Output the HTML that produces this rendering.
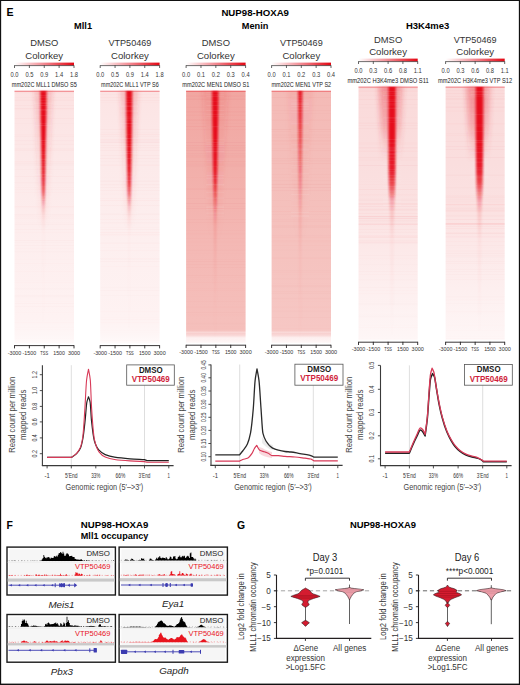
<!DOCTYPE html>
<html><head><meta charset="utf-8"><title>NUP98-HOXA9 figure</title>
<style>html,body{margin:0;padding:0;background:#fff;}body{width:520px;height:685px;overflow:hidden;font-family:"Liberation Sans",sans-serif;}svg{display:block;}</style>
</head><body>
<svg width="520" height="685" viewBox="0 0 520 685" font-family='"Liberation Sans", sans-serif'><defs><linearGradient id="cb0"><stop offset="0" stop-color="#fff"/><stop offset="0.5" stop-color="#f28890"/><stop offset="1" stop-color="#e30613"/></linearGradient><linearGradient id="hb0" x1="0" y1="0" x2="0" y2="1"><stop offset="0" stop-color="#fce2e2"/><stop offset="0.3" stop-color="#fce9e9"/><stop offset="0.6" stop-color="#fdeeee"/><stop offset="0.9" stop-color="#fef2f2"/><stop offset="0.97" stop-color="#fef6f6"/><stop offset="1" stop-color="#fffafa"/></linearGradient><linearGradient id="hh0" x1="0" y1="0" x2="0" y2="1"><stop offset="0" stop-color="#e8303a" stop-opacity="0.22"/><stop offset="0.4" stop-color="#e8303a" stop-opacity="0.12"/><stop offset="1" stop-color="#e8303a" stop-opacity="0"/></linearGradient><linearGradient id="st0" x1="0" y1="0" x2="0" y2="1"><stop offset="0" stop-color="#e6101c" stop-opacity="1"/><stop offset="0.1" stop-color="#e6101c" stop-opacity="1"/><stop offset="0.23" stop-color="#e6101c" stop-opacity="1"/><stop offset="0.3" stop-color="#e6101c" stop-opacity="0.95"/><stop offset="0.36" stop-color="#e6101c" stop-opacity="0.85"/><stop offset="0.4" stop-color="#e6101c" stop-opacity="0.7"/><stop offset="0.43" stop-color="#e6101c" stop-opacity="0.45"/><stop offset="0.46" stop-color="#e6101c" stop-opacity="0.22"/><stop offset="0.5" stop-color="#e6101c" stop-opacity="0.08"/><stop offset="0.56" stop-color="#e6101c" stop-opacity="0.02"/><stop offset="1" stop-color="#e6101c" stop-opacity="0"/></linearGradient><linearGradient id="cb1"><stop offset="0" stop-color="#fff"/><stop offset="0.5" stop-color="#f28890"/><stop offset="1" stop-color="#e30613"/></linearGradient><linearGradient id="hb1" x1="0" y1="0" x2="0" y2="1"><stop offset="0" stop-color="#fce4e4"/><stop offset="0.3" stop-color="#fceaea"/><stop offset="0.6" stop-color="#fdefef"/><stop offset="0.9" stop-color="#fef2f2"/><stop offset="0.97" stop-color="#fef6f6"/><stop offset="1" stop-color="#fffafa"/></linearGradient><linearGradient id="hh1" x1="0" y1="0" x2="0" y2="1"><stop offset="0" stop-color="#e8303a" stop-opacity="0.22"/><stop offset="0.4" stop-color="#e8303a" stop-opacity="0.12"/><stop offset="1" stop-color="#e8303a" stop-opacity="0"/></linearGradient><linearGradient id="st1" x1="0" y1="0" x2="0" y2="1"><stop offset="0" stop-color="#e6101c" stop-opacity="1"/><stop offset="0.1" stop-color="#e6101c" stop-opacity="1"/><stop offset="0.23" stop-color="#e6101c" stop-opacity="1"/><stop offset="0.3" stop-color="#e6101c" stop-opacity="0.95"/><stop offset="0.36" stop-color="#e6101c" stop-opacity="0.85"/><stop offset="0.4" stop-color="#e6101c" stop-opacity="0.7"/><stop offset="0.43" stop-color="#e6101c" stop-opacity="0.45"/><stop offset="0.46" stop-color="#e6101c" stop-opacity="0.22"/><stop offset="0.5" stop-color="#e6101c" stop-opacity="0.08"/><stop offset="0.56" stop-color="#e6101c" stop-opacity="0.02"/><stop offset="1" stop-color="#e6101c" stop-opacity="0"/></linearGradient><linearGradient id="cb2"><stop offset="0" stop-color="#fff"/><stop offset="0.5" stop-color="#f28890"/><stop offset="1" stop-color="#e30613"/></linearGradient><linearGradient id="hb2" x1="0" y1="0" x2="0" y2="1"><stop offset="0" stop-color="#f1a6a1"/><stop offset="0.3" stop-color="#f2afaa"/><stop offset="0.6" stop-color="#f4b8b4"/><stop offset="0.95" stop-color="#f5c0bc"/><stop offset="0.96" stop-color="#fad8d7"/><stop offset="0.96" stop-color="#f7cccb"/><stop offset="0.97" stop-color="#f9d6d5"/><stop offset="0.98" stop-color="#fdf0f0"/><stop offset="1" stop-color="#fef7f7"/></linearGradient><linearGradient id="hh2" x1="0" y1="0" x2="0" y2="1"><stop offset="0" stop-color="#e8303a" stop-opacity="0.13"/><stop offset="0.35" stop-color="#e8303a" stop-opacity="0.08"/><stop offset="1" stop-color="#e8303a" stop-opacity="0"/></linearGradient><linearGradient id="st2" x1="0" y1="0" x2="0" y2="1"><stop offset="0" stop-color="#e6101c" stop-opacity="1"/><stop offset="0.1" stop-color="#e6101c" stop-opacity="1"/><stop offset="0.23" stop-color="#e6101c" stop-opacity="1"/><stop offset="0.3" stop-color="#e6101c" stop-opacity="0.95"/><stop offset="0.36" stop-color="#e6101c" stop-opacity="0.85"/><stop offset="0.4" stop-color="#e6101c" stop-opacity="0.7"/><stop offset="0.45" stop-color="#e6101c" stop-opacity="0.45"/><stop offset="0.48" stop-color="#e6101c" stop-opacity="0.3"/><stop offset="0.53" stop-color="#e6101c" stop-opacity="0.15"/><stop offset="0.65" stop-color="#e6101c" stop-opacity="0.08"/><stop offset="0.8" stop-color="#e6101c" stop-opacity="0.03"/><stop offset="1" stop-color="#e6101c" stop-opacity="0"/></linearGradient><linearGradient id="cb3"><stop offset="0" stop-color="#fff"/><stop offset="0.5" stop-color="#f28890"/><stop offset="1" stop-color="#e30613"/></linearGradient><linearGradient id="hb3" x1="0" y1="0" x2="0" y2="1"><stop offset="0" stop-color="#f4bab6"/><stop offset="0.3" stop-color="#f4beba"/><stop offset="0.6" stop-color="#f5c2be"/><stop offset="0.95" stop-color="#f6c7c4"/><stop offset="0.96" stop-color="#fadad9"/><stop offset="0.96" stop-color="#f7cecd"/><stop offset="0.97" stop-color="#f9d8d7"/><stop offset="0.98" stop-color="#fdf0f0"/><stop offset="1" stop-color="#fef7f7"/></linearGradient><linearGradient id="hh3" x1="0" y1="0" x2="0" y2="1"><stop offset="0" stop-color="#e8303a" stop-opacity="0.06"/><stop offset="0.35" stop-color="#e8303a" stop-opacity="0.04"/><stop offset="1" stop-color="#e8303a" stop-opacity="0"/></linearGradient><linearGradient id="st3" x1="0" y1="0" x2="0" y2="1"><stop offset="0" stop-color="#e6101c" stop-opacity="0.92"/><stop offset="0.15" stop-color="#e6101c" stop-opacity="0.68"/><stop offset="0.3" stop-color="#e6101c" stop-opacity="0.42"/><stop offset="0.4" stop-color="#e6101c" stop-opacity="0.24"/><stop offset="0.5" stop-color="#e6101c" stop-opacity="0.12"/><stop offset="0.65" stop-color="#e6101c" stop-opacity="0.05"/><stop offset="1" stop-color="#e6101c" stop-opacity="0"/></linearGradient><linearGradient id="cb4"><stop offset="0" stop-color="#fff"/><stop offset="0.5" stop-color="#f28890"/><stop offset="1" stop-color="#e30613"/></linearGradient><linearGradient id="hb4" x1="0" y1="0" x2="0" y2="1"><stop offset="0" stop-color="#fadada"/><stop offset="0.3" stop-color="#fadede"/><stop offset="0.5" stop-color="#fbe2e2"/><stop offset="0.62" stop-color="#fce8e8"/><stop offset="0.8" stop-color="#fdefef"/><stop offset="1" stop-color="#fef6f6"/></linearGradient><linearGradient id="hh4" x1="0" y1="0" x2="0" y2="1"><stop offset="0" stop-color="#e8303a" stop-opacity="0.35"/><stop offset="0.3" stop-color="#e8303a" stop-opacity="0.25"/><stop offset="0.45" stop-color="#e8303a" stop-opacity="0.1"/><stop offset="0.6" stop-color="#e8303a" stop-opacity="0"/></linearGradient><linearGradient id="st4" x1="0" y1="0" x2="0" y2="1"><stop offset="0" stop-color="#e6101c" stop-opacity="1"/><stop offset="0.2" stop-color="#e6101c" stop-opacity="1"/><stop offset="0.33" stop-color="#e6101c" stop-opacity="0.92"/><stop offset="0.38" stop-color="#e6101c" stop-opacity="0.75"/><stop offset="0.42" stop-color="#e6101c" stop-opacity="0.5"/><stop offset="0.45" stop-color="#e6101c" stop-opacity="0.28"/><stop offset="0.5" stop-color="#e6101c" stop-opacity="0.12"/><stop offset="0.6" stop-color="#e6101c" stop-opacity="0.04"/><stop offset="1" stop-color="#e6101c" stop-opacity="0"/></linearGradient><linearGradient id="cb5"><stop offset="0" stop-color="#fff"/><stop offset="0.5" stop-color="#f28890"/><stop offset="1" stop-color="#e30613"/></linearGradient><linearGradient id="hb5" x1="0" y1="0" x2="0" y2="1"><stop offset="0" stop-color="#fadada"/><stop offset="0.3" stop-color="#fadede"/><stop offset="0.5" stop-color="#fbe2e2"/><stop offset="0.62" stop-color="#fce8e8"/><stop offset="0.8" stop-color="#fdefef"/><stop offset="1" stop-color="#fef6f6"/></linearGradient><linearGradient id="hh5" x1="0" y1="0" x2="0" y2="1"><stop offset="0" stop-color="#e8303a" stop-opacity="0.35"/><stop offset="0.3" stop-color="#e8303a" stop-opacity="0.25"/><stop offset="0.45" stop-color="#e8303a" stop-opacity="0.1"/><stop offset="0.6" stop-color="#e8303a" stop-opacity="0"/></linearGradient><linearGradient id="st5" x1="0" y1="0" x2="0" y2="1"><stop offset="0" stop-color="#e6101c" stop-opacity="1"/><stop offset="0.2" stop-color="#e6101c" stop-opacity="1"/><stop offset="0.33" stop-color="#e6101c" stop-opacity="0.92"/><stop offset="0.38" stop-color="#e6101c" stop-opacity="0.75"/><stop offset="0.42" stop-color="#e6101c" stop-opacity="0.5"/><stop offset="0.45" stop-color="#e6101c" stop-opacity="0.28"/><stop offset="0.5" stop-color="#e6101c" stop-opacity="0.12"/><stop offset="0.6" stop-color="#e6101c" stop-opacity="0.04"/><stop offset="1" stop-color="#e6101c" stop-opacity="0"/></linearGradient><filter id="bl1" x="-50%" y="-5%" width="200%" height="110%"><feGaussianBlur stdDeviation="0.9 0.2"/></filter><filter id="bl2" x="-50%" y="-5%" width="200%" height="110%"><feGaussianBlur stdDeviation="2 1"/></filter></defs><rect x="0" y="0" width="520" height="685" fill="#fff"/>
<rect x="0" y="0" width="1.15" height="685" fill="#111"/>
<rect x="518.85" y="0" width="1.15" height="685" fill="#111"/>
<rect x="0" y="0" width="520" height="1" fill="#111"/>
<rect x="0" y="683.6" width="520" height="1.4" fill="#111"/>
<text x="6.6" y="15.9" font-size="10.6" font-weight="bold" fill="#000">E</text>
<text x="255.2" y="15.9" font-size="9.1" text-anchor="middle" font-weight="bold" textLength="67.6" lengthAdjust="spacingAndGlyphs">NUP98-HOXA9</text>
<text x="83.1" y="29" font-size="9.3" text-anchor="middle" font-weight="bold" textLength="18" lengthAdjust="spacingAndGlyphs">Mll1</text>
<text x="255.1" y="29" font-size="9.3" text-anchor="middle" font-weight="bold" textLength="26.5" lengthAdjust="spacingAndGlyphs">Menin</text>
<text x="427.6" y="28.8" font-size="9.1" text-anchor="middle" font-weight="bold" textLength="43.2" lengthAdjust="spacingAndGlyphs">H3K4me3</text>
<text x="44.25" y="45.9" font-size="9.6" text-anchor="middle" fill="#333" textLength="28.2" lengthAdjust="spacingAndGlyphs">DMSO</text>
<text x="44.25" y="58.7" font-size="9.6" text-anchor="middle" fill="#333" textLength="37.8" lengthAdjust="spacingAndGlyphs">Colorkey</text>
<rect x="14.5" y="62.6" width="59.5" height="2.9" fill="url(#cb0)"/>
<line x1="14.5" y1="65.6" x2="74" y2="65.6" stroke="#333" stroke-width="0.7"/>
<line x1="14.5" y1="65.3" x2="14.5" y2="68" stroke="#333" stroke-width="0.75"/>
<text x="14.5" y="76.9" font-size="7.2" text-anchor="middle" fill="#333" textLength="8" lengthAdjust="spacingAndGlyphs">0.0</text>
<line x1="29.38" y1="65.3" x2="29.38" y2="68" stroke="#333" stroke-width="0.75"/>
<text x="29.38" y="76.9" font-size="7.2" text-anchor="middle" fill="#333" textLength="8" lengthAdjust="spacingAndGlyphs">0.5</text>
<line x1="44.25" y1="65.3" x2="44.25" y2="68" stroke="#333" stroke-width="0.75"/>
<text x="44.25" y="76.9" font-size="7.2" text-anchor="middle" fill="#333" textLength="8" lengthAdjust="spacingAndGlyphs">0.9</text>
<line x1="59.12" y1="65.3" x2="59.12" y2="68" stroke="#333" stroke-width="0.75"/>
<text x="59.12" y="76.9" font-size="7.2" text-anchor="middle" fill="#333" textLength="8" lengthAdjust="spacingAndGlyphs">1.4</text>
<line x1="74" y1="65.3" x2="74" y2="68" stroke="#333" stroke-width="0.75"/>
<text x="74" y="76.9" font-size="7.2" text-anchor="middle" fill="#333" textLength="8" lengthAdjust="spacingAndGlyphs">1.8</text>
<text x="44.25" y="87" font-size="6.8" text-anchor="middle" fill="#222" textLength="65" lengthAdjust="spacingAndGlyphs">mm202C MLL1 DMSO S5</text>
<rect x="14.5" y="90.8" width="59.5" height="252.4" fill="url(#hb0)"/>
<rect x="14.5" y="90.8" width="59.5" height="0.5" fill="#e0303a" opacity="0.03"/>
<rect x="14.5" y="92.41" width="59.5" height="0.7" fill="#e0303a" opacity="0.04"/>
<rect x="14.5" y="97.23" width="59.5" height="0.7" fill="#e0303a" opacity="0.02"/>
<rect x="14.5" y="98.84" width="59.5" height="0.7" fill="#e0303a" opacity="0.02"/>
<rect x="14.5" y="100.45" width="59.5" height="0.5" fill="#e0303a" opacity="0.04"/>
<rect x="14.5" y="105.27" width="59.5" height="0.5" fill="#e0303a" opacity="0.04"/>
<rect x="14.5" y="108.48" width="59.5" height="0.7" fill="#e0303a" opacity="0.06"/>
<rect x="14.5" y="118.13" width="59.5" height="0.5" fill="#e0303a" opacity="0.04"/>
<rect x="14.5" y="122.95" width="59.5" height="0.5" fill="#e0303a" opacity="0.02"/>
<rect x="14.5" y="134.21" width="59.5" height="0.5" fill="#e0303a" opacity="0.02"/>
<rect x="14.5" y="135.81" width="59.5" height="0.7" fill="#e0303a" opacity="0.03"/>
<rect x="14.5" y="140.64" width="59.5" height="0.5" fill="#e0303a" opacity="0.05"/>
<rect x="14.5" y="143.85" width="59.5" height="0.7" fill="#e0303a" opacity="0.03"/>
<rect x="14.5" y="148.68" width="59.5" height="0.7" fill="#e0303a" opacity="0.04"/>
<rect x="14.5" y="150.28" width="59.5" height="0.7" fill="#e0303a" opacity="0.03"/>
<rect x="14.5" y="161.54" width="59.5" height="0.7" fill="#e0303a" opacity="0.04"/>
<rect x="14.5" y="163.14" width="59.5" height="0.7" fill="#e0303a" opacity="0.03"/>
<rect x="14.5" y="164.75" width="59.5" height="0.5" fill="#e0303a" opacity="0.03"/>
<rect x="14.5" y="169.57" width="59.5" height="0.5" fill="#e0303a" opacity="0.02"/>
<rect x="14.5" y="176.01" width="59.5" height="0.7" fill="#e0303a" opacity="0.03"/>
<rect x="14.5" y="182.44" width="59.5" height="0.7" fill="#e0303a" opacity="0.03"/>
<rect x="14.5" y="187.26" width="59.5" height="0.5" fill="#e0303a" opacity="0.02"/>
<rect x="14.5" y="188.87" width="59.5" height="0.7" fill="#e0303a" opacity="0.02"/>
<rect x="14.5" y="192.08" width="59.5" height="0.5" fill="#e0303a" opacity="0.02"/>
<rect x="14.5" y="206.55" width="59.5" height="0.7" fill="#e0303a" opacity="0.04"/>
<rect x="14.5" y="214.59" width="59.5" height="0.7" fill="#e0303a" opacity="0.04"/>
<rect x="14.5" y="216.2" width="59.5" height="0.5" fill="#e0303a" opacity="0.02"/>
<rect x="14.5" y="217.8" width="59.5" height="0.5" fill="#e0303a" opacity="0.03"/>
<rect x="14.5" y="222.63" width="59.5" height="0.7" fill="#e0303a" opacity="0.02"/>
<rect x="14.5" y="224.23" width="59.5" height="0.7" fill="#e0303a" opacity="0.02"/>
<rect x="14.5" y="229.06" width="59.5" height="0.7" fill="#e0303a" opacity="0.02"/>
<rect x="14.5" y="232.27" width="59.5" height="0.7" fill="#e0303a" opacity="0.01"/>
<rect x="14.5" y="240.31" width="59.5" height="0.7" fill="#e0303a" opacity="0.03"/>
<rect x="14.5" y="241.92" width="59.5" height="0.5" fill="#e0303a" opacity="0.02"/>
<rect x="14.5" y="245.13" width="59.5" height="0.5" fill="#e0303a" opacity="0.03"/>
<rect x="14.5" y="248.35" width="59.5" height="0.5" fill="#e0303a" opacity="0.02"/>
<rect x="14.5" y="251.56" width="59.5" height="0.7" fill="#e0303a" opacity="0.02"/>
<rect x="14.5" y="259.6" width="59.5" height="0.7" fill="#e0303a" opacity="0.01"/>
<rect x="14.5" y="262.82" width="59.5" height="0.7" fill="#e0303a" opacity="0.02"/>
<rect x="14.5" y="270.86" width="59.5" height="0.7" fill="#e0303a" opacity="0.02"/>
<rect x="14.5" y="280.5" width="59.5" height="0.5" fill="#e0303a" opacity="0.01"/>
<rect x="14.5" y="282.11" width="59.5" height="0.5" fill="#e0303a" opacity="0.02"/>
<rect x="14.5" y="288.54" width="59.5" height="0.7" fill="#e0303a" opacity="0.02"/>
<rect x="14.5" y="294.97" width="59.5" height="0.7" fill="#e0303a" opacity="0.02"/>
<rect x="14.5" y="296.58" width="59.5" height="0.7" fill="#e0303a" opacity="0.02"/>
<rect x="14.5" y="301.4" width="59.5" height="0.5" fill="#e0303a" opacity="0.01"/>
<rect x="14.5" y="303.01" width="59.5" height="0.7" fill="#e0303a" opacity="0.02"/>
<rect x="14.5" y="306.22" width="59.5" height="0.7" fill="#e0303a" opacity="0.02"/>
<rect x="14.5" y="312.65" width="59.5" height="0.5" fill="#e0303a" opacity="0.01"/>
<rect x="14.5" y="322.3" width="59.5" height="0.7" fill="#e0303a" opacity="0.01"/>
<rect x="14.5" y="327.12" width="59.5" height="0.5" fill="#e0303a" opacity="0.01"/>
<rect x="14.5" y="328.73" width="59.5" height="0.7" fill="#e0303a" opacity="0.01"/>
<rect x="14.5" y="338.38" width="59.5" height="0.5" fill="#e0303a" opacity="0.01"/>
<path d="M34.4 90.8 L52.4 90.8 L47.4 229.62 L39.4 229.62 Z" fill="url(#hh0)" filter="url(#bl2)"/>
<path d="M40.2 90.8 L40.25 95.01 L40.3 99.21 L40.35 103.42 L40.4 107.63 L40.45 111.83 L40.5 116.04 L40.59 120.25 L40.68 124.45 L40.77 128.66 L40.86 132.87 L40.95 137.07 L41.04 141.28 L41.13 145.49 L41.21 149.69 L41.27 153.9 L41.33 158.11 L41.39 162.31 L41.45 166.52 L41.52 170.73 L41.59 174.93 L41.66 179.14 L41.73 183.35 L41.82 187.55 L41.9 191.76 L41.98 195.97 L42.07 200.17 L42.15 204.38 L42.23 208.59 L42.32 212.79 L42.4 217 L42.43 221.21 L42.46 225.41 L42.48 229.62 L42.5 233.83 L42.5 238.03 L42.5 242.24 L42.5 246.45 L42.5 250.65 L42.5 254.86 L42.5 259.07 L42.5 263.27 L42.5 267.48 L42.5 271.69 L42.5 275.89 L42.5 280.1 L42.5 284.31 L42.5 288.51 L42.5 292.72 L42.5 296.93 L42.5 301.13 L42.5 305.34 L42.5 309.55 L42.5 313.75 L42.5 317.96 L42.5 322.17 L42.5 326.37 L42.5 330.58 L42.5 334.79 L42.5 338.99 L42.5 343.2 L44.3 343.2 L44.3 338.99 L44.3 334.79 L44.3 330.58 L44.3 326.37 L44.3 322.17 L44.3 317.96 L44.3 313.75 L44.3 309.55 L44.3 305.34 L44.3 301.13 L44.3 296.93 L44.3 292.72 L44.3 288.51 L44.3 284.31 L44.3 280.1 L44.3 275.89 L44.3 271.69 L44.3 267.48 L44.3 263.27 L44.3 259.07 L44.3 254.86 L44.3 250.65 L44.3 246.45 L44.3 242.24 L44.3 238.03 L44.3 233.83 L44.32 229.62 L44.34 225.41 L44.37 221.21 L44.4 217 L44.48 212.79 L44.57 208.59 L44.65 204.38 L44.73 200.17 L44.82 195.97 L44.9 191.76 L44.98 187.55 L45.07 183.35 L45.14 179.14 L45.21 174.93 L45.28 170.73 L45.35 166.52 L45.41 162.31 L45.47 158.11 L45.53 153.9 L45.59 149.69 L45.67 145.49 L45.76 141.28 L45.85 137.07 L45.94 132.87 L46.03 128.66 L46.12 124.45 L46.21 120.25 L46.3 116.04 L46.35 111.83 L46.4 107.63 L46.45 103.42 L46.5 99.21 L46.55 95.01 L46.6 90.8Z" fill="url(#st0)" filter="url(#bl1)"/>
<g><rect x="34.4" y="91.8" width="18" height="0.6" fill="#fff" opacity="0.11"/><rect x="34.4" y="95.55" width="18" height="0.6" fill="#fff" opacity="0.16"/><rect x="34.4" y="97.15" width="18" height="0.6" fill="#fff" opacity="0.11"/><rect x="34.4" y="100.24" width="18" height="0.6" fill="#fff" opacity="0.1"/><rect x="34.4" y="102.14" width="18" height="0.6" fill="#fff" opacity="0.08"/><rect x="34.4" y="103.28" width="18" height="0.6" fill="#fff" opacity="0.14"/><rect x="34.4" y="105.44" width="18" height="0.6" fill="#fff" opacity="0.17"/><rect x="34.4" y="109.02" width="18" height="0.6" fill="#fff" opacity="0.14"/><rect x="34.4" y="110.08" width="18" height="0.6" fill="#fff" opacity="0.11"/><rect x="34.4" y="115.23" width="18" height="0.6" fill="#fff" opacity="0.11"/><rect x="34.4" y="123.57" width="18" height="0.6" fill="#fff" opacity="0.13"/><rect x="34.4" y="125.16" width="18" height="0.6" fill="#fff" opacity="0.16"/><rect x="34.4" y="140.34" width="18" height="0.6" fill="#fff" opacity="0.15"/><rect x="34.4" y="142.16" width="18" height="0.6" fill="#fff" opacity="0.07"/><rect x="34.4" y="143.83" width="18" height="0.6" fill="#fff" opacity="0.1"/><rect x="34.4" y="148.74" width="18" height="0.6" fill="#fff" opacity="0.07"/><rect x="34.4" y="151.73" width="18" height="0.6" fill="#fff" opacity="0.11"/><rect x="34.4" y="153.85" width="18" height="0.6" fill="#fff" opacity="0.15"/><rect x="34.4" y="158.88" width="18" height="0.6" fill="#fff" opacity="0.16"/><rect x="34.4" y="160.92" width="18" height="0.6" fill="#fff" opacity="0.08"/><rect x="34.4" y="162.14" width="18" height="0.6" fill="#fff" opacity="0.08"/><rect x="34.4" y="163.87" width="18" height="0.6" fill="#fff" opacity="0.07"/><rect x="34.4" y="166" width="18" height="0.6" fill="#fff" opacity="0.12"/><rect x="34.4" y="167.52" width="18" height="0.6" fill="#fff" opacity="0.11"/><rect x="34.4" y="169.9" width="18" height="0.6" fill="#fff" opacity="0.09"/><rect x="34.4" y="174.43" width="18" height="0.6" fill="#fff" opacity="0.15"/><rect x="34.4" y="176.99" width="18" height="0.6" fill="#fff" opacity="0.09"/><rect x="34.4" y="181.68" width="18" height="0.6" fill="#fff" opacity="0.07"/><rect x="34.4" y="186.65" width="18" height="0.6" fill="#fff" opacity="0.14"/><rect x="34.4" y="196.48" width="18" height="0.6" fill="#fff" opacity="0.11"/><rect x="34.4" y="197.66" width="18" height="0.6" fill="#fff" opacity="0.16"/><rect x="34.4" y="199.27" width="18" height="0.6" fill="#fff" opacity="0.14"/><rect x="34.4" y="201" width="18" height="0.6" fill="#fff" opacity="0.13"/><rect x="34.4" y="202.66" width="18" height="0.6" fill="#fff" opacity="0.1"/><rect x="34.4" y="205.87" width="18" height="0.6" fill="#fff" opacity="0.12"/><rect x="34.4" y="208.7" width="18" height="0.6" fill="#fff" opacity="0.11"/><rect x="34.4" y="209.63" width="18" height="0.6" fill="#fff" opacity="0.07"/><rect x="34.4" y="213.82" width="18" height="0.6" fill="#fff" opacity="0.15"/><rect x="34.4" y="215.48" width="18" height="0.6" fill="#fff" opacity="0.17"/></g>
<rect x="14.5" y="90.8" width="59.5" height="0.8" fill="#e8303a" opacity="0.7"/>
<line x1="14.5" y1="345.6" x2="74" y2="345.6" stroke="#231f20" stroke-width="0.9"/>
<line x1="14.5" y1="345.2" x2="14.5" y2="348.4" stroke="#231f20" stroke-width="0.9"/>
<text x="14.5" y="354.5" font-size="6.2" text-anchor="middle" fill="#333" textLength="13.6" lengthAdjust="spacingAndGlyphs">-3000</text>
<line x1="29.38" y1="345.2" x2="29.38" y2="348.4" stroke="#231f20" stroke-width="0.9"/>
<text x="29.38" y="354.5" font-size="6.2" text-anchor="middle" fill="#333" textLength="13.6" lengthAdjust="spacingAndGlyphs">-1500</text>
<line x1="44.25" y1="345.2" x2="44.25" y2="348.4" stroke="#231f20" stroke-width="0.9"/>
<text x="44.25" y="354.5" font-size="6.2" text-anchor="middle" fill="#333" textLength="7.8" lengthAdjust="spacingAndGlyphs">TSS</text>
<line x1="59.12" y1="345.2" x2="59.12" y2="348.4" stroke="#231f20" stroke-width="0.9"/>
<text x="59.12" y="354.5" font-size="6.2" text-anchor="middle" fill="#333" textLength="11.6" lengthAdjust="spacingAndGlyphs">1500</text>
<line x1="74" y1="345.2" x2="74" y2="348.4" stroke="#231f20" stroke-width="0.9"/>
<text x="74" y="354.5" font-size="6.2" text-anchor="middle" fill="#333" textLength="12.2" lengthAdjust="spacingAndGlyphs">3000</text>
<text x="129.9" y="45.9" font-size="9.6" text-anchor="middle" fill="#333" textLength="42.8" lengthAdjust="spacingAndGlyphs">VTP50469</text>
<text x="129.9" y="58.7" font-size="9.6" text-anchor="middle" fill="#333" textLength="37.8" lengthAdjust="spacingAndGlyphs">Colorkey</text>
<rect x="100.2" y="62.6" width="59.4" height="2.9" fill="url(#cb1)"/>
<line x1="100.2" y1="65.6" x2="159.6" y2="65.6" stroke="#333" stroke-width="0.7"/>
<line x1="100.2" y1="65.3" x2="100.2" y2="68" stroke="#333" stroke-width="0.75"/>
<text x="100.2" y="76.9" font-size="7.2" text-anchor="middle" fill="#333" textLength="8" lengthAdjust="spacingAndGlyphs">0.0</text>
<line x1="115.05" y1="65.3" x2="115.05" y2="68" stroke="#333" stroke-width="0.75"/>
<text x="115.05" y="76.9" font-size="7.2" text-anchor="middle" fill="#333" textLength="8" lengthAdjust="spacingAndGlyphs">0.5</text>
<line x1="129.9" y1="65.3" x2="129.9" y2="68" stroke="#333" stroke-width="0.75"/>
<text x="129.9" y="76.9" font-size="7.2" text-anchor="middle" fill="#333" textLength="8" lengthAdjust="spacingAndGlyphs">0.9</text>
<line x1="144.75" y1="65.3" x2="144.75" y2="68" stroke="#333" stroke-width="0.75"/>
<text x="144.75" y="76.9" font-size="7.2" text-anchor="middle" fill="#333" textLength="8" lengthAdjust="spacingAndGlyphs">1.4</text>
<line x1="159.6" y1="65.3" x2="159.6" y2="68" stroke="#333" stroke-width="0.75"/>
<text x="159.6" y="76.9" font-size="7.2" text-anchor="middle" fill="#333" textLength="8" lengthAdjust="spacingAndGlyphs">1.8</text>
<text x="129.9" y="87" font-size="6.8" text-anchor="middle" fill="#222" textLength="57.6" lengthAdjust="spacingAndGlyphs">mm202C MLL1 VTP S6</text>
<rect x="100.2" y="90.8" width="59.4" height="252.4" fill="url(#hb1)"/>
<rect x="100.2" y="94.02" width="59.4" height="0.5" fill="#e0303a" opacity="0.03"/>
<rect x="100.2" y="97.23" width="59.4" height="0.7" fill="#e0303a" opacity="0.04"/>
<rect x="100.2" y="100.45" width="59.4" height="0.5" fill="#e0303a" opacity="0.04"/>
<rect x="100.2" y="102.05" width="59.4" height="0.5" fill="#e0303a" opacity="0.02"/>
<rect x="100.2" y="129.38" width="59.4" height="0.5" fill="#e0303a" opacity="0.04"/>
<rect x="100.2" y="132.6" width="59.4" height="0.7" fill="#e0303a" opacity="0.02"/>
<rect x="100.2" y="134.21" width="59.4" height="0.7" fill="#e0303a" opacity="0.04"/>
<rect x="100.2" y="135.81" width="59.4" height="0.5" fill="#e0303a" opacity="0.04"/>
<rect x="100.2" y="139.03" width="59.4" height="0.7" fill="#e0303a" opacity="0.04"/>
<rect x="100.2" y="140.64" width="59.4" height="0.7" fill="#e0303a" opacity="0.05"/>
<rect x="100.2" y="142.24" width="59.4" height="0.7" fill="#e0303a" opacity="0.05"/>
<rect x="100.2" y="145.46" width="59.4" height="0.5" fill="#e0303a" opacity="0.04"/>
<rect x="100.2" y="147.07" width="59.4" height="0.7" fill="#e0303a" opacity="0.03"/>
<rect x="100.2" y="148.68" width="59.4" height="0.7" fill="#e0303a" opacity="0.02"/>
<rect x="100.2" y="150.28" width="59.4" height="0.7" fill="#e0303a" opacity="0.03"/>
<rect x="100.2" y="155.11" width="59.4" height="0.7" fill="#e0303a" opacity="0.03"/>
<rect x="100.2" y="158.32" width="59.4" height="0.5" fill="#e0303a" opacity="0.05"/>
<rect x="100.2" y="161.54" width="59.4" height="0.5" fill="#e0303a" opacity="0.02"/>
<rect x="100.2" y="164.75" width="59.4" height="0.7" fill="#e0303a" opacity="0.04"/>
<rect x="100.2" y="177.61" width="59.4" height="0.5" fill="#e0303a" opacity="0.02"/>
<rect x="100.2" y="180.83" width="59.4" height="0.5" fill="#e0303a" opacity="0.05"/>
<rect x="100.2" y="184.04" width="59.4" height="0.5" fill="#e0303a" opacity="0.04"/>
<rect x="100.2" y="185.65" width="59.4" height="0.5" fill="#e0303a" opacity="0.02"/>
<rect x="100.2" y="187.26" width="59.4" height="0.7" fill="#e0303a" opacity="0.03"/>
<rect x="100.2" y="190.47" width="59.4" height="0.5" fill="#e0303a" opacity="0.04"/>
<rect x="100.2" y="193.69" width="59.4" height="0.7" fill="#e0303a" opacity="0.02"/>
<rect x="100.2" y="198.51" width="59.4" height="0.5" fill="#e0303a" opacity="0.03"/>
<rect x="100.2" y="200.12" width="59.4" height="0.7" fill="#e0303a" opacity="0.04"/>
<rect x="100.2" y="201.73" width="59.4" height="0.5" fill="#e0303a" opacity="0.01"/>
<rect x="100.2" y="204.94" width="59.4" height="0.7" fill="#e0303a" opacity="0.03"/>
<rect x="100.2" y="212.98" width="59.4" height="0.5" fill="#e0303a" opacity="0.02"/>
<rect x="100.2" y="214.59" width="59.4" height="0.5" fill="#e0303a" opacity="0.04"/>
<rect x="100.2" y="217.8" width="59.4" height="0.5" fill="#e0303a" opacity="0.01"/>
<rect x="100.2" y="219.41" width="59.4" height="0.7" fill="#e0303a" opacity="0.03"/>
<rect x="100.2" y="222.63" width="59.4" height="0.7" fill="#e0303a" opacity="0.03"/>
<rect x="100.2" y="227.45" width="59.4" height="0.7" fill="#e0303a" opacity="0.02"/>
<rect x="100.2" y="229.06" width="59.4" height="0.7" fill="#e0303a" opacity="0.02"/>
<rect x="100.2" y="232.27" width="59.4" height="0.7" fill="#e0303a" opacity="0.04"/>
<rect x="100.2" y="233.88" width="59.4" height="0.7" fill="#e0303a" opacity="0.04"/>
<rect x="100.2" y="235.49" width="59.4" height="0.7" fill="#e0303a" opacity="0.02"/>
<rect x="100.2" y="241.92" width="59.4" height="0.5" fill="#e0303a" opacity="0.02"/>
<rect x="100.2" y="243.53" width="59.4" height="0.5" fill="#e0303a" opacity="0.03"/>
<rect x="100.2" y="246.74" width="59.4" height="0.7" fill="#e0303a" opacity="0.01"/>
<rect x="100.2" y="249.96" width="59.4" height="0.5" fill="#e0303a" opacity="0.03"/>
<rect x="100.2" y="257.99" width="59.4" height="0.5" fill="#e0303a" opacity="0.03"/>
<rect x="100.2" y="259.6" width="59.4" height="0.5" fill="#e0303a" opacity="0.02"/>
<rect x="100.2" y="261.21" width="59.4" height="0.7" fill="#e0303a" opacity="0.03"/>
<rect x="100.2" y="266.03" width="59.4" height="0.5" fill="#e0303a" opacity="0.02"/>
<rect x="100.2" y="275.68" width="59.4" height="0.5" fill="#e0303a" opacity="0.01"/>
<rect x="100.2" y="283.72" width="59.4" height="0.5" fill="#e0303a" opacity="0.01"/>
<rect x="100.2" y="286.93" width="59.4" height="0.5" fill="#e0303a" opacity="0.02"/>
<rect x="100.2" y="290.15" width="59.4" height="0.7" fill="#e0303a" opacity="0.02"/>
<rect x="100.2" y="294.97" width="59.4" height="0.5" fill="#e0303a" opacity="0.02"/>
<rect x="100.2" y="311.05" width="59.4" height="0.7" fill="#e0303a" opacity="0.01"/>
<rect x="100.2" y="317.48" width="59.4" height="0.7" fill="#e0303a" opacity="0.01"/>
<rect x="100.2" y="319.09" width="59.4" height="0.5" fill="#e0303a" opacity="0.02"/>
<rect x="100.2" y="322.3" width="59.4" height="0.7" fill="#e0303a" opacity="0.01"/>
<rect x="100.2" y="330.34" width="59.4" height="0.7" fill="#e0303a" opacity="0.01"/>
<rect x="100.2" y="331.95" width="59.4" height="0.7" fill="#e0303a" opacity="0.01"/>
<rect x="100.2" y="339.98" width="59.4" height="0.7" fill="#e0303a" opacity="0.01"/>
<path d="M120.2 90.8 L138.2 90.8 L133.2 229.62 L125.2 229.62 Z" fill="url(#hh1)" filter="url(#bl2)"/>
<path d="M126.1 90.8 L126.13 95.01 L126.17 99.21 L126.2 103.42 L126.23 107.63 L126.27 111.83 L126.3 116.04 L126.36 120.25 L126.43 124.45 L126.49 128.66 L126.56 132.87 L126.62 137.07 L126.68 141.28 L126.75 145.49 L126.81 149.69 L126.89 153.9 L126.96 158.11 L127.03 162.31 L127.1 166.52 L127.18 170.73 L127.27 174.93 L127.35 179.14 L127.44 183.35 L127.55 187.55 L127.65 191.76 L127.76 195.97 L127.87 200.17 L127.95 204.38 L128.03 208.59 L128.12 212.79 L128.2 217 L128.23 221.21 L128.26 225.41 L128.28 229.62 L128.3 233.83 L128.3 238.03 L128.3 242.24 L128.3 246.45 L128.3 250.65 L128.3 254.86 L128.3 259.07 L128.3 263.27 L128.3 267.48 L128.3 271.69 L128.3 275.89 L128.3 280.1 L128.3 284.31 L128.3 288.51 L128.3 292.72 L128.3 296.93 L128.3 301.13 L128.3 305.34 L128.3 309.55 L128.3 313.75 L128.3 317.96 L128.3 322.17 L128.3 326.37 L128.3 330.58 L128.3 334.79 L128.3 338.99 L128.3 343.2 L130.1 343.2 L130.1 338.99 L130.1 334.79 L130.1 330.58 L130.1 326.37 L130.1 322.17 L130.1 317.96 L130.1 313.75 L130.1 309.55 L130.1 305.34 L130.1 301.13 L130.1 296.93 L130.1 292.72 L130.1 288.51 L130.1 284.31 L130.1 280.1 L130.1 275.89 L130.1 271.69 L130.1 267.48 L130.1 263.27 L130.1 259.07 L130.1 254.86 L130.1 250.65 L130.1 246.45 L130.1 242.24 L130.1 238.03 L130.1 233.83 L130.12 229.62 L130.14 225.41 L130.17 221.21 L130.2 217 L130.28 212.79 L130.37 208.59 L130.45 204.38 L130.53 200.17 L130.64 195.97 L130.75 191.76 L130.85 187.55 L130.96 183.35 L131.05 179.14 L131.13 174.93 L131.22 170.73 L131.3 166.52 L131.37 162.31 L131.44 158.11 L131.51 153.9 L131.59 149.69 L131.65 145.49 L131.72 141.28 L131.78 137.07 L131.84 132.87 L131.91 128.66 L131.97 124.45 L132.04 120.25 L132.1 116.04 L132.13 111.83 L132.17 107.63 L132.2 103.42 L132.23 99.21 L132.27 95.01 L132.3 90.8Z" fill="url(#st1)" filter="url(#bl1)"/>
<g><rect x="120.2" y="96.82" width="18" height="0.6" fill="#fff" opacity="0.09"/><rect x="120.2" y="100.26" width="18" height="0.6" fill="#fff" opacity="0.07"/><rect x="120.2" y="102.16" width="18" height="0.6" fill="#fff" opacity="0.12"/><rect x="120.2" y="104.91" width="18" height="0.6" fill="#fff" opacity="0.11"/><rect x="120.2" y="106.2" width="18" height="0.6" fill="#fff" opacity="0.16"/><rect x="120.2" y="110.04" width="18" height="0.6" fill="#fff" opacity="0.11"/><rect x="120.2" y="111.49" width="18" height="0.6" fill="#fff" opacity="0.14"/><rect x="120.2" y="113.99" width="18" height="0.6" fill="#fff" opacity="0.06"/><rect x="120.2" y="115.81" width="18" height="0.6" fill="#fff" opacity="0.13"/><rect x="120.2" y="116.91" width="18" height="0.6" fill="#fff" opacity="0.08"/><rect x="120.2" y="117.89" width="18" height="0.6" fill="#fff" opacity="0.14"/><rect x="120.2" y="119.74" width="18" height="0.6" fill="#fff" opacity="0.14"/><rect x="120.2" y="123.29" width="18" height="0.6" fill="#fff" opacity="0.16"/><rect x="120.2" y="126" width="18" height="0.6" fill="#fff" opacity="0.06"/><rect x="120.2" y="134.28" width="18" height="0.6" fill="#fff" opacity="0.08"/><rect x="120.2" y="138.27" width="18" height="0.6" fill="#fff" opacity="0.17"/><rect x="120.2" y="141.4" width="18" height="0.6" fill="#fff" opacity="0.07"/><rect x="120.2" y="144.37" width="18" height="0.6" fill="#fff" opacity="0.09"/><rect x="120.2" y="146.34" width="18" height="0.6" fill="#fff" opacity="0.17"/><rect x="120.2" y="147.57" width="18" height="0.6" fill="#fff" opacity="0.07"/><rect x="120.2" y="151.06" width="18" height="0.6" fill="#fff" opacity="0.14"/><rect x="120.2" y="153.11" width="18" height="0.6" fill="#fff" opacity="0.14"/><rect x="120.2" y="157.97" width="18" height="0.6" fill="#fff" opacity="0.14"/><rect x="120.2" y="164.26" width="18" height="0.6" fill="#fff" opacity="0.07"/><rect x="120.2" y="165.45" width="18" height="0.6" fill="#fff" opacity="0.08"/><rect x="120.2" y="166.51" width="18" height="0.6" fill="#fff" opacity="0.1"/><rect x="120.2" y="172.76" width="18" height="0.6" fill="#fff" opacity="0.13"/><rect x="120.2" y="175.93" width="18" height="0.6" fill="#fff" opacity="0.11"/><rect x="120.2" y="177.42" width="18" height="0.6" fill="#fff" opacity="0.06"/><rect x="120.2" y="180.24" width="18" height="0.6" fill="#fff" opacity="0.14"/><rect x="120.2" y="187.23" width="18" height="0.6" fill="#fff" opacity="0.11"/><rect x="120.2" y="188.72" width="18" height="0.6" fill="#fff" opacity="0.13"/><rect x="120.2" y="191.82" width="18" height="0.6" fill="#fff" opacity="0.14"/><rect x="120.2" y="196.8" width="18" height="0.6" fill="#fff" opacity="0.15"/><rect x="120.2" y="199.34" width="18" height="0.6" fill="#fff" opacity="0.09"/><rect x="120.2" y="201.54" width="18" height="0.6" fill="#fff" opacity="0.08"/><rect x="120.2" y="206.38" width="18" height="0.6" fill="#fff" opacity="0.06"/><rect x="120.2" y="210.92" width="18" height="0.6" fill="#fff" opacity="0.13"/><rect x="120.2" y="213.04" width="18" height="0.6" fill="#fff" opacity="0.17"/><rect x="120.2" y="216.64" width="18" height="0.6" fill="#fff" opacity="0.07"/></g>
<rect x="100.2" y="90.8" width="59.4" height="0.8" fill="#e8303a" opacity="0.7"/>
<line x1="100.2" y1="345.6" x2="159.6" y2="345.6" stroke="#231f20" stroke-width="0.9"/>
<line x1="100.2" y1="345.2" x2="100.2" y2="348.4" stroke="#231f20" stroke-width="0.9"/>
<text x="100.2" y="354.5" font-size="6.2" text-anchor="middle" fill="#333" textLength="13.6" lengthAdjust="spacingAndGlyphs">-3000</text>
<line x1="115.05" y1="345.2" x2="115.05" y2="348.4" stroke="#231f20" stroke-width="0.9"/>
<text x="115.05" y="354.5" font-size="6.2" text-anchor="middle" fill="#333" textLength="13.6" lengthAdjust="spacingAndGlyphs">-1500</text>
<line x1="129.9" y1="345.2" x2="129.9" y2="348.4" stroke="#231f20" stroke-width="0.9"/>
<text x="129.9" y="354.5" font-size="6.2" text-anchor="middle" fill="#333" textLength="7.8" lengthAdjust="spacingAndGlyphs">TSS</text>
<line x1="144.75" y1="345.2" x2="144.75" y2="348.4" stroke="#231f20" stroke-width="0.9"/>
<text x="144.75" y="354.5" font-size="6.2" text-anchor="middle" fill="#333" textLength="11.6" lengthAdjust="spacingAndGlyphs">1500</text>
<line x1="159.6" y1="345.2" x2="159.6" y2="348.4" stroke="#231f20" stroke-width="0.9"/>
<text x="159.6" y="354.5" font-size="6.2" text-anchor="middle" fill="#333" textLength="12.2" lengthAdjust="spacingAndGlyphs">3000</text>
<text x="215.85" y="45.9" font-size="9.6" text-anchor="middle" fill="#333" textLength="28.2" lengthAdjust="spacingAndGlyphs">DMSO</text>
<text x="215.85" y="58.7" font-size="9.6" text-anchor="middle" fill="#333" textLength="37.8" lengthAdjust="spacingAndGlyphs">Colorkey</text>
<rect x="186.1" y="62.6" width="59.5" height="2.9" fill="url(#cb2)"/>
<line x1="186.1" y1="65.6" x2="245.6" y2="65.6" stroke="#333" stroke-width="0.7"/>
<line x1="186.1" y1="65.3" x2="186.1" y2="68" stroke="#333" stroke-width="0.75"/>
<text x="186.1" y="76.9" font-size="7.2" text-anchor="middle" fill="#333" textLength="8" lengthAdjust="spacingAndGlyphs">0.0</text>
<line x1="200.97" y1="65.3" x2="200.97" y2="68" stroke="#333" stroke-width="0.75"/>
<text x="200.97" y="76.9" font-size="7.2" text-anchor="middle" fill="#333" textLength="8" lengthAdjust="spacingAndGlyphs">0.1</text>
<line x1="215.85" y1="65.3" x2="215.85" y2="68" stroke="#333" stroke-width="0.75"/>
<text x="215.85" y="76.9" font-size="7.2" text-anchor="middle" fill="#333" textLength="8" lengthAdjust="spacingAndGlyphs">0.2</text>
<line x1="230.72" y1="65.3" x2="230.72" y2="68" stroke="#333" stroke-width="0.75"/>
<text x="230.72" y="76.9" font-size="7.2" text-anchor="middle" fill="#333" textLength="8" lengthAdjust="spacingAndGlyphs">0.3</text>
<line x1="245.6" y1="65.3" x2="245.6" y2="68" stroke="#333" stroke-width="0.75"/>
<text x="245.6" y="76.9" font-size="7.2" text-anchor="middle" fill="#333" textLength="8" lengthAdjust="spacingAndGlyphs">0.4</text>
<text x="215.85" y="87" font-size="6.8" text-anchor="middle" fill="#222" textLength="67.1" lengthAdjust="spacingAndGlyphs">mm202C MEN1 DMSO S1</text>
<rect x="186.1" y="90.8" width="59.5" height="252" fill="url(#hb2)"/>
<rect x="186.1" y="90.8" width="59.5" height="0.7" fill="#e0303a" opacity="0.07"/>
<rect x="186.1" y="95.62" width="59.5" height="0.7" fill="#e0303a" opacity="0.07"/>
<rect x="186.1" y="98.83" width="59.5" height="0.7" fill="#e0303a" opacity="0.07"/>
<rect x="186.1" y="106.85" width="59.5" height="0.7" fill="#e0303a" opacity="0.04"/>
<rect x="186.1" y="111.67" width="59.5" height="0.5" fill="#e0303a" opacity="0.07"/>
<rect x="186.1" y="114.88" width="59.5" height="0.7" fill="#e0303a" opacity="0.04"/>
<rect x="186.1" y="119.69" width="59.5" height="0.7" fill="#e0303a" opacity="0.07"/>
<rect x="186.1" y="122.9" width="59.5" height="0.7" fill="#e0303a" opacity="0.02"/>
<rect x="186.1" y="126.11" width="59.5" height="0.7" fill="#e0303a" opacity="0.07"/>
<rect x="186.1" y="129.32" width="59.5" height="0.7" fill="#e0303a" opacity="0.04"/>
<rect x="186.1" y="142.16" width="59.5" height="0.7" fill="#e0303a" opacity="0.05"/>
<rect x="186.1" y="145.37" width="59.5" height="0.7" fill="#e0303a" opacity="0.06"/>
<rect x="186.1" y="146.98" width="59.5" height="0.5" fill="#e0303a" opacity="0.06"/>
<rect x="186.1" y="148.58" width="59.5" height="0.7" fill="#e0303a" opacity="0.04"/>
<rect x="186.1" y="150.19" width="59.5" height="0.7" fill="#e0303a" opacity="0.05"/>
<rect x="186.1" y="153.4" width="59.5" height="0.7" fill="#e0303a" opacity="0.04"/>
<rect x="186.1" y="155" width="59.5" height="0.5" fill="#e0303a" opacity="0.05"/>
<rect x="186.1" y="156.61" width="59.5" height="0.7" fill="#e0303a" opacity="0.06"/>
<rect x="186.1" y="161.42" width="59.5" height="0.7" fill="#e0303a" opacity="0.05"/>
<rect x="186.1" y="163.03" width="59.5" height="0.5" fill="#e0303a" opacity="0.03"/>
<rect x="186.1" y="164.63" width="59.5" height="0.7" fill="#e0303a" opacity="0.04"/>
<rect x="186.1" y="166.24" width="59.5" height="0.5" fill="#e0303a" opacity="0.03"/>
<rect x="186.1" y="177.48" width="59.5" height="0.7" fill="#e0303a" opacity="0.02"/>
<rect x="186.1" y="188.71" width="59.5" height="0.7" fill="#e0303a" opacity="0.05"/>
<rect x="186.1" y="198.34" width="59.5" height="0.7" fill="#e0303a" opacity="0.02"/>
<rect x="186.1" y="203.16" width="59.5" height="0.7" fill="#e0303a" opacity="0.05"/>
<rect x="186.1" y="206.37" width="59.5" height="0.5" fill="#e0303a" opacity="0.02"/>
<rect x="186.1" y="207.97" width="59.5" height="0.5" fill="#e0303a" opacity="0.05"/>
<rect x="186.1" y="219.21" width="59.5" height="0.5" fill="#e0303a" opacity="0.04"/>
<rect x="186.1" y="222.42" width="59.5" height="0.5" fill="#e0303a" opacity="0.04"/>
<rect x="186.1" y="230.44" width="59.5" height="0.5" fill="#e0303a" opacity="0.02"/>
<rect x="186.1" y="233.65" width="59.5" height="0.5" fill="#e0303a" opacity="0.03"/>
<rect x="186.1" y="238.47" width="59.5" height="0.5" fill="#e0303a" opacity="0.02"/>
<rect x="186.1" y="241.68" width="59.5" height="0.7" fill="#e0303a" opacity="0.02"/>
<rect x="186.1" y="244.89" width="59.5" height="0.7" fill="#e0303a" opacity="0.01"/>
<rect x="186.1" y="249.7" width="59.5" height="0.7" fill="#e0303a" opacity="0.02"/>
<rect x="186.1" y="252.91" width="59.5" height="0.7" fill="#e0303a" opacity="0.01"/>
<rect x="186.1" y="259.34" width="59.5" height="0.5" fill="#e0303a" opacity="0.02"/>
<rect x="186.1" y="260.94" width="59.5" height="0.7" fill="#e0303a" opacity="0.04"/>
<rect x="186.1" y="264.15" width="59.5" height="0.7" fill="#e0303a" opacity="0.02"/>
<rect x="186.1" y="267.36" width="59.5" height="0.7" fill="#e0303a" opacity="0.03"/>
<rect x="186.1" y="275.39" width="59.5" height="0.7" fill="#e0303a" opacity="0.02"/>
<rect x="186.1" y="276.99" width="59.5" height="0.5" fill="#e0303a" opacity="0.01"/>
<rect x="186.1" y="281.81" width="59.5" height="0.7" fill="#e0303a" opacity="0.02"/>
<rect x="186.1" y="288.23" width="59.5" height="0.7" fill="#e0303a" opacity="0.01"/>
<rect x="186.1" y="289.83" width="59.5" height="0.7" fill="#e0303a" opacity="0.02"/>
<rect x="186.1" y="296.25" width="59.5" height="0.5" fill="#e0303a" opacity="0.01"/>
<rect x="186.1" y="301.07" width="59.5" height="0.5" fill="#e0303a" opacity="0.03"/>
<rect x="186.1" y="305.88" width="59.5" height="0.5" fill="#e0303a" opacity="0.02"/>
<rect x="186.1" y="307.49" width="59.5" height="0.7" fill="#e0303a" opacity="0.02"/>
<rect x="186.1" y="312.3" width="59.5" height="0.7" fill="#e0303a" opacity="0.02"/>
<rect x="186.1" y="313.91" width="59.5" height="0.7" fill="#e0303a" opacity="0.01"/>
<rect x="186.1" y="315.51" width="59.5" height="0.5" fill="#e0303a" opacity="0.01"/>
<rect x="186.1" y="318.72" width="59.5" height="0.5" fill="#e0303a" opacity="0.01"/>
<rect x="186.1" y="321.93" width="59.5" height="0.5" fill="#e0303a" opacity="0.01"/>
<rect x="186.1" y="323.54" width="59.5" height="0.7" fill="#e0303a" opacity="0.02"/>
<rect x="186.1" y="326.75" width="59.5" height="0.5" fill="#e0303a" opacity="0.02"/>
<rect x="186.1" y="328.35" width="59.5" height="0.7" fill="#e0303a" opacity="0.01"/>
<rect x="186.1" y="339.59" width="59.5" height="0.5" fill="#e0303a" opacity="0.01"/>
<path d="M202.2 90.8 L228.2 90.8 L220.2 242 L210.2 242 Z" fill="url(#hh2)" filter="url(#bl2)"/>
<path d="M212 90.8 L212.03 95 L212.07 99.2 L212.1 103.4 L212.13 107.6 L212.17 111.8 L212.2 116 L212.26 120.2 L212.33 124.4 L212.39 128.6 L212.46 132.8 L212.52 137 L212.58 141.2 L212.65 145.4 L212.71 149.6 L212.79 153.8 L212.86 158 L212.93 162.2 L213 166.4 L213.11 170.6 L213.22 174.8 L213.33 179 L213.45 183.2 L213.57 187.4 L213.7 191.6 L213.77 195.8 L213.83 200 L213.9 204.2 L214.01 208.4 L214.11 212.6 L214.14 216.8 L214.17 221 L214.2 225.2 L214.22 229.4 L214.23 233.6 L214.24 237.8 L214.26 242 L214.27 246.2 L214.29 250.4 L214.3 254.6 L214.31 258.8 L214.32 263 L214.33 267.2 L214.34 271.4 L214.36 275.6 L214.37 279.8 L214.38 284 L214.39 288.2 L214.4 292.4 L214.4 296.6 L214.4 300.8 L214.4 305 L214.4 309.2 L214.4 313.4 L214.4 317.6 L214.4 321.8 L214.4 326 L214.4 330.2 L214.4 334.4 L214.4 338.6 L214.4 342.8 L216 342.8 L216 338.6 L216 334.4 L216 330.2 L216 326 L216 321.8 L216 317.6 L216 313.4 L216 309.2 L216 305 L216 300.8 L216 296.6 L216 292.4 L216.01 288.2 L216.02 284 L216.03 279.8 L216.04 275.6 L216.06 271.4 L216.07 267.2 L216.08 263 L216.09 258.8 L216.1 254.6 L216.11 250.4 L216.13 246.2 L216.14 242 L216.16 237.8 L216.17 233.6 L216.18 229.4 L216.2 225.2 L216.23 221 L216.26 216.8 L216.29 212.6 L216.39 208.4 L216.5 204.2 L216.57 200 L216.63 195.8 L216.7 191.6 L216.82 187.4 L216.95 183.2 L217.07 179 L217.18 174.8 L217.29 170.6 L217.4 166.4 L217.47 162.2 L217.54 158 L217.61 153.8 L217.69 149.6 L217.75 145.4 L217.82 141.2 L217.88 137 L217.94 132.8 L218.01 128.6 L218.07 124.4 L218.14 120.2 L218.2 116 L218.23 111.8 L218.27 107.6 L218.3 103.4 L218.33 99.2 L218.37 95 L218.4 90.8Z" fill="url(#st2)" filter="url(#bl1)"/>
<g><rect x="206.2" y="91.8" width="18" height="0.6" fill="#fff" opacity="0.13"/><rect x="206.2" y="94.61" width="18" height="0.6" fill="#fff" opacity="0.13"/><rect x="206.2" y="96.25" width="18" height="0.6" fill="#fff" opacity="0.12"/><rect x="206.2" y="101.39" width="18" height="0.6" fill="#fff" opacity="0.08"/><rect x="206.2" y="105.03" width="18" height="0.6" fill="#fff" opacity="0.12"/><rect x="206.2" y="110.25" width="18" height="0.6" fill="#fff" opacity="0.1"/><rect x="206.2" y="113.91" width="18" height="0.6" fill="#fff" opacity="0.11"/><rect x="206.2" y="115.99" width="18" height="0.6" fill="#fff" opacity="0.08"/><rect x="206.2" y="126.51" width="18" height="0.6" fill="#fff" opacity="0.14"/><rect x="206.2" y="139.05" width="18" height="0.6" fill="#fff" opacity="0.07"/><rect x="206.2" y="142.47" width="18" height="0.6" fill="#fff" opacity="0.14"/><rect x="206.2" y="144.59" width="18" height="0.6" fill="#fff" opacity="0.11"/><rect x="206.2" y="146.35" width="18" height="0.6" fill="#fff" opacity="0.11"/><rect x="206.2" y="148.64" width="18" height="0.6" fill="#fff" opacity="0.11"/><rect x="206.2" y="149.73" width="18" height="0.6" fill="#fff" opacity="0.08"/><rect x="206.2" y="151.17" width="18" height="0.6" fill="#fff" opacity="0.15"/><rect x="206.2" y="152.61" width="18" height="0.6" fill="#fff" opacity="0.08"/><rect x="206.2" y="160.25" width="18" height="0.6" fill="#fff" opacity="0.07"/><rect x="206.2" y="166.44" width="18" height="0.6" fill="#fff" opacity="0.09"/><rect x="206.2" y="174.97" width="18" height="0.6" fill="#fff" opacity="0.15"/><rect x="206.2" y="177.8" width="18" height="0.6" fill="#fff" opacity="0.17"/><rect x="206.2" y="183.95" width="18" height="0.6" fill="#fff" opacity="0.17"/><rect x="206.2" y="185.44" width="18" height="0.6" fill="#fff" opacity="0.08"/><rect x="206.2" y="191.86" width="18" height="0.6" fill="#fff" opacity="0.15"/><rect x="206.2" y="197.82" width="18" height="0.6" fill="#fff" opacity="0.17"/><rect x="206.2" y="205.79" width="18" height="0.6" fill="#fff" opacity="0.08"/><rect x="206.2" y="206.77" width="18" height="0.6" fill="#fff" opacity="0.18"/><rect x="206.2" y="209.05" width="18" height="0.6" fill="#fff" opacity="0.12"/><rect x="206.2" y="212.79" width="18" height="0.6" fill="#fff" opacity="0.14"/><rect x="206.2" y="215.93" width="18" height="0.6" fill="#fff" opacity="0.07"/></g>
<rect x="186.1" y="90.8" width="59.5" height="0.8" fill="#e8303a" opacity="0.7"/>
<line x1="186.1" y1="345.2" x2="245.6" y2="345.2" stroke="#231f20" stroke-width="0.9"/>
<line x1="186.1" y1="344.8" x2="186.1" y2="348" stroke="#231f20" stroke-width="0.9"/>
<text x="186.1" y="354.1" font-size="6.2" text-anchor="middle" fill="#333" textLength="13.6" lengthAdjust="spacingAndGlyphs">-3000</text>
<line x1="200.97" y1="344.8" x2="200.97" y2="348" stroke="#231f20" stroke-width="0.9"/>
<text x="200.97" y="354.1" font-size="6.2" text-anchor="middle" fill="#333" textLength="13.6" lengthAdjust="spacingAndGlyphs">-1500</text>
<line x1="215.85" y1="344.8" x2="215.85" y2="348" stroke="#231f20" stroke-width="0.9"/>
<text x="215.85" y="354.1" font-size="6.2" text-anchor="middle" fill="#333" textLength="7.8" lengthAdjust="spacingAndGlyphs">TSS</text>
<line x1="230.72" y1="344.8" x2="230.72" y2="348" stroke="#231f20" stroke-width="0.9"/>
<text x="230.72" y="354.1" font-size="6.2" text-anchor="middle" fill="#333" textLength="11.6" lengthAdjust="spacingAndGlyphs">1500</text>
<line x1="245.6" y1="344.8" x2="245.6" y2="348" stroke="#231f20" stroke-width="0.9"/>
<text x="245.6" y="354.1" font-size="6.2" text-anchor="middle" fill="#333" textLength="12.2" lengthAdjust="spacingAndGlyphs">3000</text>
<text x="301.3" y="45.9" font-size="9.6" text-anchor="middle" fill="#333" textLength="42.8" lengthAdjust="spacingAndGlyphs">VTP50469</text>
<text x="301.3" y="58.7" font-size="9.6" text-anchor="middle" fill="#333" textLength="37.8" lengthAdjust="spacingAndGlyphs">Colorkey</text>
<rect x="271.6" y="62.6" width="59.4" height="2.9" fill="url(#cb3)"/>
<line x1="271.6" y1="65.6" x2="331" y2="65.6" stroke="#333" stroke-width="0.7"/>
<line x1="271.6" y1="65.3" x2="271.6" y2="68" stroke="#333" stroke-width="0.75"/>
<text x="271.6" y="76.9" font-size="7.2" text-anchor="middle" fill="#333" textLength="8" lengthAdjust="spacingAndGlyphs">0.0</text>
<line x1="286.45" y1="65.3" x2="286.45" y2="68" stroke="#333" stroke-width="0.75"/>
<text x="286.45" y="76.9" font-size="7.2" text-anchor="middle" fill="#333" textLength="8" lengthAdjust="spacingAndGlyphs">0.1</text>
<line x1="301.3" y1="65.3" x2="301.3" y2="68" stroke="#333" stroke-width="0.75"/>
<text x="301.3" y="76.9" font-size="7.2" text-anchor="middle" fill="#333" textLength="8" lengthAdjust="spacingAndGlyphs">0.2</text>
<line x1="316.15" y1="65.3" x2="316.15" y2="68" stroke="#333" stroke-width="0.75"/>
<text x="316.15" y="76.9" font-size="7.2" text-anchor="middle" fill="#333" textLength="8" lengthAdjust="spacingAndGlyphs">0.3</text>
<line x1="331" y1="65.3" x2="331" y2="68" stroke="#333" stroke-width="0.75"/>
<text x="331" y="76.9" font-size="7.2" text-anchor="middle" fill="#333" textLength="8" lengthAdjust="spacingAndGlyphs">0.4</text>
<text x="301.3" y="87" font-size="6.8" text-anchor="middle" fill="#222" textLength="59.7" lengthAdjust="spacingAndGlyphs">mm202C MEN1 VTP S2</text>
<rect x="271.6" y="90.8" width="59.4" height="252" fill="url(#hb3)"/>
<rect x="271.6" y="97.22" width="59.4" height="0.7" fill="#e0303a" opacity="0.04"/>
<rect x="271.6" y="105.25" width="59.4" height="0.5" fill="#e0303a" opacity="0.04"/>
<rect x="271.6" y="110.06" width="59.4" height="0.5" fill="#e0303a" opacity="0.04"/>
<rect x="271.6" y="113.27" width="59.4" height="0.5" fill="#e0303a" opacity="0.03"/>
<rect x="271.6" y="119.69" width="59.4" height="0.7" fill="#e0303a" opacity="0.03"/>
<rect x="271.6" y="129.32" width="59.4" height="0.7" fill="#e0303a" opacity="0.06"/>
<rect x="271.6" y="130.93" width="59.4" height="0.7" fill="#e0303a" opacity="0.03"/>
<rect x="271.6" y="134.14" width="59.4" height="0.5" fill="#e0303a" opacity="0.03"/>
<rect x="271.6" y="135.74" width="59.4" height="0.5" fill="#e0303a" opacity="0.03"/>
<rect x="271.6" y="137.35" width="59.4" height="0.5" fill="#e0303a" opacity="0.04"/>
<rect x="271.6" y="140.56" width="59.4" height="0.7" fill="#e0303a" opacity="0.06"/>
<rect x="271.6" y="143.77" width="59.4" height="0.5" fill="#e0303a" opacity="0.04"/>
<rect x="271.6" y="148.58" width="59.4" height="0.5" fill="#e0303a" opacity="0.03"/>
<rect x="271.6" y="150.19" width="59.4" height="0.5" fill="#e0303a" opacity="0.05"/>
<rect x="271.6" y="158.21" width="59.4" height="0.5" fill="#e0303a" opacity="0.05"/>
<rect x="271.6" y="159.82" width="59.4" height="0.7" fill="#e0303a" opacity="0.04"/>
<rect x="271.6" y="161.42" width="59.4" height="0.5" fill="#e0303a" opacity="0.03"/>
<rect x="271.6" y="163.03" width="59.4" height="0.5" fill="#e0303a" opacity="0.06"/>
<rect x="271.6" y="167.84" width="59.4" height="0.7" fill="#e0303a" opacity="0.02"/>
<rect x="271.6" y="174.26" width="59.4" height="0.7" fill="#e0303a" opacity="0.02"/>
<rect x="271.6" y="177.48" width="59.4" height="0.7" fill="#e0303a" opacity="0.02"/>
<rect x="271.6" y="180.69" width="59.4" height="0.5" fill="#e0303a" opacity="0.04"/>
<rect x="271.6" y="183.9" width="59.4" height="0.7" fill="#e0303a" opacity="0.06"/>
<rect x="271.6" y="187.11" width="59.4" height="0.7" fill="#e0303a" opacity="0.05"/>
<rect x="271.6" y="190.32" width="59.4" height="0.7" fill="#e0303a" opacity="0.05"/>
<rect x="271.6" y="199.95" width="59.4" height="0.5" fill="#e0303a" opacity="0.02"/>
<rect x="271.6" y="206.37" width="59.4" height="0.5" fill="#e0303a" opacity="0.02"/>
<rect x="271.6" y="211.18" width="59.4" height="0.7" fill="#e0303a" opacity="0.04"/>
<rect x="271.6" y="214.39" width="59.4" height="0.5" fill="#e0303a" opacity="0.03"/>
<rect x="271.6" y="219.21" width="59.4" height="0.5" fill="#e0303a" opacity="0.03"/>
<rect x="271.6" y="220.81" width="59.4" height="0.5" fill="#e0303a" opacity="0.04"/>
<rect x="271.6" y="225.63" width="59.4" height="0.7" fill="#e0303a" opacity="0.04"/>
<rect x="271.6" y="227.23" width="59.4" height="0.5" fill="#e0303a" opacity="0.04"/>
<rect x="271.6" y="235.26" width="59.4" height="0.5" fill="#e0303a" opacity="0.03"/>
<rect x="271.6" y="236.86" width="59.4" height="0.5" fill="#e0303a" opacity="0.04"/>
<rect x="271.6" y="240.07" width="59.4" height="0.5" fill="#e0303a" opacity="0.02"/>
<rect x="271.6" y="241.68" width="59.4" height="0.5" fill="#e0303a" opacity="0.03"/>
<rect x="271.6" y="244.89" width="59.4" height="0.7" fill="#e0303a" opacity="0.02"/>
<rect x="271.6" y="249.7" width="59.4" height="0.5" fill="#e0303a" opacity="0.02"/>
<rect x="271.6" y="257.73" width="59.4" height="0.7" fill="#e0303a" opacity="0.03"/>
<rect x="271.6" y="270.57" width="59.4" height="0.7" fill="#e0303a" opacity="0.02"/>
<rect x="271.6" y="272.18" width="59.4" height="0.5" fill="#e0303a" opacity="0.02"/>
<rect x="271.6" y="273.78" width="59.4" height="0.7" fill="#e0303a" opacity="0.01"/>
<rect x="271.6" y="278.6" width="59.4" height="0.7" fill="#e0303a" opacity="0.02"/>
<rect x="271.6" y="283.41" width="59.4" height="0.5" fill="#e0303a" opacity="0.01"/>
<rect x="271.6" y="285.02" width="59.4" height="0.7" fill="#e0303a" opacity="0.03"/>
<rect x="271.6" y="286.62" width="59.4" height="0.5" fill="#e0303a" opacity="0.03"/>
<rect x="271.6" y="291.44" width="59.4" height="0.7" fill="#e0303a" opacity="0.03"/>
<rect x="271.6" y="293.04" width="59.4" height="0.7" fill="#e0303a" opacity="0.03"/>
<rect x="271.6" y="297.86" width="59.4" height="0.7" fill="#e0303a" opacity="0.03"/>
<rect x="271.6" y="299.46" width="59.4" height="0.5" fill="#e0303a" opacity="0.01"/>
<rect x="271.6" y="301.07" width="59.4" height="0.5" fill="#e0303a" opacity="0.01"/>
<rect x="271.6" y="305.88" width="59.4" height="0.7" fill="#e0303a" opacity="0.01"/>
<rect x="271.6" y="307.49" width="59.4" height="0.5" fill="#e0303a" opacity="0.02"/>
<rect x="271.6" y="310.7" width="59.4" height="0.7" fill="#e0303a" opacity="0.02"/>
<rect x="271.6" y="317.12" width="59.4" height="0.7" fill="#e0303a" opacity="0.02"/>
<rect x="271.6" y="325.14" width="59.4" height="0.5" fill="#e0303a" opacity="0.01"/>
<rect x="271.6" y="328.35" width="59.4" height="0.5" fill="#e0303a" opacity="0.02"/>
<rect x="271.6" y="329.96" width="59.4" height="0.7" fill="#e0303a" opacity="0.01"/>
<rect x="271.6" y="337.98" width="59.4" height="0.5" fill="#e0303a" opacity="0.01"/>
<rect x="271.6" y="339.59" width="59.4" height="0.7" fill="#e0303a" opacity="0.01"/>
<path d="M287.2 90.8 L313.2 90.8 L305.2 242 L295.2 242 Z" fill="url(#hh3)" filter="url(#bl2)"/>
<path d="M298 90.8 L298.02 95 L298.04 99.2 L298.07 103.4 L298.09 107.6 L298.11 111.8 L298.13 116 L298.16 120.2 L298.18 124.4 L298.2 128.6 L298.23 132.8 L298.27 137 L298.3 141.2 L298.33 145.4 L298.37 149.6 L298.4 153.8 L298.43 158 L298.47 162.2 L298.5 166.4 L298.55 170.6 L298.6 174.8 L298.65 179 L298.7 183.2 L298.75 187.4 L298.8 191.6 L298.85 195.8 L298.9 200 L298.95 204.2 L299 208.4 L299.05 212.6 L299.1 216.8 L299.11 221 L299.12 225.2 L299.13 229.4 L299.14 233.6 L299.16 237.8 L299.17 242 L299.18 246.2 L299.19 250.4 L299.2 254.6 L299.2 258.8 L299.2 263 L299.2 267.2 L299.2 271.4 L299.2 275.6 L299.2 279.8 L299.2 284 L299.2 288.2 L299.2 292.4 L299.2 296.6 L299.2 300.8 L299.2 305 L299.2 309.2 L299.2 313.4 L299.2 317.6 L299.2 321.8 L299.2 326 L299.2 330.2 L299.2 334.4 L299.2 338.6 L299.2 342.8 L301.2 342.8 L301.2 338.6 L301.2 334.4 L301.2 330.2 L301.2 326 L301.2 321.8 L301.2 317.6 L301.2 313.4 L301.2 309.2 L301.2 305 L301.2 300.8 L301.2 296.6 L301.2 292.4 L301.2 288.2 L301.2 284 L301.2 279.8 L301.2 275.6 L301.2 271.4 L301.2 267.2 L301.2 263 L301.2 258.8 L301.2 254.6 L301.21 250.4 L301.22 246.2 L301.23 242 L301.24 237.8 L301.26 233.6 L301.27 229.4 L301.28 225.2 L301.29 221 L301.3 216.8 L301.35 212.6 L301.4 208.4 L301.45 204.2 L301.5 200 L301.55 195.8 L301.6 191.6 L301.65 187.4 L301.7 183.2 L301.75 179 L301.8 174.8 L301.85 170.6 L301.9 166.4 L301.93 162.2 L301.97 158 L302 153.8 L302.03 149.6 L302.07 145.4 L302.1 141.2 L302.13 137 L302.17 132.8 L302.2 128.6 L302.22 124.4 L302.24 120.2 L302.27 116 L302.29 111.8 L302.31 107.6 L302.33 103.4 L302.36 99.2 L302.38 95 L302.4 90.8Z" fill="url(#st3)" filter="url(#bl1)"/>
<g><rect x="291.2" y="95.15" width="18" height="0.6" fill="#fff" opacity="0.07"/><rect x="291.2" y="96.83" width="18" height="0.6" fill="#fff" opacity="0.11"/><rect x="291.2" y="99.94" width="18" height="0.6" fill="#fff" opacity="0.09"/><rect x="291.2" y="101.92" width="18" height="0.6" fill="#fff" opacity="0.09"/><rect x="291.2" y="102.96" width="18" height="0.6" fill="#fff" opacity="0.12"/><rect x="291.2" y="104.1" width="18" height="0.6" fill="#fff" opacity="0.15"/><rect x="291.2" y="105.94" width="18" height="0.6" fill="#fff" opacity="0.15"/><rect x="291.2" y="108.81" width="18" height="0.6" fill="#fff" opacity="0.13"/><rect x="291.2" y="112.45" width="18" height="0.6" fill="#fff" opacity="0.09"/><rect x="291.2" y="119.65" width="18" height="0.6" fill="#fff" opacity="0.09"/><rect x="291.2" y="123.51" width="18" height="0.6" fill="#fff" opacity="0.12"/><rect x="291.2" y="129.16" width="18" height="0.6" fill="#fff" opacity="0.13"/><rect x="291.2" y="130.84" width="18" height="0.6" fill="#fff" opacity="0.16"/><rect x="291.2" y="133.3" width="18" height="0.6" fill="#fff" opacity="0.07"/><rect x="291.2" y="138.35" width="18" height="0.6" fill="#fff" opacity="0.11"/><rect x="291.2" y="144.51" width="18" height="0.6" fill="#fff" opacity="0.14"/><rect x="291.2" y="148.69" width="18" height="0.6" fill="#fff" opacity="0.17"/><rect x="291.2" y="149.82" width="18" height="0.6" fill="#fff" opacity="0.16"/><rect x="291.2" y="154.59" width="18" height="0.6" fill="#fff" opacity="0.1"/><rect x="291.2" y="156.31" width="18" height="0.6" fill="#fff" opacity="0.06"/><rect x="291.2" y="159.46" width="18" height="0.6" fill="#fff" opacity="0.09"/><rect x="291.2" y="161.49" width="18" height="0.6" fill="#fff" opacity="0.15"/><rect x="291.2" y="163.36" width="18" height="0.6" fill="#fff" opacity="0.09"/><rect x="291.2" y="164.94" width="18" height="0.6" fill="#fff" opacity="0.13"/><rect x="291.2" y="167.71" width="18" height="0.6" fill="#fff" opacity="0.15"/><rect x="291.2" y="173.5" width="18" height="0.6" fill="#fff" opacity="0.12"/><rect x="291.2" y="174.42" width="18" height="0.6" fill="#fff" opacity="0.09"/><rect x="291.2" y="177.94" width="18" height="0.6" fill="#fff" opacity="0.06"/><rect x="291.2" y="181.76" width="18" height="0.6" fill="#fff" opacity="0.07"/><rect x="291.2" y="189" width="18" height="0.6" fill="#fff" opacity="0.11"/><rect x="291.2" y="194.3" width="18" height="0.6" fill="#fff" opacity="0.14"/><rect x="291.2" y="200.02" width="18" height="0.6" fill="#fff" opacity="0.09"/><rect x="291.2" y="205.45" width="18" height="0.6" fill="#fff" opacity="0.06"/><rect x="291.2" y="210.84" width="18" height="0.6" fill="#fff" opacity="0.11"/><rect x="291.2" y="212" width="18" height="0.6" fill="#fff" opacity="0.14"/><rect x="291.2" y="215.13" width="18" height="0.6" fill="#fff" opacity="0.11"/><rect x="291.2" y="216.45" width="18" height="0.6" fill="#fff" opacity="0.14"/></g>
<rect x="271.6" y="90.8" width="59.4" height="0.8" fill="#e8303a" opacity="0.7"/>
<line x1="271.6" y1="345.2" x2="331" y2="345.2" stroke="#231f20" stroke-width="0.9"/>
<line x1="271.6" y1="344.8" x2="271.6" y2="348" stroke="#231f20" stroke-width="0.9"/>
<text x="271.6" y="354.1" font-size="6.2" text-anchor="middle" fill="#333" textLength="13.6" lengthAdjust="spacingAndGlyphs">-3000</text>
<line x1="286.45" y1="344.8" x2="286.45" y2="348" stroke="#231f20" stroke-width="0.9"/>
<text x="286.45" y="354.1" font-size="6.2" text-anchor="middle" fill="#333" textLength="13.6" lengthAdjust="spacingAndGlyphs">-1500</text>
<line x1="301.3" y1="344.8" x2="301.3" y2="348" stroke="#231f20" stroke-width="0.9"/>
<text x="301.3" y="354.1" font-size="6.2" text-anchor="middle" fill="#333" textLength="7.8" lengthAdjust="spacingAndGlyphs">TSS</text>
<line x1="316.15" y1="344.8" x2="316.15" y2="348" stroke="#231f20" stroke-width="0.9"/>
<text x="316.15" y="354.1" font-size="6.2" text-anchor="middle" fill="#333" textLength="11.6" lengthAdjust="spacingAndGlyphs">1500</text>
<line x1="331" y1="344.8" x2="331" y2="348" stroke="#231f20" stroke-width="0.9"/>
<text x="331" y="354.1" font-size="6.2" text-anchor="middle" fill="#333" textLength="12.2" lengthAdjust="spacingAndGlyphs">3000</text>
<text x="388.1" y="43.38" font-size="9.6" text-anchor="middle" fill="#333" textLength="28.2" lengthAdjust="spacingAndGlyphs">DMSO</text>
<text x="388.1" y="54.7" font-size="9.6" text-anchor="middle" fill="#333" textLength="37.8" lengthAdjust="spacingAndGlyphs">Colorkey</text>
<rect x="358.5" y="58.6" width="59.2" height="2.9" fill="url(#cb4)"/>
<line x1="358.5" y1="61.6" x2="417.7" y2="61.6" stroke="#333" stroke-width="0.7"/>
<line x1="358.5" y1="61.3" x2="358.5" y2="64" stroke="#333" stroke-width="0.75"/>
<text x="358.5" y="72.5" font-size="7.2" text-anchor="middle" fill="#333" textLength="8" lengthAdjust="spacingAndGlyphs">0.0</text>
<line x1="373.3" y1="61.3" x2="373.3" y2="64" stroke="#333" stroke-width="0.75"/>
<text x="373.3" y="72.5" font-size="7.2" text-anchor="middle" fill="#333" textLength="8" lengthAdjust="spacingAndGlyphs">0.3</text>
<line x1="388.1" y1="61.3" x2="388.1" y2="64" stroke="#333" stroke-width="0.75"/>
<text x="388.1" y="72.5" font-size="7.2" text-anchor="middle" fill="#333" textLength="8" lengthAdjust="spacingAndGlyphs">0.6</text>
<line x1="402.9" y1="61.3" x2="402.9" y2="64" stroke="#333" stroke-width="0.75"/>
<text x="402.9" y="72.5" font-size="7.2" text-anchor="middle" fill="#333" textLength="8" lengthAdjust="spacingAndGlyphs">0.8</text>
<line x1="417.7" y1="61.3" x2="417.7" y2="64" stroke="#333" stroke-width="0.75"/>
<text x="417.7" y="72.5" font-size="7.2" text-anchor="middle" fill="#333" textLength="8" lengthAdjust="spacingAndGlyphs">1.1</text>
<text x="388.1" y="83.4" font-size="6.8" text-anchor="middle" fill="#222" textLength="81.3" lengthAdjust="spacingAndGlyphs">mm202C H3K4me3 DMSO S11</text>
<rect x="358.5" y="86.7" width="59.2" height="253.1" fill="url(#hb4)"/>
<rect x="358.5" y="88.3" width="59.2" height="0.5" fill="#e0303a" opacity="0.04"/>
<rect x="358.5" y="89.9" width="59.2" height="0.7" fill="#e0303a" opacity="0.02"/>
<rect x="358.5" y="91.51" width="59.2" height="0.5" fill="#e0303a" opacity="0.04"/>
<rect x="358.5" y="94.71" width="59.2" height="0.7" fill="#e0303a" opacity="0.02"/>
<rect x="358.5" y="99.52" width="59.2" height="0.5" fill="#e0303a" opacity="0.06"/>
<rect x="358.5" y="104.32" width="59.2" height="0.7" fill="#e0303a" opacity="0.02"/>
<rect x="358.5" y="107.52" width="59.2" height="0.7" fill="#e0303a" opacity="0.02"/>
<rect x="358.5" y="117.14" width="59.2" height="0.5" fill="#e0303a" opacity="0.02"/>
<rect x="358.5" y="121.94" width="59.2" height="0.5" fill="#e0303a" opacity="0.02"/>
<rect x="358.5" y="123.54" width="59.2" height="0.5" fill="#e0303a" opacity="0.04"/>
<rect x="358.5" y="125.15" width="59.2" height="0.7" fill="#e0303a" opacity="0.03"/>
<rect x="358.5" y="128.35" width="59.2" height="0.7" fill="#e0303a" opacity="0.03"/>
<rect x="358.5" y="142.77" width="59.2" height="0.5" fill="#e0303a" opacity="0.04"/>
<rect x="358.5" y="144.37" width="59.2" height="0.5" fill="#e0303a" opacity="0.02"/>
<rect x="358.5" y="147.57" width="59.2" height="0.7" fill="#e0303a" opacity="0.05"/>
<rect x="358.5" y="150.78" width="59.2" height="0.7" fill="#e0303a" opacity="0.04"/>
<rect x="358.5" y="157.18" width="59.2" height="0.5" fill="#e0303a" opacity="0.05"/>
<rect x="358.5" y="158.79" width="59.2" height="0.5" fill="#e0303a" opacity="0.03"/>
<rect x="358.5" y="160.39" width="59.2" height="0.5" fill="#e0303a" opacity="0.02"/>
<rect x="358.5" y="165.19" width="59.2" height="0.7" fill="#e0303a" opacity="0.05"/>
<rect x="358.5" y="181.21" width="59.2" height="0.5" fill="#e0303a" opacity="0.01"/>
<rect x="358.5" y="184.42" width="59.2" height="0.5" fill="#e0303a" opacity="0.02"/>
<rect x="358.5" y="187.62" width="59.2" height="0.5" fill="#e0303a" opacity="0.01"/>
<rect x="358.5" y="189.22" width="59.2" height="0.7" fill="#e0303a" opacity="0.04"/>
<rect x="358.5" y="194.03" width="59.2" height="0.5" fill="#e0303a" opacity="0.02"/>
<rect x="358.5" y="198.83" width="59.2" height="0.7" fill="#e0303a" opacity="0.03"/>
<rect x="358.5" y="200.43" width="59.2" height="0.5" fill="#e0303a" opacity="0.04"/>
<rect x="358.5" y="208.44" width="59.2" height="0.5" fill="#e0303a" opacity="0.02"/>
<rect x="358.5" y="210.05" width="59.2" height="0.5" fill="#e0303a" opacity="0.04"/>
<rect x="358.5" y="214.85" width="59.2" height="0.5" fill="#e0303a" opacity="0.01"/>
<rect x="358.5" y="219.66" width="59.2" height="0.7" fill="#e0303a" opacity="0.02"/>
<rect x="358.5" y="221.26" width="59.2" height="0.7" fill="#e0303a" opacity="0.02"/>
<rect x="358.5" y="222.86" width="59.2" height="0.7" fill="#e0303a" opacity="0.03"/>
<rect x="358.5" y="229.27" width="59.2" height="0.7" fill="#e0303a" opacity="0.03"/>
<rect x="358.5" y="230.87" width="59.2" height="0.5" fill="#e0303a" opacity="0.02"/>
<rect x="358.5" y="232.47" width="59.2" height="0.5" fill="#e0303a" opacity="0.03"/>
<rect x="358.5" y="238.88" width="59.2" height="0.5" fill="#e0303a" opacity="0.02"/>
<rect x="358.5" y="240.48" width="59.2" height="0.5" fill="#e0303a" opacity="0.03"/>
<rect x="358.5" y="242.08" width="59.2" height="0.7" fill="#e0303a" opacity="0.02"/>
<rect x="358.5" y="254.9" width="59.2" height="0.5" fill="#e0303a" opacity="0.03"/>
<rect x="358.5" y="258.1" width="59.2" height="0.5" fill="#e0303a" opacity="0.02"/>
<rect x="358.5" y="264.51" width="59.2" height="0.5" fill="#e0303a" opacity="0.02"/>
<rect x="358.5" y="270.92" width="59.2" height="0.5" fill="#e0303a" opacity="0.03"/>
<rect x="358.5" y="274.12" width="59.2" height="0.5" fill="#e0303a" opacity="0.02"/>
<rect x="358.5" y="278.93" width="59.2" height="0.5" fill="#e0303a" opacity="0.02"/>
<rect x="358.5" y="280.53" width="59.2" height="0.5" fill="#e0303a" opacity="0.01"/>
<rect x="358.5" y="286.94" width="59.2" height="0.7" fill="#e0303a" opacity="0.02"/>
<rect x="358.5" y="290.14" width="59.2" height="0.5" fill="#e0303a" opacity="0.02"/>
<rect x="358.5" y="293.34" width="59.2" height="0.5" fill="#e0303a" opacity="0.02"/>
<rect x="358.5" y="301.35" width="59.2" height="0.5" fill="#e0303a" opacity="0.01"/>
<rect x="358.5" y="302.96" width="59.2" height="0.5" fill="#e0303a" opacity="0.02"/>
<rect x="358.5" y="304.56" width="59.2" height="0.5" fill="#e0303a" opacity="0.02"/>
<rect x="358.5" y="314.17" width="59.2" height="0.5" fill="#e0303a" opacity="0.01"/>
<rect x="358.5" y="315.77" width="59.2" height="0.7" fill="#e0303a" opacity="0.02"/>
<rect x="358.5" y="317.37" width="59.2" height="0.7" fill="#e0303a" opacity="0.01"/>
<rect x="358.5" y="325.38" width="59.2" height="0.7" fill="#e0303a" opacity="0.01"/>
<rect x="358.5" y="326.98" width="59.2" height="0.7" fill="#e0303a" opacity="0.01"/>
<path d="M378 86.7 L388 86.7 L389 213.25 L384 213.25 Z" fill="url(#hh4)" filter="url(#bl2)"/>
<path d="M396 86.7 L404 86.7 L400 213.25 L395 213.25 Z" fill="url(#hh4)" filter="url(#bl2)" opacity="0.6"/>
<path d="M385 86.7 L399 86.7 L396 213.25 L388 213.25 Z" fill="url(#hh4)" filter="url(#bl2)" opacity="0.9"/>
<rect x="358.5" y="241.86" width="59.2" height="0.5" fill="#e8303a" opacity="0.05"/>
<rect x="358.5" y="194.83" width="59.2" height="0.5" fill="#e8303a" opacity="0.03"/>
<rect x="358.5" y="237.52" width="59.2" height="0.5" fill="#e8303a" opacity="0.06"/>
<rect x="358.5" y="243.61" width="59.2" height="0.5" fill="#e8303a" opacity="0.03"/>
<rect x="358.5" y="216.61" width="59.2" height="0.7" fill="#e8303a" opacity="0.04"/>
<rect x="358.5" y="206.33" width="59.2" height="0.5" fill="#e8303a" opacity="0.07"/>
<rect x="358.5" y="203.45" width="59.2" height="0.7" fill="#e8303a" opacity="0.06"/>
<rect x="358.5" y="204.31" width="59.2" height="0.7" fill="#e8303a" opacity="0.04"/>
<rect x="358.5" y="216.06" width="59.2" height="0.7" fill="#e8303a" opacity="0.05"/>
<rect x="358.5" y="216.34" width="59.2" height="0.7" fill="#e8303a" opacity="0.05"/>
<rect x="358.5" y="208.96" width="59.2" height="0.7" fill="#e8303a" opacity="0.05"/>
<rect x="358.5" y="236.72" width="59.2" height="0.5" fill="#e8303a" opacity="0.05"/>
<rect x="358.5" y="240.84" width="59.2" height="0.5" fill="#e8303a" opacity="0.04"/>
<rect x="358.5" y="220.03" width="59.2" height="0.5" fill="#e8303a" opacity="0.04"/>
<rect x="358.5" y="218.06" width="59.2" height="0.5" fill="#e8303a" opacity="0.07"/>
<rect x="358.5" y="213.02" width="59.2" height="0.5" fill="#e8303a" opacity="0.05"/>
<rect x="358.5" y="235.55" width="59.2" height="0.7" fill="#e8303a" opacity="0.05"/>
<rect x="358.5" y="218.42" width="59.2" height="0.5" fill="#e8303a" opacity="0.05"/>
<rect x="358.5" y="223.88" width="59.2" height="0.8" fill="#e8303a" opacity="0.1"/>
<path d="M388.3 86.7 L388.31 90.92 L388.32 95.14 L388.32 99.36 L388.33 103.57 L388.34 107.79 L388.35 112.01 L388.36 116.23 L388.37 120.45 L388.38 124.67 L388.38 128.88 L388.39 133.1 L388.4 137.32 L388.43 141.54 L388.45 145.76 L388.48 149.98 L388.5 154.19 L388.53 158.41 L388.55 162.63 L388.58 166.85 L388.61 171.07 L388.68 175.29 L388.75 179.5 L388.82 183.72 L388.95 187.94 L389.07 192.16 L389.23 196.38 L389.4 200.6 L389.57 204.81 L389.73 209.03 L389.9 213.25 L390 217.47 L390.1 221.69 L390.2 225.91 L390.3 230.12 L390.4 234.34 L390.5 238.56 L390.52 242.78 L390.54 247 L390.56 251.22 L390.58 255.43 L390.6 259.65 L390.62 263.87 L390.65 268.09 L390.67 272.31 L390.69 276.53 L390.71 280.74 L390.73 284.96 L390.75 289.18 L390.77 293.4 L390.79 297.62 L390.81 301.84 L390.83 306.05 L390.85 310.27 L390.88 314.49 L390.9 318.71 L390.92 322.93 L390.94 327.15 L390.96 331.36 L390.98 335.58 L391 339.8 L393 339.8 L393.02 335.58 L393.04 331.36 L393.06 327.15 L393.08 322.93 L393.1 318.71 L393.12 314.49 L393.15 310.27 L393.17 306.05 L393.19 301.84 L393.21 297.62 L393.23 293.4 L393.25 289.18 L393.27 284.96 L393.29 280.74 L393.31 276.53 L393.33 272.31 L393.35 268.09 L393.38 263.87 L393.4 259.65 L393.42 255.43 L393.44 251.22 L393.46 247 L393.48 242.78 L393.5 238.56 L393.6 234.34 L393.7 230.12 L393.8 225.91 L393.9 221.69 L394 217.47 L394.1 213.25 L394.27 209.03 L394.43 204.81 L394.6 200.6 L394.77 196.38 L394.93 192.16 L395.05 187.94 L395.18 183.72 L395.25 179.5 L395.32 175.29 L395.39 171.07 L395.42 166.85 L395.45 162.63 L395.47 158.41 L395.5 154.19 L395.52 149.98 L395.55 145.76 L395.57 141.54 L395.6 137.32 L395.61 133.1 L395.62 128.88 L395.62 124.67 L395.63 120.45 L395.64 116.23 L395.65 112.01 L395.66 107.79 L395.67 103.57 L395.68 99.36 L395.68 95.14 L395.69 90.92 L395.7 86.7Z" fill="url(#st4)" filter="url(#bl1)"/>
<g><rect x="383" y="90.93" width="18" height="0.6" fill="#fff" opacity="0.15"/><rect x="383" y="92.88" width="18" height="0.6" fill="#fff" opacity="0.08"/><rect x="383" y="94.94" width="18" height="0.6" fill="#fff" opacity="0.14"/><rect x="383" y="99.7" width="18" height="0.6" fill="#fff" opacity="0.13"/><rect x="383" y="101.42" width="18" height="0.6" fill="#fff" opacity="0.12"/><rect x="383" y="103.01" width="18" height="0.6" fill="#fff" opacity="0.08"/><rect x="383" y="104.65" width="18" height="0.6" fill="#fff" opacity="0.13"/><rect x="383" y="107.82" width="18" height="0.6" fill="#fff" opacity="0.17"/><rect x="383" y="117.16" width="18" height="0.6" fill="#fff" opacity="0.12"/><rect x="383" y="118.11" width="18" height="0.6" fill="#fff" opacity="0.08"/><rect x="383" y="120.23" width="18" height="0.6" fill="#fff" opacity="0.06"/><rect x="383" y="122.18" width="18" height="0.6" fill="#fff" opacity="0.07"/><rect x="383" y="139.38" width="18" height="0.6" fill="#fff" opacity="0.13"/><rect x="383" y="142.74" width="18" height="0.6" fill="#fff" opacity="0.13"/><rect x="383" y="146.89" width="18" height="0.6" fill="#fff" opacity="0.14"/><rect x="383" y="148.06" width="18" height="0.6" fill="#fff" opacity="0.1"/><rect x="383" y="149.19" width="18" height="0.6" fill="#fff" opacity="0.09"/><rect x="383" y="150.39" width="18" height="0.6" fill="#fff" opacity="0.16"/><rect x="383" y="151.4" width="18" height="0.6" fill="#fff" opacity="0.07"/><rect x="383" y="152.96" width="18" height="0.6" fill="#fff" opacity="0.12"/><rect x="383" y="154.17" width="18" height="0.6" fill="#fff" opacity="0.12"/><rect x="383" y="156.79" width="18" height="0.6" fill="#fff" opacity="0.13"/><rect x="383" y="160.34" width="18" height="0.6" fill="#fff" opacity="0.11"/><rect x="383" y="164.58" width="18" height="0.6" fill="#fff" opacity="0.15"/><rect x="383" y="169.03" width="18" height="0.6" fill="#fff" opacity="0.1"/><rect x="383" y="171.08" width="18" height="0.6" fill="#fff" opacity="0.08"/><rect x="383" y="175.28" width="18" height="0.6" fill="#fff" opacity="0.11"/><rect x="383" y="177.87" width="18" height="0.6" fill="#fff" opacity="0.16"/><rect x="383" y="179.84" width="18" height="0.6" fill="#fff" opacity="0.07"/><rect x="383" y="181.16" width="18" height="0.6" fill="#fff" opacity="0.11"/><rect x="383" y="186.09" width="18" height="0.6" fill="#fff" opacity="0.13"/><rect x="383" y="190.76" width="18" height="0.6" fill="#fff" opacity="0.09"/><rect x="383" y="195.69" width="18" height="0.6" fill="#fff" opacity="0.06"/><rect x="383" y="197.8" width="18" height="0.6" fill="#fff" opacity="0.15"/><rect x="383" y="198.7" width="18" height="0.6" fill="#fff" opacity="0.13"/><rect x="383" y="199.84" width="18" height="0.6" fill="#fff" opacity="0.17"/><rect x="383" y="201.11" width="18" height="0.6" fill="#fff" opacity="0.14"/><rect x="383" y="204.24" width="18" height="0.6" fill="#fff" opacity="0.13"/><rect x="383" y="205.46" width="18" height="0.6" fill="#fff" opacity="0.15"/><rect x="383" y="211.53" width="18" height="0.6" fill="#fff" opacity="0.12"/></g>
<rect x="358.5" y="86.7" width="59.2" height="0.8" fill="#e8303a" opacity="0.7"/>
<line x1="358.5" y1="342.2" x2="417.7" y2="342.2" stroke="#231f20" stroke-width="0.9"/>
<line x1="358.5" y1="341.8" x2="358.5" y2="345" stroke="#231f20" stroke-width="0.9"/>
<text x="358.5" y="351.1" font-size="6.2" text-anchor="middle" fill="#333" textLength="13.6" lengthAdjust="spacingAndGlyphs">-3000</text>
<line x1="373.3" y1="341.8" x2="373.3" y2="345" stroke="#231f20" stroke-width="0.9"/>
<text x="373.3" y="351.1" font-size="6.2" text-anchor="middle" fill="#333" textLength="13.6" lengthAdjust="spacingAndGlyphs">-1500</text>
<line x1="388.1" y1="341.8" x2="388.1" y2="345" stroke="#231f20" stroke-width="0.9"/>
<text x="388.1" y="351.1" font-size="6.2" text-anchor="middle" fill="#333" textLength="7.8" lengthAdjust="spacingAndGlyphs">TSS</text>
<line x1="402.9" y1="341.8" x2="402.9" y2="345" stroke="#231f20" stroke-width="0.9"/>
<text x="402.9" y="351.1" font-size="6.2" text-anchor="middle" fill="#333" textLength="11.6" lengthAdjust="spacingAndGlyphs">1500</text>
<line x1="417.7" y1="341.8" x2="417.7" y2="345" stroke="#231f20" stroke-width="0.9"/>
<text x="417.7" y="351.1" font-size="6.2" text-anchor="middle" fill="#333" textLength="12.2" lengthAdjust="spacingAndGlyphs">3000</text>
<text x="475.15" y="43.38" font-size="9.6" text-anchor="middle" fill="#333" textLength="42.8" lengthAdjust="spacingAndGlyphs">VTP50469</text>
<text x="475.15" y="54.7" font-size="9.6" text-anchor="middle" fill="#333" textLength="37.8" lengthAdjust="spacingAndGlyphs">Colorkey</text>
<rect x="445.6" y="58.6" width="59.1" height="2.9" fill="url(#cb5)"/>
<line x1="445.6" y1="61.6" x2="504.7" y2="61.6" stroke="#333" stroke-width="0.7"/>
<line x1="445.6" y1="61.3" x2="445.6" y2="64" stroke="#333" stroke-width="0.75"/>
<text x="445.6" y="72.5" font-size="7.2" text-anchor="middle" fill="#333" textLength="8" lengthAdjust="spacingAndGlyphs">0.0</text>
<line x1="460.38" y1="61.3" x2="460.38" y2="64" stroke="#333" stroke-width="0.75"/>
<text x="460.38" y="72.5" font-size="7.2" text-anchor="middle" fill="#333" textLength="8" lengthAdjust="spacingAndGlyphs">0.3</text>
<line x1="475.15" y1="61.3" x2="475.15" y2="64" stroke="#333" stroke-width="0.75"/>
<text x="475.15" y="72.5" font-size="7.2" text-anchor="middle" fill="#333" textLength="8" lengthAdjust="spacingAndGlyphs">0.6</text>
<line x1="489.93" y1="61.3" x2="489.93" y2="64" stroke="#333" stroke-width="0.75"/>
<text x="489.93" y="72.5" font-size="7.2" text-anchor="middle" fill="#333" textLength="8" lengthAdjust="spacingAndGlyphs">0.8</text>
<line x1="504.7" y1="61.3" x2="504.7" y2="64" stroke="#333" stroke-width="0.75"/>
<text x="504.7" y="72.5" font-size="7.2" text-anchor="middle" fill="#333" textLength="8" lengthAdjust="spacingAndGlyphs">1.1</text>
<text x="475.15" y="83.4" font-size="6.8" text-anchor="middle" fill="#222" textLength="74.1" lengthAdjust="spacingAndGlyphs">mm202C H3K4me3 VTP S12</text>
<rect x="445.6" y="86.7" width="59.1" height="253.1" fill="url(#hb5)"/>
<rect x="445.6" y="89.9" width="59.1" height="0.5" fill="#e0303a" opacity="0.03"/>
<rect x="445.6" y="93.11" width="59.1" height="0.5" fill="#e0303a" opacity="0.05"/>
<rect x="445.6" y="96.31" width="59.1" height="0.5" fill="#e0303a" opacity="0.04"/>
<rect x="445.6" y="97.91" width="59.1" height="0.7" fill="#e0303a" opacity="0.04"/>
<rect x="445.6" y="99.52" width="59.1" height="0.5" fill="#e0303a" opacity="0.06"/>
<rect x="445.6" y="102.72" width="59.1" height="0.7" fill="#e0303a" opacity="0.02"/>
<rect x="445.6" y="105.92" width="59.1" height="0.5" fill="#e0303a" opacity="0.03"/>
<rect x="445.6" y="107.52" width="59.1" height="0.5" fill="#e0303a" opacity="0.05"/>
<rect x="445.6" y="110.73" width="59.1" height="0.5" fill="#e0303a" opacity="0.04"/>
<rect x="445.6" y="123.54" width="59.1" height="0.7" fill="#e0303a" opacity="0.04"/>
<rect x="445.6" y="133.16" width="59.1" height="0.5" fill="#e0303a" opacity="0.03"/>
<rect x="445.6" y="134.76" width="59.1" height="0.7" fill="#e0303a" opacity="0.03"/>
<rect x="445.6" y="141.16" width="59.1" height="0.7" fill="#e0303a" opacity="0.03"/>
<rect x="445.6" y="145.97" width="59.1" height="0.7" fill="#e0303a" opacity="0.05"/>
<rect x="445.6" y="149.17" width="59.1" height="0.5" fill="#e0303a" opacity="0.05"/>
<rect x="445.6" y="157.18" width="59.1" height="0.7" fill="#e0303a" opacity="0.05"/>
<rect x="445.6" y="174.8" width="59.1" height="0.7" fill="#e0303a" opacity="0.04"/>
<rect x="445.6" y="187.62" width="59.1" height="0.5" fill="#e0303a" opacity="0.03"/>
<rect x="445.6" y="195.63" width="59.1" height="0.7" fill="#e0303a" opacity="0.04"/>
<rect x="445.6" y="198.83" width="59.1" height="0.5" fill="#e0303a" opacity="0.04"/>
<rect x="445.6" y="202.04" width="59.1" height="0.7" fill="#e0303a" opacity="0.01"/>
<rect x="445.6" y="203.64" width="59.1" height="0.5" fill="#e0303a" opacity="0.02"/>
<rect x="445.6" y="206.84" width="59.1" height="0.5" fill="#e0303a" opacity="0.03"/>
<rect x="445.6" y="208.44" width="59.1" height="0.5" fill="#e0303a" opacity="0.02"/>
<rect x="445.6" y="214.85" width="59.1" height="0.7" fill="#e0303a" opacity="0.04"/>
<rect x="445.6" y="216.45" width="59.1" height="0.5" fill="#e0303a" opacity="0.03"/>
<rect x="445.6" y="224.46" width="59.1" height="0.5" fill="#e0303a" opacity="0.02"/>
<rect x="445.6" y="234.07" width="59.1" height="0.5" fill="#e0303a" opacity="0.01"/>
<rect x="445.6" y="235.68" width="59.1" height="0.7" fill="#e0303a" opacity="0.02"/>
<rect x="445.6" y="245.29" width="59.1" height="0.5" fill="#e0303a" opacity="0.03"/>
<rect x="445.6" y="246.89" width="59.1" height="0.7" fill="#e0303a" opacity="0.01"/>
<rect x="445.6" y="250.09" width="59.1" height="0.5" fill="#e0303a" opacity="0.02"/>
<rect x="445.6" y="251.7" width="59.1" height="0.5" fill="#e0303a" opacity="0.03"/>
<rect x="445.6" y="253.3" width="59.1" height="0.7" fill="#e0303a" opacity="0.03"/>
<rect x="445.6" y="254.9" width="59.1" height="0.5" fill="#e0303a" opacity="0.03"/>
<rect x="445.6" y="256.5" width="59.1" height="0.7" fill="#e0303a" opacity="0.02"/>
<rect x="445.6" y="261.31" width="59.1" height="0.7" fill="#e0303a" opacity="0.03"/>
<rect x="445.6" y="262.91" width="59.1" height="0.7" fill="#e0303a" opacity="0.03"/>
<rect x="445.6" y="269.32" width="59.1" height="0.7" fill="#e0303a" opacity="0.02"/>
<rect x="445.6" y="270.92" width="59.1" height="0.5" fill="#e0303a" opacity="0.03"/>
<rect x="445.6" y="274.12" width="59.1" height="0.7" fill="#e0303a" opacity="0.02"/>
<rect x="445.6" y="277.33" width="59.1" height="0.5" fill="#e0303a" opacity="0.01"/>
<rect x="445.6" y="278.93" width="59.1" height="0.7" fill="#e0303a" opacity="0.02"/>
<rect x="445.6" y="296.55" width="59.1" height="0.7" fill="#e0303a" opacity="0.02"/>
<rect x="445.6" y="299.75" width="59.1" height="0.5" fill="#e0303a" opacity="0.02"/>
<rect x="445.6" y="302.96" width="59.1" height="0.5" fill="#e0303a" opacity="0.02"/>
<rect x="445.6" y="310.97" width="59.1" height="0.7" fill="#e0303a" opacity="0.01"/>
<rect x="445.6" y="312.57" width="59.1" height="0.5" fill="#e0303a" opacity="0.01"/>
<rect x="445.6" y="325.38" width="59.1" height="0.5" fill="#e0303a" opacity="0.01"/>
<rect x="445.6" y="330.19" width="59.1" height="0.5" fill="#e0303a" opacity="0.01"/>
<rect x="445.6" y="336.6" width="59.1" height="0.5" fill="#e0303a" opacity="0.01"/>
<rect x="445.6" y="338.2" width="59.1" height="0.7" fill="#e0303a" opacity="0.01"/>
<path d="M465.5 86.7 L475.5 86.7 L476.5 213.25 L471.5 213.25 Z" fill="url(#hh5)" filter="url(#bl2)"/>
<path d="M483.5 86.7 L491.5 86.7 L487.5 213.25 L482.5 213.25 Z" fill="url(#hh5)" filter="url(#bl2)" opacity="0.6"/>
<path d="M472.5 86.7 L486.5 86.7 L483.5 213.25 L475.5 213.25 Z" fill="url(#hh5)" filter="url(#bl2)" opacity="0.9"/>
<rect x="445.6" y="211.3" width="59.1" height="0.7" fill="#e8303a" opacity="0.04"/>
<rect x="445.6" y="204.47" width="59.1" height="0.5" fill="#e8303a" opacity="0.05"/>
<rect x="445.6" y="226.3" width="59.1" height="0.7" fill="#e8303a" opacity="0.04"/>
<rect x="445.6" y="204.26" width="59.1" height="0.7" fill="#e8303a" opacity="0.04"/>
<rect x="445.6" y="209.96" width="59.1" height="0.5" fill="#e8303a" opacity="0.07"/>
<rect x="445.6" y="223.48" width="59.1" height="0.5" fill="#e8303a" opacity="0.06"/>
<rect x="445.6" y="241.41" width="59.1" height="0.7" fill="#e8303a" opacity="0.03"/>
<rect x="445.6" y="200.8" width="59.1" height="0.5" fill="#e8303a" opacity="0.05"/>
<rect x="445.6" y="223.31" width="59.1" height="0.7" fill="#e8303a" opacity="0.07"/>
<rect x="445.6" y="232.62" width="59.1" height="0.7" fill="#e8303a" opacity="0.04"/>
<rect x="445.6" y="232.88" width="59.1" height="0.7" fill="#e8303a" opacity="0.05"/>
<rect x="445.6" y="219.16" width="59.1" height="0.5" fill="#e8303a" opacity="0.07"/>
<rect x="445.6" y="207.83" width="59.1" height="0.5" fill="#e8303a" opacity="0.04"/>
<rect x="445.6" y="197.23" width="59.1" height="0.5" fill="#e8303a" opacity="0.05"/>
<rect x="445.6" y="204.89" width="59.1" height="0.5" fill="#e8303a" opacity="0.04"/>
<rect x="445.6" y="209.02" width="59.1" height="0.7" fill="#e8303a" opacity="0.03"/>
<rect x="445.6" y="228.4" width="59.1" height="0.5" fill="#e8303a" opacity="0.05"/>
<rect x="445.6" y="236.75" width="59.1" height="0.5" fill="#e8303a" opacity="0.07"/>
<rect x="445.6" y="223.88" width="59.1" height="0.8" fill="#e8303a" opacity="0.1"/>
<path d="M475.7 86.7 L475.71 90.92 L475.72 95.14 L475.73 99.36 L475.73 103.57 L475.74 107.79 L475.75 112.01 L475.76 116.23 L475.77 120.45 L475.77 124.67 L475.78 128.88 L475.79 133.1 L475.8 137.32 L475.84 141.54 L475.88 145.76 L475.92 149.98 L475.95 154.19 L475.99 158.41 L476.03 162.63 L476.07 166.85 L476.12 171.07 L476.22 175.29 L476.32 179.5 L476.43 183.72 L476.55 187.94 L476.68 192.16 L476.83 196.38 L477 200.6 L477.17 204.81 L477.33 209.03 L477.5 213.25 L477.58 217.47 L477.67 221.69 L477.75 225.91 L477.83 230.12 L477.92 234.34 L478 238.56 L478.02 242.78 L478.04 247 L478.06 251.22 L478.08 255.43 L478.1 259.65 L478.12 263.87 L478.15 268.09 L478.17 272.31 L478.19 276.53 L478.21 280.74 L478.23 284.96 L478.25 289.18 L478.27 293.4 L478.29 297.62 L478.31 301.84 L478.33 306.05 L478.35 310.27 L478.38 314.49 L478.4 318.71 L478.42 322.93 L478.44 327.15 L478.46 331.36 L478.48 335.58 L478.5 339.8 L480.5 339.8 L480.52 335.58 L480.54 331.36 L480.56 327.15 L480.58 322.93 L480.6 318.71 L480.62 314.49 L480.65 310.27 L480.67 306.05 L480.69 301.84 L480.71 297.62 L480.73 293.4 L480.75 289.18 L480.77 284.96 L480.79 280.74 L480.81 276.53 L480.83 272.31 L480.85 268.09 L480.88 263.87 L480.9 259.65 L480.92 255.43 L480.94 251.22 L480.96 247 L480.98 242.78 L481 238.56 L481.08 234.34 L481.17 230.12 L481.25 225.91 L481.33 221.69 L481.42 217.47 L481.5 213.25 L481.67 209.03 L481.83 204.81 L482 200.6 L482.17 196.38 L482.32 192.16 L482.45 187.94 L482.57 183.72 L482.68 179.5 L482.78 175.29 L482.88 171.07 L482.93 166.85 L482.97 162.63 L483.01 158.41 L483.05 154.19 L483.08 149.98 L483.12 145.76 L483.16 141.54 L483.2 137.32 L483.21 133.1 L483.22 128.88 L483.23 124.67 L483.23 120.45 L483.24 116.23 L483.25 112.01 L483.26 107.79 L483.27 103.57 L483.27 99.36 L483.28 95.14 L483.29 90.92 L483.3 86.7Z" fill="url(#st5)" filter="url(#bl1)"/>
<g><rect x="470.5" y="91.19" width="18" height="0.6" fill="#fff" opacity="0.15"/><rect x="470.5" y="92.53" width="18" height="0.6" fill="#fff" opacity="0.1"/><rect x="470.5" y="94.4" width="18" height="0.6" fill="#fff" opacity="0.14"/><rect x="470.5" y="95.76" width="18" height="0.6" fill="#fff" opacity="0.11"/><rect x="470.5" y="114.46" width="18" height="0.6" fill="#fff" opacity="0.12"/><rect x="470.5" y="124.62" width="18" height="0.6" fill="#fff" opacity="0.09"/><rect x="470.5" y="125.86" width="18" height="0.6" fill="#fff" opacity="0.07"/><rect x="470.5" y="131.07" width="18" height="0.6" fill="#fff" opacity="0.08"/><rect x="470.5" y="140.46" width="18" height="0.6" fill="#fff" opacity="0.17"/><rect x="470.5" y="141.9" width="18" height="0.6" fill="#fff" opacity="0.16"/><rect x="470.5" y="146.46" width="18" height="0.6" fill="#fff" opacity="0.07"/><rect x="470.5" y="148.5" width="18" height="0.6" fill="#fff" opacity="0.07"/><rect x="470.5" y="152.07" width="18" height="0.6" fill="#fff" opacity="0.13"/><rect x="470.5" y="158.36" width="18" height="0.6" fill="#fff" opacity="0.08"/><rect x="470.5" y="161.81" width="18" height="0.6" fill="#fff" opacity="0.15"/><rect x="470.5" y="167.04" width="18" height="0.6" fill="#fff" opacity="0.08"/><rect x="470.5" y="168.78" width="18" height="0.6" fill="#fff" opacity="0.16"/><rect x="470.5" y="169.98" width="18" height="0.6" fill="#fff" opacity="0.07"/><rect x="470.5" y="175.79" width="18" height="0.6" fill="#fff" opacity="0.17"/><rect x="470.5" y="177.58" width="18" height="0.6" fill="#fff" opacity="0.16"/><rect x="470.5" y="184.92" width="18" height="0.6" fill="#fff" opacity="0.09"/><rect x="470.5" y="188.81" width="18" height="0.6" fill="#fff" opacity="0.11"/><rect x="470.5" y="192.15" width="18" height="0.6" fill="#fff" opacity="0.11"/><rect x="470.5" y="195.98" width="18" height="0.6" fill="#fff" opacity="0.13"/><rect x="470.5" y="202.47" width="18" height="0.6" fill="#fff" opacity="0.12"/></g>
<rect x="445.6" y="86.7" width="59.1" height="0.8" fill="#e8303a" opacity="0.7"/>
<line x1="445.6" y1="342.2" x2="504.7" y2="342.2" stroke="#231f20" stroke-width="0.9"/>
<line x1="445.6" y1="341.8" x2="445.6" y2="345" stroke="#231f20" stroke-width="0.9"/>
<text x="445.6" y="351.1" font-size="6.2" text-anchor="middle" fill="#333" textLength="13.6" lengthAdjust="spacingAndGlyphs">-3000</text>
<line x1="460.38" y1="341.8" x2="460.38" y2="345" stroke="#231f20" stroke-width="0.9"/>
<text x="460.38" y="351.1" font-size="6.2" text-anchor="middle" fill="#333" textLength="13.6" lengthAdjust="spacingAndGlyphs">-1500</text>
<line x1="475.15" y1="341.8" x2="475.15" y2="345" stroke="#231f20" stroke-width="0.9"/>
<text x="475.15" y="351.1" font-size="6.2" text-anchor="middle" fill="#333" textLength="7.8" lengthAdjust="spacingAndGlyphs">TSS</text>
<line x1="489.93" y1="341.8" x2="489.93" y2="345" stroke="#231f20" stroke-width="0.9"/>
<text x="489.93" y="351.1" font-size="6.2" text-anchor="middle" fill="#333" textLength="11.6" lengthAdjust="spacingAndGlyphs">1500</text>
<line x1="504.7" y1="341.8" x2="504.7" y2="345" stroke="#231f20" stroke-width="0.9"/>
<text x="504.7" y="351.1" font-size="6.2" text-anchor="middle" fill="#333" textLength="12.2" lengthAdjust="spacingAndGlyphs">3000</text>
<line x1="71.3" y1="365.2" x2="71.3" y2="465.6" stroke="#c8c8c8" stroke-width="0.6"/>
<line x1="144.5" y1="385.2" x2="144.5" y2="465.6" stroke="#c8c8c8" stroke-width="0.6"/>
<path d="M47.1 457.4L71.4 457.4C73.13 456.13 74.87 455.31 76.6 453.6C77.9 452.32 79.2 450.85 80.5 448C81.3 446.25 82.1 442.77 82.9 438.5C83.63 434.59 84.37 427.49 85.1 420.8C85.7 415.32 86.3 404.94 86.9 402C87.43 399.38 87.97 398.53 88.5 396.8C89.03 398.53 89.57 399.17 90.1 402C90.57 404.48 91.03 416.36 91.5 420.8C92.47 430.01 93.43 437.86 94.4 441C95.93 445.97 97.47 448.55 99 450.2C101.07 452.42 103.13 453.75 105.2 454.6C108.3 455.88 111.4 456.71 114.5 457.2C119.67 458.01 124.83 458.43 130 458.8C134.83 459.15 139.67 459.33 144.5 459.6L147 460.6L168.8 460.6" fill="none" stroke="#222" stroke-width="1.2" stroke-linejoin="round"/>
<path d="M47.1 457.4L71.4 457.4C73.13 456.03 74.87 455.16 76.6 453.3C77.9 451.91 79.2 450.3 80.5 447.1C81.3 445.13 82.1 441.64 82.9 436C83.53 431.54 84.17 419.53 84.8 410C85.4 400.97 86 385.11 86.6 380C87.23 374.61 87.87 372.8 88.5 369.2C89.1 372.8 89.7 374.17 90.3 380C90.73 384.21 91.17 401.77 91.6 408.4C92.53 422.69 93.47 435.14 94.4 439.4C95.93 446.39 97.47 449.79 99 451.8C101.07 454.51 103.13 456.13 105.2 457C108.3 458.31 111.4 459.06 114.5 459.5C119.67 460.23 124.83 460.58 130 460.9C134.83 461.2 139.67 461.37 144.5 461.6L147 462.2L168.8 462.2" fill="none" stroke="#d83a58" stroke-width="1.1" stroke-linejoin="round"/>
<line x1="42.4" y1="365.2" x2="42.4" y2="466.1" stroke="#3a3a3a" stroke-width="1.1"/>
<line x1="41.9" y1="465.6" x2="173.6" y2="465.6" stroke="#3a3a3a" stroke-width="1.2"/>
<line x1="39.8" y1="374.7" x2="42.4" y2="374.7" stroke="#3a3a3a" stroke-width="0.9"/>
<text x="36.8" y="374.7" font-size="7.4" text-anchor="middle" fill="#3a3a3a" textLength="7.4" lengthAdjust="spacingAndGlyphs" transform="rotate(-90 36.8 374.7)">1.2</text>
<line x1="39.8" y1="390.6" x2="42.4" y2="390.6" stroke="#3a3a3a" stroke-width="0.9"/>
<text x="36.8" y="390.6" font-size="7.4" text-anchor="middle" fill="#3a3a3a" textLength="7.4" lengthAdjust="spacingAndGlyphs" transform="rotate(-90 36.8 390.6)">1.0</text>
<line x1="39.8" y1="406.4" x2="42.4" y2="406.4" stroke="#3a3a3a" stroke-width="0.9"/>
<text x="36.8" y="406.4" font-size="7.4" text-anchor="middle" fill="#3a3a3a" textLength="7.4" lengthAdjust="spacingAndGlyphs" transform="rotate(-90 36.8 406.4)">0.8</text>
<line x1="39.8" y1="421.9" x2="42.4" y2="421.9" stroke="#3a3a3a" stroke-width="0.9"/>
<text x="36.8" y="421.9" font-size="7.4" text-anchor="middle" fill="#3a3a3a" textLength="7.4" lengthAdjust="spacingAndGlyphs" transform="rotate(-90 36.8 421.9)">0.6</text>
<line x1="39.8" y1="437.9" x2="42.4" y2="437.9" stroke="#3a3a3a" stroke-width="0.9"/>
<text x="36.8" y="437.9" font-size="7.4" text-anchor="middle" fill="#3a3a3a" textLength="7.4" lengthAdjust="spacingAndGlyphs" transform="rotate(-90 36.8 437.9)">0.4</text>
<line x1="39.8" y1="453.7" x2="42.4" y2="453.7" stroke="#3a3a3a" stroke-width="0.9"/>
<text x="36.8" y="453.7" font-size="7.4" text-anchor="middle" fill="#3a3a3a" textLength="7.4" lengthAdjust="spacingAndGlyphs" transform="rotate(-90 36.8 453.7)">0.2</text>
<line x1="47.1" y1="465.6" x2="47.1" y2="468.4" stroke="#3a3a3a" stroke-width="0.9"/>
<text x="47.1" y="477.7" font-size="7.1" text-anchor="middle" fill="#333" textLength="5.2" lengthAdjust="spacingAndGlyphs">-1</text>
<line x1="71.3" y1="465.6" x2="71.3" y2="468.4" stroke="#3a3a3a" stroke-width="0.9"/>
<text x="71.3" y="477.7" font-size="7.1" text-anchor="middle" fill="#333" textLength="12.6" lengthAdjust="spacingAndGlyphs">5'End</text>
<line x1="95.8" y1="465.6" x2="95.8" y2="468.4" stroke="#3a3a3a" stroke-width="0.9"/>
<text x="95.8" y="477.7" font-size="7.1" text-anchor="middle" fill="#333" textLength="9.2" lengthAdjust="spacingAndGlyphs">33%</text>
<line x1="120.4" y1="465.6" x2="120.4" y2="468.4" stroke="#3a3a3a" stroke-width="0.9"/>
<text x="120.4" y="477.7" font-size="7.1" text-anchor="middle" fill="#333" textLength="9.8" lengthAdjust="spacingAndGlyphs">66%</text>
<line x1="144.5" y1="465.6" x2="144.5" y2="468.4" stroke="#3a3a3a" stroke-width="0.9"/>
<text x="144.5" y="477.7" font-size="7.1" text-anchor="middle" fill="#333" textLength="11.8" lengthAdjust="spacingAndGlyphs">3'End</text>
<line x1="168.8" y1="465.6" x2="168.8" y2="468.4" stroke="#3a3a3a" stroke-width="0.9"/>
<text x="168.8" y="477.7" font-size="7.1" text-anchor="middle" fill="#333" textLength="2.4" lengthAdjust="spacingAndGlyphs">1</text>
<text x="104.35" y="489.8" font-size="8.8" text-anchor="middle" fill="#444" textLength="77.5" lengthAdjust="spacingAndGlyphs">Genomic region (5′–&gt;3′)</text>
<text x="15.1" y="414.8" font-size="8.8" text-anchor="middle" fill="#444" textLength="76" lengthAdjust="spacingAndGlyphs" transform="rotate(-90 15.1 414.8)">Read count per million</text>
<text x="26.4" y="414.8" font-size="8.8" text-anchor="middle" fill="#444" textLength="50.5" lengthAdjust="spacingAndGlyphs" transform="rotate(-90 26.4 414.8)">mapped reads</text>
<rect x="126.7" y="364.9" width="47.6" height="20.3" fill="#fff" stroke="#555" stroke-width="0.8"/>
<text x="150.8" y="372.7" font-size="8.4" text-anchor="middle" font-weight="bold" fill="#1a1a1a" textLength="23.8" lengthAdjust="spacingAndGlyphs">DMSO</text>
<text x="150.8" y="381.9" font-size="8.4" text-anchor="middle" font-weight="bold" fill="#d01f3c" textLength="38" lengthAdjust="spacingAndGlyphs">VTP50469</text>
<line x1="239.7" y1="364.5" x2="239.7" y2="465.4" stroke="#c8c8c8" stroke-width="0.6"/>
<line x1="313.3" y1="385.2" x2="313.3" y2="465.4" stroke="#c8c8c8" stroke-width="0.6"/>
<path d="M259 447 C262 447 266 451 272 452 L272 458 C266 457 262 456 259 453 Z" fill="#f0a8b4" opacity="0.45"/>
<path d="M262 437 C265 440 268 444 273 445 L273 450 C268 449 265 446 262 443 Z" fill="#c8c8c8" opacity="0.35"/>
<path d="M215.3 454.8L239.6 454.8C240.63 453.53 241.67 452.38 242.7 451C244.27 448.91 245.83 447.36 247.4 444C248.43 441.78 249.47 438.41 250.5 433.2C251.43 428.5 252.37 419.12 253.3 408.4C253.9 401.51 254.5 385.94 255.1 380.6C255.73 374.97 256.37 372.73 257 368.8C257.67 372.73 258.33 375.08 259 380.6C259.67 386.12 260.33 399.43 261 408.4C261.63 416.92 262.27 430.38 262.9 433.2C263.93 437.81 264.97 439.33 266 441C268.07 444.33 270.13 446.74 272.2 447.9C274.23 449.04 276.27 449.68 278.3 450.2C280.53 450.78 282.77 451.24 285 451.5C287 451.73 289 451.78 291 452C294 452.33 297 453.09 300 453.6C303.07 454.12 306.13 454.37 309.2 455.1C310.3 455.36 311.4 455.9 312.5 456.3L314 457.2L337.8 457.2" fill="none" stroke="#2a2a2a" stroke-width="1.3" stroke-linejoin="round"/>
<path d="M215.3 461.2L239.6 461.2C240.63 460.63 241.67 459.87 242.7 459.5C244.27 458.94 245.83 458.95 247.4 458.3C248.93 457.66 250.47 455.53 252 453.3C252.77 452.18 253.53 449.95 254.3 448.7C255.1 447.39 255.9 446.5 256.7 445.4C257.73 447 258.77 449.59 259.8 450.2C261.33 451.11 262.87 451.24 264.4 451.8C265.7 452.28 267 452.68 268.3 453.3C269.6 453.92 270.9 455.7 272.2 455.7C274.23 455.7 276.27 455.7 278.3 455.7C280.53 455.7 282.77 456.23 285 456.4C288.33 456.66 291.67 456.73 295 457C298.33 457.27 301.67 457.78 305 458.2C307 458.45 309 458.73 311 459L313.8 460.8L337.8 460.8" fill="none" stroke="#d83a58" stroke-width="1.2" stroke-linejoin="round"/>
<line x1="211" y1="364.5" x2="211" y2="465.9" stroke="#3a3a3a" stroke-width="1.1"/>
<line x1="210.5" y1="465.4" x2="342.6" y2="465.4" stroke="#3a3a3a" stroke-width="1.2"/>
<line x1="208.4" y1="364.9" x2="211" y2="364.9" stroke="#3a3a3a" stroke-width="0.9"/>
<text x="205.9" y="364.9" font-size="7.4" text-anchor="middle" fill="#3a3a3a" textLength="9.4" lengthAdjust="spacingAndGlyphs" transform="rotate(-90 205.9 364.9)">0.45</text>
<line x1="208.4" y1="377.8" x2="211" y2="377.8" stroke="#3a3a3a" stroke-width="0.9"/>
<text x="205.9" y="377.8" font-size="7.4" text-anchor="middle" fill="#3a3a3a" textLength="9.4" lengthAdjust="spacingAndGlyphs" transform="rotate(-90 205.9 377.8)">0.40</text>
<line x1="208.4" y1="391" x2="211" y2="391" stroke="#3a3a3a" stroke-width="0.9"/>
<text x="205.9" y="391" font-size="7.4" text-anchor="middle" fill="#3a3a3a" textLength="9.4" lengthAdjust="spacingAndGlyphs" transform="rotate(-90 205.9 391)">0.35</text>
<line x1="208.4" y1="404.3" x2="211" y2="404.3" stroke="#3a3a3a" stroke-width="0.9"/>
<text x="205.9" y="404.3" font-size="7.4" text-anchor="middle" fill="#3a3a3a" textLength="9.4" lengthAdjust="spacingAndGlyphs" transform="rotate(-90 205.9 404.3)">0.30</text>
<line x1="208.4" y1="417.3" x2="211" y2="417.3" stroke="#3a3a3a" stroke-width="0.9"/>
<text x="205.9" y="417.3" font-size="7.4" text-anchor="middle" fill="#3a3a3a" textLength="9.4" lengthAdjust="spacingAndGlyphs" transform="rotate(-90 205.9 417.3)">0.25</text>
<line x1="208.4" y1="430.4" x2="211" y2="430.4" stroke="#3a3a3a" stroke-width="0.9"/>
<text x="205.9" y="430.4" font-size="7.4" text-anchor="middle" fill="#3a3a3a" textLength="9.4" lengthAdjust="spacingAndGlyphs" transform="rotate(-90 205.9 430.4)">0.20</text>
<line x1="208.4" y1="443.5" x2="211" y2="443.5" stroke="#3a3a3a" stroke-width="0.9"/>
<text x="205.9" y="443.5" font-size="7.4" text-anchor="middle" fill="#3a3a3a" textLength="9.4" lengthAdjust="spacingAndGlyphs" transform="rotate(-90 205.9 443.5)">0.15</text>
<line x1="208.4" y1="456.7" x2="211" y2="456.7" stroke="#3a3a3a" stroke-width="0.9"/>
<text x="205.9" y="456.7" font-size="7.4" text-anchor="middle" fill="#3a3a3a" textLength="9.4" lengthAdjust="spacingAndGlyphs" transform="rotate(-90 205.9 456.7)">0.10</text>
<line x1="215.3" y1="465.4" x2="215.3" y2="468.2" stroke="#3a3a3a" stroke-width="0.9"/>
<text x="215.3" y="477.5" font-size="7.1" text-anchor="middle" fill="#333" textLength="5.2" lengthAdjust="spacingAndGlyphs">-1</text>
<line x1="239.7" y1="465.4" x2="239.7" y2="468.2" stroke="#3a3a3a" stroke-width="0.9"/>
<text x="239.7" y="477.5" font-size="7.1" text-anchor="middle" fill="#333" textLength="12.6" lengthAdjust="spacingAndGlyphs">5'End</text>
<line x1="264.3" y1="465.4" x2="264.3" y2="468.2" stroke="#3a3a3a" stroke-width="0.9"/>
<text x="264.3" y="477.5" font-size="7.1" text-anchor="middle" fill="#333" textLength="9.2" lengthAdjust="spacingAndGlyphs">33%</text>
<line x1="288.8" y1="465.4" x2="288.8" y2="468.2" stroke="#3a3a3a" stroke-width="0.9"/>
<text x="288.8" y="477.5" font-size="7.1" text-anchor="middle" fill="#333" textLength="9.8" lengthAdjust="spacingAndGlyphs">66%</text>
<line x1="313.3" y1="465.4" x2="313.3" y2="468.2" stroke="#3a3a3a" stroke-width="0.9"/>
<text x="313.3" y="477.5" font-size="7.1" text-anchor="middle" fill="#333" textLength="11.8" lengthAdjust="spacingAndGlyphs">3'End</text>
<line x1="337.8" y1="465.4" x2="337.8" y2="468.2" stroke="#3a3a3a" stroke-width="0.9"/>
<text x="337.8" y="477.5" font-size="7.1" text-anchor="middle" fill="#333" textLength="2.4" lengthAdjust="spacingAndGlyphs">1</text>
<text x="272.95" y="489.6" font-size="8.8" text-anchor="middle" fill="#444" textLength="77.5" lengthAdjust="spacingAndGlyphs">Genomic region (5′–&gt;3′)</text>
<text x="184.2" y="414.8" font-size="8.8" text-anchor="middle" fill="#444" textLength="76" lengthAdjust="spacingAndGlyphs" transform="rotate(-90 184.2 414.8)">Read count per million</text>
<text x="195.5" y="414.8" font-size="8.8" text-anchor="middle" fill="#444" textLength="50.5" lengthAdjust="spacingAndGlyphs" transform="rotate(-90 195.5 414.8)">mapped reads</text>
<rect x="294.9" y="364.2" width="48.1" height="21" fill="#fff" stroke="#555" stroke-width="0.8"/>
<text x="319.25" y="372" font-size="8.4" text-anchor="middle" font-weight="bold" fill="#1a1a1a" textLength="23.8" lengthAdjust="spacingAndGlyphs">DMSO</text>
<text x="319.25" y="381.2" font-size="8.4" text-anchor="middle" font-weight="bold" fill="#d01f3c" textLength="38" lengthAdjust="spacingAndGlyphs">VTP50469</text>
<line x1="409.4" y1="365.4" x2="409.4" y2="465.6" stroke="#c8c8c8" stroke-width="0.6"/>
<line x1="482.7" y1="385.2" x2="482.7" y2="465.6" stroke="#c8c8c8" stroke-width="0.6"/>
<path d="M385.1 453.3L409.3 453.3C410.43 450.6 411.57 447.74 412.7 445.2C414 442.29 415.3 439.5 416.6 437C417.9 434.5 419.2 430.1 420.5 430.1C421.33 430.1 422.17 431.23 423 432.2C423.7 433.01 424.4 434.73 425.1 436C425.87 430 426.63 425.78 427.4 418C427.93 412.59 428.47 402.62 429 396C429.5 389.79 430 381.17 430.5 379C431.2 375.96 431.9 375.4 432.6 373.6C433.23 374.73 433.87 375.26 434.5 377C435.17 378.83 435.83 385.04 436.5 389C437.37 394.15 438.23 399.96 439.1 404.3C440.13 409.47 441.17 413.97 442.2 417.7C443.73 423.24 445.27 427.97 446.8 431.7C448.33 435.43 449.87 438.38 451.4 441C452.6 443.05 453.8 444.96 455 446.4C456.67 448.4 458.33 450.03 460 451.3C462 452.82 464 454.13 466 455C468 455.87 470 456.45 472 457C474 457.55 476 457.76 478 458.4C479.17 458.77 480.33 459.47 481.5 460L483.5 461.8L506.8 461.8" fill="none" stroke="#222" stroke-width="1.5" stroke-linejoin="round"/>
<path d="M385.1 452L409.3 452C410.43 449.33 411.57 446.6 412.7 444C414 441.02 415.3 437.99 416.6 435.3C417.9 432.61 419.2 427.8 420.5 427.8C421.33 427.8 422.17 428.95 423 430C423.7 430.88 424.4 433 425.1 434.5C425.87 428.4 426.63 424.22 427.4 416.2C427.93 410.62 428.47 400.12 429 393C429.5 386.32 430 377.37 430.5 374.4C431.03 371.23 431.57 370.27 432.1 368.2C432.67 369.47 433.23 370.18 433.8 372C434.53 374.36 435.27 381.3 436 385.6C437.03 391.66 438.07 397.68 439.1 402.8C440.13 407.92 441.17 412.91 442.2 416.7C443.73 422.33 445.27 426.97 446.8 430.7C448.33 434.43 449.87 437.38 451.4 440C452.6 442.05 453.8 443.93 455 445.4C456.67 447.44 458.33 449.21 460 450.5C462 452.05 464 453.36 466 454.2C468 455.04 470 455.5 472 456.1C474 456.7 476 457.05 478 457.8C479.17 458.24 480.33 459 481.5 459.6L483.5 461.2L506.8 461.2" fill="none" stroke="#d83a58" stroke-width="1.3" stroke-linejoin="round"/>
<line x1="380.5" y1="365.4" x2="380.5" y2="466.1" stroke="#3a3a3a" stroke-width="1.1"/>
<line x1="380" y1="465.6" x2="511.6" y2="465.6" stroke="#3a3a3a" stroke-width="1.2"/>
<line x1="377.9" y1="365.4" x2="380.5" y2="365.4" stroke="#3a3a3a" stroke-width="0.9"/>
<text x="374" y="365.4" font-size="7.4" text-anchor="middle" fill="#3a3a3a" textLength="7.4" lengthAdjust="spacingAndGlyphs" transform="rotate(-90 374 365.4)">0.5</text>
<line x1="377.9" y1="389.3" x2="380.5" y2="389.3" stroke="#3a3a3a" stroke-width="0.9"/>
<text x="374" y="389.3" font-size="7.4" text-anchor="middle" fill="#3a3a3a" textLength="7.4" lengthAdjust="spacingAndGlyphs" transform="rotate(-90 374 389.3)">0.4</text>
<line x1="377.9" y1="412.5" x2="380.5" y2="412.5" stroke="#3a3a3a" stroke-width="0.9"/>
<text x="374" y="412.5" font-size="7.4" text-anchor="middle" fill="#3a3a3a" textLength="7.4" lengthAdjust="spacingAndGlyphs" transform="rotate(-90 374 412.5)">0.3</text>
<line x1="377.9" y1="435.8" x2="380.5" y2="435.8" stroke="#3a3a3a" stroke-width="0.9"/>
<text x="374" y="435.8" font-size="7.4" text-anchor="middle" fill="#3a3a3a" textLength="7.4" lengthAdjust="spacingAndGlyphs" transform="rotate(-90 374 435.8)">0.2</text>
<line x1="377.9" y1="458.8" x2="380.5" y2="458.8" stroke="#3a3a3a" stroke-width="0.9"/>
<text x="374" y="458.8" font-size="7.4" text-anchor="middle" fill="#3a3a3a" textLength="7.4" lengthAdjust="spacingAndGlyphs" transform="rotate(-90 374 458.8)">0.1</text>
<line x1="385.1" y1="465.6" x2="385.1" y2="468.4" stroke="#3a3a3a" stroke-width="0.9"/>
<text x="385.1" y="477.7" font-size="7.1" text-anchor="middle" fill="#333" textLength="5.2" lengthAdjust="spacingAndGlyphs">-1</text>
<line x1="409.4" y1="465.6" x2="409.4" y2="468.4" stroke="#3a3a3a" stroke-width="0.9"/>
<text x="409.4" y="477.7" font-size="7.1" text-anchor="middle" fill="#333" textLength="12.6" lengthAdjust="spacingAndGlyphs">5'End</text>
<line x1="433.4" y1="465.6" x2="433.4" y2="468.4" stroke="#3a3a3a" stroke-width="0.9"/>
<text x="433.4" y="477.7" font-size="7.1" text-anchor="middle" fill="#333" textLength="9.2" lengthAdjust="spacingAndGlyphs">33%</text>
<line x1="458.1" y1="465.6" x2="458.1" y2="468.4" stroke="#3a3a3a" stroke-width="0.9"/>
<text x="458.1" y="477.7" font-size="7.1" text-anchor="middle" fill="#333" textLength="9.8" lengthAdjust="spacingAndGlyphs">66%</text>
<line x1="482.7" y1="465.6" x2="482.7" y2="468.4" stroke="#3a3a3a" stroke-width="0.9"/>
<text x="482.7" y="477.7" font-size="7.1" text-anchor="middle" fill="#333" textLength="11.8" lengthAdjust="spacingAndGlyphs">3'End</text>
<line x1="506.8" y1="465.6" x2="506.8" y2="468.4" stroke="#3a3a3a" stroke-width="0.9"/>
<text x="506.8" y="477.7" font-size="7.1" text-anchor="middle" fill="#333" textLength="2.4" lengthAdjust="spacingAndGlyphs">1</text>
<text x="442.35" y="489.8" font-size="8.8" text-anchor="middle" fill="#444" textLength="77.5" lengthAdjust="spacingAndGlyphs">Genomic region (5′–&gt;3′)</text>
<text x="352.3" y="414.8" font-size="8.8" text-anchor="middle" fill="#444" textLength="76" lengthAdjust="spacingAndGlyphs" transform="rotate(-90 352.3 414.8)">Read count per million</text>
<text x="362.7" y="414.8" font-size="8.8" text-anchor="middle" fill="#444" textLength="50.5" lengthAdjust="spacingAndGlyphs" transform="rotate(-90 362.7 414.8)">mapped reads</text>
<rect x="464.4" y="364.5" width="47.9" height="20.7" fill="#fff" stroke="#555" stroke-width="0.8"/>
<text x="488.65" y="372.3" font-size="8.4" text-anchor="middle" font-weight="bold" fill="#1a1a1a" textLength="23.8" lengthAdjust="spacingAndGlyphs">DMSO</text>
<text x="488.65" y="381.5" font-size="8.4" text-anchor="middle" font-weight="bold" fill="#d01f3c" textLength="38" lengthAdjust="spacingAndGlyphs">VTP50469</text>
<text x="6.5" y="528.8" font-size="10.4" font-weight="bold" fill="#000">F</text>
<text x="80.8" y="528" font-size="9.4" font-weight="bold" textLength="67.6" lengthAdjust="spacingAndGlyphs">NUP98-HOXA9</text>
<text x="80.8" y="538.7" font-size="9.4" font-weight="bold" textLength="67.6" lengthAdjust="spacingAndGlyphs">Mll1 occupancy</text>
<rect x="7" y="547.1" width="108.4" height="47.9" fill="#fff" stroke="#1a1a1a" stroke-width="1.4"/>
<rect x="9.3" y="549.4" width="103.8" height="43.3" fill="#f6f6f6"/>
<line x1="7.7" y1="562.3" x2="114.7" y2="562.3" stroke="#ececec" stroke-width="0.8"/>
<rect x="7.7" y="578.5" width="107" height="3.1" fill="#c9c9c9"/>
<line x1="8.7" y1="560.6" x2="113.7" y2="560.6" stroke="#666" stroke-width="0.5" stroke-dasharray="0.9 2.2"/>
<path d="M8.7 560.9L9 560.9L9.8 560.9L9.8 560.9L10.6 560.9L10.6 560.89L11.4 560.89L11.4 560.74L12.2 560.74L12.2 560.9L13 560.9L13 560.9L13.8 560.9L13.8 560.46L14.6 560.46L14.6 560.9L15.4 560.9L15.4 560.9L16.2 560.9L16.2 560.9L17 560.9L17 560.88L17.8 560.88L17.8 560.9L18.6 560.9L18.6 560.9L19.4 560.9L19.4 560.9L20.2 560.9L20.2 560.9L21 560.9L21 560.9L21.8 560.9L21.8 560.8L22.6 560.8L22.6 560.9L23.4 560.9L23.4 560.9L24.2 560.9L24.2 560.9L25 560.9L25 560.9L25.8 560.9L25.8 560.9L26.6 560.9L26.6 560.9L27.4 560.9L27.4 560.9L28.2 560.9L28.2 560.9L29 560.9L29 560.9L29.8 560.9L29.8 560.9L30.6 560.9L30.6 560.9L31.4 560.9L31.4 560.9L32.2 560.9L32.2 560.86L33 560.86L33 560.9L33.8 560.9L33.8 560.9L34.6 560.9L34.6 560.69L35.4 560.69L35.4 560.9L36.2 560.9L36.2 560.9L37 560.9L37 560.9L37.8 560.9L37.8 560.9L38.6 560.9L38.6 560.9L39.4 560.9L39.4 560.84L40.2 560.84L40.2 560.72L41 560.72L41 560.62L41.8 560.62L41.8 559.24L42.6 559.24L42.6 557.95L43.4 557.95L43.4 555.01L44.2 555.01L44.2 556.63L45 556.63L45 557.66L45.8 557.66L45.8 558.25L46.6 558.25L46.6 557.17L47.4 557.17L47.4 557.5L48.2 557.5L48.2 557.06L49 557.06L49 557.45L49.8 557.45L49.8 558.77L50.6 558.77L50.6 557.86L51.4 557.86L51.4 557.83L52.2 557.83L52.2 558.11L53 558.11L53 557.68L53.8 557.68L53.8 556.2L54.6 556.2L54.6 556.02L55.4 556.02L55.4 557L56.2 557L56.2 555.84L57 555.84L57 556.47L57.8 556.47L57.8 554.74L58.6 554.74L58.6 553.29L59.4 553.29L59.4 553.03L60.2 553.03L60.2 551.97L61 551.97L61 552.76L61.8 552.76L61.8 553.83L62.6 553.83L62.6 551.79L63.4 551.79L63.4 553.59L64.2 553.59L64.2 555.64L65 555.64L65 555.83L65.8 555.83L65.8 554.24L66.6 554.24L66.6 553.05L67.4 553.05L67.4 553.76L68.2 553.76L68.2 554.42L69 554.42L69 556.3L69.8 556.3L69.8 556L70.6 556L70.6 556.06L71.4 556.06L71.4 555.69L72.2 555.69L72.2 556.76L73 556.76L73 556.98L73.8 556.98L73.8 556.97L74.6 556.97L74.6 558.73L75.4 558.73L75.4 559.05L76.2 559.05L76.2 559.57L77 559.57L77 559.42L77.8 559.42L77.8 559.58L78.6 559.58L78.6 559.85L79.4 559.85L79.4 559.7L80.2 559.7L80.2 559.6L81 559.6L81 559.21L81.8 559.21L81.8 559.89L82.6 559.89L82.6 560.73L83.4 560.73L83.4 560.88L84.2 560.88L84.2 560.3L85 560.3L85 560.9L85.8 560.9L85.8 560.53L86.6 560.53L86.6 560.35L87.4 560.35L87.4 560.9L88.2 560.9L88.2 560.46L89 560.46L89 560.71L89.8 560.71L89.8 560.9L90.6 560.9L90.6 560.9L91.4 560.9L91.4 560.86L92.2 560.86L92.2 560.85L93 560.85L93 560.9L93.8 560.9L93.8 560.9L94.6 560.9L94.6 560.65L95.4 560.65L95.4 560.9L96.2 560.9L96.2 560.67L97 560.67L97 560.9L97.8 560.9L97.8 560.9L98.6 560.9L98.6 560.64L99.4 560.64L99.4 560.9L100.2 560.9L100.2 560.9L101 560.9L101 560.9L101.8 560.9L101.8 560.9L102.6 560.9L102.6 560.9L103.4 560.9L103.4 560.9L104.2 560.9L104.2 560.9L105 560.9L105 560.6L105.8 560.6L105.8 560.9L106.6 560.9L106.6 560.9L107.4 560.9L107.4 560.9L108.2 560.9L108.2 560.9L109 560.9L109 560.9L109.8 560.9L109.8 560.9L110.6 560.9L110.6 560.9L111.4 560.9L111.4 560.9L112.2 560.9L112.2 560.9L113 560.9L113 560.36L113.8 560.36L113.7 560.9 Z" fill="#000"/>
<line x1="8.7" y1="575.4" x2="113.7" y2="575.4" stroke="#ec4048" stroke-width="0.5" stroke-dasharray="1.0 2.0"/>
<path d="M8.7 575.7L9 575.26L9.8 575.26L9.8 575.26L10.6 575.26L10.6 575.7L11.4 575.7L11.4 575.11L12.2 575.11L12.2 575.58L13 575.58L13 575.7L13.8 575.7L13.8 575.7L14.6 575.7L14.6 575.36L15.4 575.36L15.4 575.7L16.2 575.7L16.2 575.7L17 575.7L17 575.7L17.8 575.7L17.8 575.7L18.6 575.7L18.6 575.7L19.4 575.7L19.4 575.7L20.2 575.7L20.2 575.7L21 575.7L21 575.7L21.8 575.7L21.8 575.7L22.6 575.7L22.6 575.7L23.4 575.7L23.4 575.7L24.2 575.7L24.2 575.36L25 575.36L25 575.65L25.8 575.65L25.8 575.11L26.6 575.11L26.6 574.6L27.4 574.6L27.4 575.48L28.2 575.48L28.2 575.31L29 575.31L29 575.09L29.8 575.09L29.8 575.63L30.6 575.63L30.6 575.7L31.4 575.7L31.4 575.34L32.2 575.34L32.2 575.7L33 575.7L33 575.7L33.8 575.7L33.8 575.69L34.6 575.69L34.6 575.68L35.4 575.68L35.4 574.61L36.2 574.61L36.2 574.54L37 574.54L37 575.5L37.8 575.5L37.8 574.98L38.6 574.98L38.6 574.39L39.4 574.39L39.4 575.26L40.2 575.26L40.2 575.38L41 575.38L41 575.21L41.8 575.21L41.8 574.96L42.6 574.96L42.6 575.39L43.4 575.39L43.4 575.49L44.2 575.49L44.2 574.53L45 574.53L45 575.68L45.8 575.68L45.8 574.6L46.6 574.6L46.6 575.24L47.4 575.24L47.4 575.43L48.2 575.43L48.2 575.7L49 575.7L49 575.42L49.8 575.42L49.8 575.45L50.6 575.45L50.6 575.64L51.4 575.64L51.4 575.7L52.2 575.7L52.2 574.71L53 574.71L53 575.7L53.8 575.7L53.8 575.69L54.6 575.69L54.6 574.73L55.4 574.73L55.4 575.62L56.2 575.62L56.2 575.6L57 575.6L57 575.42L57.8 575.42L57.8 575.24L58.6 575.24L58.6 575.15L59.4 575.15L59.4 575.27L60.2 575.27L60.2 573.77L61 573.77L61 574.92L61.8 574.92L61.8 575.48L62.6 575.48L62.6 575.53L63.4 575.53L63.4 575.32L64.2 575.32L64.2 575.56L65 575.56L65 575.2L65.8 575.2L65.8 574L66.6 574L66.6 575.35L67.4 575.35L67.4 575.62L68.2 575.62L68.2 575.69L69 575.69L69 575.7L69.8 575.7L69.8 575.7L70.6 575.7L70.6 575.7L71.4 575.7L71.4 575.7L72.2 575.7L72.2 575.66L73 575.66L73 575.7L73.8 575.7L73.8 575.66L74.6 575.66L74.6 574.42L75.4 574.42L75.4 572.3L76.2 572.3L76.2 572.82L77 572.82L77 572.7L77.8 572.7L77.8 574.62L78.6 574.62L78.6 573.26L79.4 573.26L79.4 573.94L80.2 573.94L80.2 574.63L81 574.63L81 573.72L81.8 573.72L81.8 573.94L82.6 573.94L82.6 575.65L83.4 575.65L83.4 575.7L84.2 575.7L84.2 575.16L85 575.16L85 575.7L85.8 575.7L85.8 575.7L86.6 575.7L86.6 575.1L87.4 575.1L87.4 575.7L88.2 575.7L88.2 575.43L89 575.43L89 574.86L89.8 574.86L89.8 575.7L90.6 575.7L90.6 575.7L91.4 575.7L91.4 575.7L92.2 575.7L92.2 575.7L93 575.7L93 575.7L93.8 575.7L93.8 575.7L94.6 575.7L94.6 574.85L95.4 574.85L95.4 575.7L96.2 575.7L96.2 575.54L97 575.54L97 574.71L97.8 574.71L97.8 575.7L98.6 575.7L98.6 575.7L99.4 575.7L99.4 574.67L100.2 574.67L100.2 575.7L101 575.7L101 575.67L101.8 575.67L101.8 575.7L102.6 575.7L102.6 575.7L103.4 575.7L103.4 575.7L104.2 575.7L104.2 575.7L105 575.7L105 575.7L105.8 575.7L105.8 575.7L106.6 575.7L106.6 574.98L107.4 574.98L107.4 575.7L108.2 575.7L108.2 575.7L109 575.7L109 575.7L109.8 575.7L109.8 575.7L110.6 575.7L110.6 575.7L111.4 575.7L111.4 575.34L112.2 575.34L112.2 575.7L113 575.7L113 575.26L113.8 575.26L113.7 575.7 Z" fill="#e8141e"/>
<text x="110" y="556" font-size="8" text-anchor="end" fill="#222" textLength="23.6" lengthAdjust="spacingAndGlyphs">DMSO</text>
<text x="110.4" y="569.2" font-size="8" text-anchor="end" fill="#e8141e" textLength="35.4" lengthAdjust="spacingAndGlyphs">VTP50469</text>
<line x1="8.5" y1="585.2" x2="76" y2="585.2" stroke="#3b3bb0" stroke-width="0.9"/><path d="M9.7 585.2 L11.9 584 L11.9 586.4 Z" fill="#3b3bb0"/><path d="M18 585.2 L20.2 584 L20.2 586.4 Z" fill="#3b3bb0"/><path d="M26.1 585.2 L28.3 584 L28.3 586.4 Z" fill="#3b3bb0"/><path d="M34.3 585.2 L36.5 584 L36.5 586.4 Z" fill="#3b3bb0"/><path d="M42.5 585.2 L44.7 584 L44.7 586.4 Z" fill="#3b3bb0"/><path d="M51 585.2 L53.2 584 L53.2 586.4 Z" fill="#3b3bb0"/><rect x="54.7" y="583.2" width="1" height="4" fill="#3b3bb0"/><rect x="59.3" y="583.2" width="1" height="4" fill="#3b3bb0"/><rect x="61" y="583.2" width="1" height="4" fill="#3b3bb0"/><rect x="62.7" y="583.2" width="1" height="4" fill="#3b3bb0"/><rect x="64" y="583.2" width="1" height="4" fill="#3b3bb0"/><rect x="59.5" y="583.7" width="5.3" height="3" rx="0.6" fill="#3b3bb0"/><path d="M74.2 583 L77.2 585.2 L74.2 587.4 Z" fill="#3b3bb0"/><path d="M69.8 583.4 L67.8 585.2 L69.8 587 Z" fill="#3b3bb0"/>
<text x="61.5" y="607.5" font-size="9.8" text-anchor="middle" fill="#222" font-style="italic">Meis1</text>
<rect x="119.1" y="547.1" width="108.3" height="48" fill="#fff" stroke="#1a1a1a" stroke-width="1.4"/>
<rect x="121.4" y="549.4" width="103.7" height="43.4" fill="#f6f6f6"/>
<line x1="119.8" y1="562" x2="226.7" y2="562" stroke="#ececec" stroke-width="0.8"/>
<rect x="119.8" y="578.2" width="106.9" height="3.1" fill="#c9c9c9"/>
<line x1="120.8" y1="560.3" x2="225.7" y2="560.3" stroke="#666" stroke-width="0.5" stroke-dasharray="0.9 2.2"/>
<path d="M120.8 560.6L121 560.6L121.8 560.6L121.8 560.6L122.6 560.6L122.6 560.59L123.4 560.59L123.4 560.56L124.2 560.56L124.2 560.3L125 560.3L125 559.51L125.8 559.51L125.8 559.73L126.6 559.73L126.6 559.56L127.4 559.56L127.4 560.22L128.2 560.22L128.2 559.98L129 559.98L129 560.57L129.8 560.57L129.8 559.98L130.6 559.98L130.6 559.59L131.4 559.59L131.4 558.62L132.2 558.62L132.2 559.02L133 559.02L133 559.63L133.8 559.63L133.8 560.05L134.6 560.05L134.6 560.24L135.4 560.24L135.4 560.55L136.2 560.55L136.2 560.6L137 560.6L137 560.6L137.8 560.6L137.8 560.1L138.6 560.1L138.6 560.25L139.4 560.25L139.4 559.7L140.2 559.7L140.2 559.98L141 559.98L141 558.15L141.8 558.15L141.8 558.53L142.6 558.53L142.6 559.01L143.4 559.01L143.4 558.6L144.2 558.6L144.2 559.97L145 559.97L145 560.47L145.8 560.47L145.8 560.57L146.6 560.57L146.6 560.6L147.4 560.6L147.4 560.58L148.2 560.58L148.2 560.51L149 560.51L149 559.85L149.8 559.85L149.8 558.62L150.6 558.62L150.6 558.83L151.4 558.83L151.4 559.55L152.2 559.55L152.2 560.05L153 560.05L153 559.91L153.8 559.91L153.8 560.52L154.6 560.52L154.6 560.29L155.4 560.29L155.4 559.17L156.2 559.17L156.2 557.83L157 557.83L157 558.66L157.8 558.66L157.8 557.52L158.6 557.52L158.6 557.31L159.4 557.31L159.4 556.1L160.2 556.1L160.2 557.71L161 557.71L161 558.28L161.8 558.28L161.8 557.76L162.6 557.76L162.6 557.48L163.4 557.48L163.4 558.11L164.2 558.11L164.2 558.05L165 558.05L165 558.54L165.8 558.54L165.8 556.95L166.6 556.95L166.6 558.13L167.4 558.13L167.4 559.27L168.2 559.27L168.2 559.27L169 559.27L169 558.42L169.8 558.42L169.8 556.5L170.6 556.5L170.6 557.11L171.4 557.11L171.4 558.67L172.2 558.67L172.2 558.73L173 558.73L173 556.62L173.8 556.62L173.8 556.53L174.6 556.53L174.6 556.08L175.4 556.08L175.4 558.61L176.2 558.61L176.2 559.14L177 559.14L177 558.65L177.8 558.65L177.8 557.05L178.6 557.05L178.6 556.51L179.4 556.51L179.4 555.5L180.2 555.5L180.2 557.34L181 557.34L181 557.16L181.8 557.16L181.8 556.23L182.6 556.23L182.6 555.77L183.4 555.77L183.4 556.41L184.2 556.41L184.2 555.82L185 555.82L185 557.97L185.8 557.97L185.8 557.28L186.6 557.28L186.6 556.13L187.4 556.13L187.4 555.68L188.2 555.68L188.2 556.45L189 556.45L189 558.04L189.8 558.04L189.8 553.21L190.6 553.21L190.6 552.48L191.4 552.48L191.4 556.94L192.2 556.94L192.2 557.12L193 557.12L193 557.84L193.8 557.84L193.8 559.38L194.6 559.38L194.6 558.49L195.4 558.49L195.4 559.39L196.2 559.39L196.2 560.58L197 560.58L197 560.6L197.8 560.6L197.8 560.6L198.6 560.6L198.6 560.23L199.4 560.23L199.4 560.6L200.2 560.6L200.2 560.6L201 560.6L201 560.6L201.8 560.6L201.8 560.6L202.6 560.6L202.6 560.6L203.4 560.6L203.4 560.6L204.2 560.6L204.2 560.6L205 560.6L205 560.6L205.8 560.6L205.8 560.6L206.6 560.6L206.6 560.26L207.4 560.26L207.4 560.22L208.2 560.22L208.2 560.6L209 560.6L209 560.43L209.8 560.43L209.8 560.6L210.6 560.6L210.6 560.6L211.4 560.6L211.4 560.01L212.2 560.01L212.2 560.6L213 560.6L213 560.6L213.8 560.6L213.8 560.31L214.6 560.31L214.6 560.6L215.4 560.6L215.4 560.13L216.2 560.13L216.2 560.28L217 560.28L217 560.6L217.8 560.6L217.8 560.44L218.6 560.44L218.6 560.6L219.4 560.6L219.4 560.6L220.2 560.6L220.2 560.6L221 560.6L221 560.6L221.8 560.6L221.8 560.6L222.6 560.6L222.6 560.6L223.4 560.6L223.4 560.28L224.2 560.28L224.2 560.6L225 560.6L225 560.6L225.8 560.6L225.8 560.33L226.6 560.33L225.7 560.6 Z" fill="#000"/>
<line x1="120.8" y1="575.2" x2="225.7" y2="575.2" stroke="#ec4048" stroke-width="0.5" stroke-dasharray="1.0 2.0"/>
<path d="M120.8 575.5L121 575.5L121.8 575.5L121.8 575.5L122.6 575.5L122.6 575.5L123.4 575.5L123.4 574.81L124.2 574.81L124.2 575.5L125 575.5L125 575.02L125.8 575.02L125.8 575L126.6 575L126.6 574.78L127.4 574.78L127.4 575.5L128.2 575.5L128.2 574.78L129 574.78L129 575.42L129.8 575.42L129.8 575.5L130.6 575.5L130.6 575.5L131.4 575.5L131.4 574.91L132.2 574.91L132.2 575.5L133 575.5L133 575.49L133.8 575.49L133.8 575.37L134.6 575.37L134.6 574.66L135.4 574.66L135.4 574.17L136.2 574.17L136.2 575.05L137 575.05L137 575.45L137.8 575.45L137.8 574.9L138.6 574.9L138.6 575.06L139.4 575.06L139.4 574.72L140.2 574.72L140.2 574.8L141 574.8L141 574.69L141.8 574.69L141.8 575.16L142.6 575.16L142.6 574.6L143.4 574.6L143.4 574.83L144.2 574.83L144.2 575.5L145 575.5L145 575.5L145.8 575.5L145.8 575.5L146.6 575.5L146.6 574.75L147.4 574.75L147.4 575.5L148.2 575.5L148.2 575.5L149 575.5L149 574.83L149.8 574.83L149.8 575.5L150.6 575.5L150.6 575.48L151.4 575.48L151.4 575.5L152.2 575.5L152.2 575.09L153 575.09L153 575.13L153.8 575.13L153.8 575.5L154.6 575.5L154.6 575.5L155.4 575.5L155.4 575.16L156.2 575.16L156.2 575.5L157 575.5L157 575.43L157.8 575.43L157.8 574.71L158.6 574.71L158.6 574.25L159.4 574.25L159.4 574.32L160.2 574.32L160.2 575.33L161 575.33L161 575.09L161.8 575.09L161.8 574.79L162.6 574.79L162.6 575.3L163.4 575.3L163.4 574.61L164.2 574.61L164.2 574.13L165 574.13L165 575.15L165.8 575.15L165.8 575.48L166.6 575.48L166.6 575.5L167.4 575.5L167.4 575.17L168.2 575.17L168.2 575.5L169 575.5L169 574.9L169.8 574.9L169.8 574.34L170.6 574.34L170.6 571.8L171.4 571.8L171.4 571.1L172.2 571.1L172.2 574.02L173 574.02L173 574.13L173.8 574.13L173.8 574.02L174.6 574.02L174.6 575.11L175.4 575.11L175.4 575.46L176.2 575.46L176.2 575.49L177 575.49L177 574.63L177.8 574.63L177.8 574L178.6 574L178.6 573.76L179.4 573.76L179.4 571.13L180.2 571.13L180.2 574.46L181 574.46L181 574.39L181.8 574.39L181.8 573.04L182.6 573.04L182.6 572.97L183.4 572.97L183.4 574.34L184.2 574.34L184.2 574.91L185 574.91L185 574.88L185.8 574.88L185.8 573.55L186.6 573.55L186.6 573.92L187.4 573.92L187.4 574.5L188.2 574.5L188.2 575.41L189 575.41L189 574.69L189.8 574.69L189.8 574.13L190.6 574.13L190.6 573.58L191.4 573.58L191.4 574.52L192.2 574.52L192.2 575.44L193 575.44L193 575.35L193.8 575.35L193.8 574.98L194.6 574.98L194.6 575.5L195.4 575.5L195.4 575.16L196.2 575.16L196.2 574.6L197 574.6L197 575.5L197.8 575.5L197.8 575.5L198.6 575.5L198.6 574.9L199.4 574.9L199.4 574.94L200.2 574.94L200.2 575.46L201 575.46L201 574.86L201.8 574.86L201.8 575.47L202.6 575.47L202.6 575.5L203.4 575.5L203.4 575.5L204.2 575.5L204.2 575.08L205 575.08L205 575.5L205.8 575.5L205.8 575.5L206.6 575.5L206.6 574.62L207.4 574.62L207.4 575.5L208.2 575.5L208.2 575.5L209 575.5L209 575.5L209.8 575.5L209.8 575.32L210.6 575.32L210.6 575.5L211.4 575.5L211.4 574.97L212.2 574.97L212.2 575.5L213 575.5L213 575.5L213.8 575.5L213.8 575.5L214.6 575.5L214.6 574.96L215.4 574.96L215.4 575.39L216.2 575.39L216.2 574.67L217 574.67L217 574.75L217.8 574.75L217.8 575.49L218.6 575.49L218.6 574.75L219.4 574.75L219.4 575.5L220.2 575.5L220.2 575.12L221 575.12L221 575.5L221.8 575.5L221.8 575.5L222.6 575.5L222.6 575.5L223.4 575.5L223.4 575.38L224.2 575.38L224.2 575.1L225 575.1L225 575.5L225.8 575.5L225.8 575.5L226.6 575.5L225.7 575.5 Z" fill="#e8141e"/>
<text x="223.4" y="556" font-size="8" text-anchor="end" fill="#222" textLength="23.6" lengthAdjust="spacingAndGlyphs">DMSO</text>
<text x="223.8" y="569.2" font-size="8" text-anchor="end" fill="#e8141e" textLength="35.4" lengthAdjust="spacingAndGlyphs">VTP50469</text>
<line x1="121" y1="585" x2="193" y2="585" stroke="#3b3bb0" stroke-width="0.9"/><path d="M128.1 585 L130.3 583.8 L130.3 586.2 Z" fill="#3b3bb0"/><path d="M138.3 585 L140.5 583.8 L140.5 586.2 Z" fill="#3b3bb0"/><path d="M149.6 585 L151.8 583.8 L151.8 586.2 Z" fill="#3b3bb0"/><path d="M174.7 585 L176.9 583.8 L176.9 586.2 Z" fill="#3b3bb0"/><path d="M182.7 585 L184.9 583.8 L184.9 586.2 Z" fill="#3b3bb0"/><rect x="162.5" y="583" width="1" height="4" fill="#3b3bb0"/><rect x="166.3" y="583" width="1" height="4" fill="#3b3bb0"/><rect x="169.8" y="583" width="1" height="4" fill="#3b3bb0"/><rect x="165.2" y="583.3" width="2.6" height="3.4" rx="0.6" fill="#3b3bb0"/><rect x="190.6" y="583.3" width="2.4" height="3.4" rx="0.6" fill="#3b3bb0"/>
<text x="173.1" y="607.3" font-size="9.8" text-anchor="middle" fill="#222" font-style="italic">Eya1</text>
<rect x="7" y="614.5" width="108.4" height="47.7" fill="#fff" stroke="#1a1a1a" stroke-width="1.4"/>
<rect x="9.3" y="616.8" width="103.8" height="43.1" fill="#f6f6f6"/>
<line x1="7.7" y1="628.2" x2="114.7" y2="628.2" stroke="#ececec" stroke-width="0.8"/>
<rect x="7.7" y="643.1" width="107" height="2.3" fill="#c9c9c9"/>
<line x1="8.7" y1="626.5" x2="113.7" y2="626.5" stroke="#666" stroke-width="0.5" stroke-dasharray="0.9 2.2"/>
<path d="M8.7 626.8L9 626.34L9.8 626.34L9.8 626.8L10.6 626.8L10.6 626.44L11.4 626.44L11.4 626.8L12.2 626.8L12.2 626.5L13 626.5L13 626.64L13.8 626.64L13.8 626.8L14.6 626.8L14.6 626.8L15.4 626.8L15.4 626.2L16.2 626.2L16.2 626.72L17 626.72L17 626.8L17.8 626.8L17.8 626.8L18.6 626.8L18.6 626.8L19.4 626.8L19.4 626.71L20.2 626.71L20.2 626.37L21 626.37L21 624.01L21.8 624.01L21.8 621.02L22.6 621.02L22.6 619.48L23.4 619.48L23.4 620.6L24.2 620.6L24.2 619.53L25 619.53L25 622.99L25.8 622.99L25.8 620.87L26.6 620.87L26.6 623.05L27.4 623.05L27.4 623.68L28.2 623.68L28.2 625.49L29 625.49L29 626.62L29.8 626.62L29.8 626.61L30.6 626.61L30.6 626.42L31.4 626.42L31.4 625.81L32.2 625.81L32.2 626.12L33 626.12L33 625.59L33.8 625.59L33.8 625.45L34.6 625.45L34.6 625.92L35.4 625.92L35.4 625.46L36.2 625.46L36.2 625.92L37 625.92L37 626.18L37.8 626.18L37.8 626.15L38.6 626.15L38.6 626.26L39.4 626.26L39.4 626.53L40.2 626.53L40.2 626.62L41 626.62L41 626.54L41.8 626.54L41.8 626.41L42.6 626.41L42.6 626.76L43.4 626.76L43.4 626.67L44.2 626.67L44.2 625.96L45 625.96L45 624.29L45.8 624.29L45.8 623.65L46.6 623.65L46.6 624.69L47.4 624.69L47.4 622.94L48.2 622.94L48.2 622.53L49 622.53L49 623.49L49.8 623.49L49.8 624.48L50.6 624.48L50.6 623.89L51.4 623.89L51.4 624.27L52.2 624.27L52.2 623.99L53 623.99L53 623.98L53.8 623.98L53.8 623.16L54.6 623.16L54.6 623.22L55.4 623.22L55.4 622.45L56.2 622.45L56.2 623.7L57 623.7L57 623.19L57.8 623.19L57.8 624.48L58.6 624.48L58.6 625.63L59.4 625.63L59.4 625.77L60.2 625.77L60.2 623.14L61 623.14L61 623.66L61.8 623.66L61.8 625.83L62.6 625.83L62.6 624.79L63.4 624.79L63.4 622.53L64.2 622.53L64.2 623.61L65 623.61L65 626.23L65.8 626.23L65.8 623.1L66.6 623.1L66.6 616.69L67.4 616.69L67.4 622.07L68.2 622.07L68.2 620.31L69 620.31L69 622.97L69.8 622.97L69.8 625.29L70.6 625.29L70.6 625.32L71.4 625.32L71.4 625.42L72.2 625.42L72.2 625.44L73 625.44L73 626.08L73.8 626.08L73.8 625.44L74.6 625.44L74.6 625.58L75.4 625.58L75.4 625.45L76.2 625.45L76.2 625.79L77 625.79L77 625.8L77.8 625.8L77.8 625.72L78.6 625.72L78.6 626.25L79.4 626.25L79.4 626.33L80.2 626.33L80.2 626.66L81 626.66L81 626.12L81.8 626.12L81.8 626.75L82.6 626.75L82.6 626.76L83.4 626.76L83.4 626.07L84.2 626.07L84.2 626.68L85 626.68L85 626.56L85.8 626.56L85.8 626.43L86.6 626.43L86.6 626.22L87.4 626.22L87.4 626.28L88.2 626.28L88.2 626.14L89 626.14L89 626.11L89.8 626.11L89.8 625.95L90.6 625.95L90.6 625.85L91.4 625.85L91.4 626.02L92.2 626.02L92.2 626.11L93 626.11L93 625.96L93.8 625.96L93.8 625.93L94.6 625.93L94.6 626.6L95.4 626.6L95.4 626.63L96.2 626.63L96.2 626.72L97 626.72L97 626.72L97.8 626.72L97.8 626.49L98.6 626.49L98.6 624.92L99.4 624.92L99.4 624.07L100.2 624.07L100.2 624.48L101 624.48L101 626.04L101.8 626.04L101.8 626.37L102.6 626.37L102.6 626.25L103.4 626.25L103.4 626.2L104.2 626.2L104.2 626.04L105 626.04L105 626.13L105.8 626.13L105.8 626.43L106.6 626.43L106.6 626.44L107.4 626.44L107.4 626.35L108.2 626.35L108.2 626.68L109 626.68L109 626.76L109.8 626.76L109.8 626.28L110.6 626.28L110.6 626.18L111.4 626.18L111.4 626.13L112.2 626.13L112.2 626.8L113 626.8L113 626.8L113.8 626.8L113.7 626.8 Z" fill="#000"/>
<line x1="8.7" y1="642.1" x2="113.7" y2="642.1" stroke="#ec4048" stroke-width="0.5" stroke-dasharray="1.0 2.0"/>
<path d="M8.7 642.4L9 642.4L9.8 642.4L9.8 642.4L10.6 642.4L10.6 641.9L11.4 641.9L11.4 642.4L12.2 642.4L12.2 642.4L13 642.4L13 641.98L13.8 641.98L13.8 642.39L14.6 642.39L14.6 642.4L15.4 642.4L15.4 642.34L16.2 642.34L16.2 642.4L17 642.4L17 642.4L17.8 642.4L17.8 642.4L18.6 642.4L18.6 642.4L19.4 642.4L19.4 642.4L20.2 642.4L20.2 642.39L21 642.39L21 641.85L21.8 641.85L21.8 641.34L22.6 641.34L22.6 640.89L23.4 640.89L23.4 640.4L24.2 640.4L24.2 640.77L25 640.77L25 641.38L25.8 641.38L25.8 640.9L26.6 640.9L26.6 641.67L27.4 641.67L27.4 642.04L28.2 642.04L28.2 641.94L29 641.94L29 642.4L29.8 642.4L29.8 642.39L30.6 642.39L30.6 642.19L31.4 642.19L31.4 642.4L32.2 642.4L32.2 642.19L33 642.19L33 642.27L33.8 642.27L33.8 641.14L34.6 641.14L34.6 641.29L35.4 641.29L35.4 641.94L36.2 641.94L36.2 642.38L37 642.38L37 642.4L37.8 642.4L37.8 642.35L38.6 642.35L38.6 642.14L39.4 642.14L39.4 642.4L40.2 642.4L40.2 642.4L41 642.4L41 642.39L41.8 642.39L41.8 642.11L42.6 642.11L42.6 641.91L43.4 641.91L43.4 642.38L44.2 642.38L44.2 642.25L45 642.25L45 641.93L45.8 641.93L45.8 640.92L46.6 640.92L46.6 640.35L47.4 640.35L47.4 641.09L48.2 641.09L48.2 641.74L49 641.74L49 641.4L49.8 641.4L49.8 640.97L50.6 640.97L50.6 641.14L51.4 641.14L51.4 641.42L52.2 641.42L52.2 641.29L53 641.29L53 641.14L53.8 641.14L53.8 640.59L54.6 640.59L54.6 641.32L55.4 641.32L55.4 641.53L56.2 641.53L56.2 641.15L57 641.15L57 641.68L57.8 641.68L57.8 642.28L58.6 642.28L58.6 642.05L59.4 642.05L59.4 642.17L60.2 642.17L60.2 641.62L61 641.62L61 641.11L61.8 641.11L61.8 640.3L62.6 640.3L62.6 641.43L63.4 641.43L63.4 641.82L64.2 641.82L64.2 640.72L65 640.72L65 640.55L65.8 640.55L65.8 640.75L66.6 640.75L66.6 641.08L67.4 641.08L67.4 640.51L68.2 640.51L68.2 641.04L69 641.04L69 641.81L69.8 641.81L69.8 642.36L70.6 642.36L70.6 642.36L71.4 642.36L71.4 642.19L72.2 642.19L72.2 642.4L73 642.4L73 642L73.8 642L73.8 641.96L74.6 641.96L74.6 641.92L75.4 641.92L75.4 642.4L76.2 642.4L76.2 642.4L77 642.4L77 642.4L77.8 642.4L77.8 642.4L78.6 642.4L78.6 642.07L79.4 642.07L79.4 642.4L80.2 642.4L80.2 642.4L81 642.4L81 642.4L81.8 642.4L81.8 642.17L82.6 642.17L82.6 642.4L83.4 642.4L83.4 642.1L84.2 642.1L84.2 642.4L85 642.4L85 641.94L85.8 641.94L85.8 642.4L86.6 642.4L86.6 642.4L87.4 642.4L87.4 642.4L88.2 642.4L88.2 642.25L89 642.25L89 642.14L89.8 642.14L89.8 642.4L90.6 642.4L90.6 642.27L91.4 642.27L91.4 642.4L92.2 642.4L92.2 642.29L93 642.29L93 642.03L93.8 642.03L93.8 642.12L94.6 642.12L94.6 642.4L95.4 642.4L95.4 641.96L96.2 641.96L96.2 642.4L97 642.4L97 642.4L97.8 642.4L97.8 642.4L98.6 642.4L98.6 642.2L99.4 642.2L99.4 642.31L100.2 642.31L100.2 640.55L101 640.55L101 640.76L101.8 640.76L101.8 642.37L102.6 642.37L102.6 642.4L103.4 642.4L103.4 642.4L104.2 642.4L104.2 642.4L105 642.4L105 642.4L105.8 642.4L105.8 642.06L106.6 642.06L106.6 641.98L107.4 641.98L107.4 642.4L108.2 642.4L108.2 642.4L109 642.4L109 642.14L109.8 642.14L109.8 642.4L110.6 642.4L110.6 642.2L111.4 642.2L111.4 641.93L112.2 641.93L112.2 642.4L113 642.4L113 642.06L113.8 642.06L113.7 642.4 Z" fill="#e8141e"/>
<text x="110" y="622.6" font-size="8" text-anchor="end" fill="#222" textLength="23.6" lengthAdjust="spacingAndGlyphs">DMSO</text>
<text x="110.4" y="636.2" font-size="8" text-anchor="end" fill="#e8141e" textLength="35.4" lengthAdjust="spacingAndGlyphs">VTP50469</text>
<line x1="8.5" y1="650.3" x2="95.8" y2="650.3" stroke="#3b3bb0" stroke-width="0.9"/><path d="M16.7 650.3 L18.9 649.1 L18.9 651.5 Z" fill="#3b3bb0"/><path d="M28.5 650.3 L30.7 649.1 L30.7 651.5 Z" fill="#3b3bb0"/><path d="M40 650.3 L42.2 649.1 L42.2 651.5 Z" fill="#3b3bb0"/><path d="M51.5 650.3 L53.7 649.1 L53.7 651.5 Z" fill="#3b3bb0"/><path d="M63.2 650.3 L65.4 649.1 L65.4 651.5 Z" fill="#3b3bb0"/><path d="M74.3 650.3 L76.5 649.1 L76.5 651.5 Z" fill="#3b3bb0"/><rect x="89.3" y="648.3" width="1" height="4" fill="#3b3bb0"/><rect x="93.6" y="648" width="3.3" height="4.6" rx="0.6" fill="#3b3bb0"/>
<text x="61.9" y="675" font-size="9.8" text-anchor="middle" fill="#222" font-style="italic">Pbx3</text>
<rect x="119.1" y="614.5" width="108.3" height="47.7" fill="#fff" stroke="#1a1a1a" stroke-width="1.4"/>
<rect x="121.4" y="616.8" width="103.7" height="43.1" fill="#f6f6f6"/>
<line x1="119.8" y1="628.6" x2="226.7" y2="628.6" stroke="#ececec" stroke-width="0.8"/>
<rect x="119.8" y="645.1" width="106.9" height="2.5" fill="#c9c9c9"/>
<line x1="120.8" y1="626.9" x2="225.7" y2="626.9" stroke="#666" stroke-width="0.5" stroke-dasharray="0.9 2.2"/>
<path d="M120.8 627.2L121 627.18L121.6 627.18L121.6 627.17L122.2 627.17L122.2 627.16L122.8 627.16L122.8 626.98L123.4 626.98L123.4 627.03L124 627.03L124 627.12L124.6 627.12L124.6 627.04L125.2 627.04L125.2 627.09L125.8 627.09L125.8 627.06L126.4 627.06L126.4 627.04L127 627.04L127 626.93L127.6 626.93L127.6 626.99L128.2 626.99L128.2 626.88L128.8 626.88L128.8 626.69L129.4 626.69L129.4 626.91L130 626.91L130 626.74L130.6 626.74L130.6 626.71L131.2 626.71L131.2 626.62L131.8 626.62L131.8 626.8L132.4 626.8L132.4 626.74L133 626.74L133 626.76L133.6 626.76L133.6 626.59L134.2 626.59L134.2 626.7L134.8 626.7L134.8 626.71L135.4 626.71L135.4 626.73L136 626.73L136 626.73L136.6 626.73L136.6 626.54L137.2 626.54L137.2 626.66L137.8 626.66L137.8 626.75L138.4 626.75L138.4 626.8L139 626.8L139 626.62L139.6 626.62L139.6 626.86L140.2 626.86L140.2 626.87L140.8 626.87L140.8 626.8L141.4 626.8L141.4 626.93L142 626.93L142 626.97L142.6 626.97L142.6 626.99L143.2 626.99L143.2 627.04L143.8 627.04L143.8 627.06L144.4 627.06L144.4 627.08L145 627.08L145 626.91L145.6 626.91L145.6 627.12L146.2 627.12L146.2 627.13L146.8 627.13L146.8 627.14L147.4 627.14L147.4 626.93L148 626.93L148 626.88L148.6 626.88L148.6 627.17L149.2 627.17L149.2 627.18L149.8 627.18L149.8 626.93L150.4 626.93L150.4 626.9L151 626.9L151 627.19L151.6 627.19L151.6 627.19L152.2 627.19L152.2 627.13L152.8 627.13L152.8 627.19L153.4 627.19L153.4 627.18L154 627.18L154 627.13L154.6 627.13L154.6 626.82L155.2 626.82L155.2 626.5L155.8 626.5L155.8 625.98L156.4 625.98L156.4 625.07L157 625.07L157 624.01L157.6 624.01L157.6 622.77L158.2 622.77L158.2 622.09L158.8 622.09L158.8 621.41L159.4 621.41L159.4 621.41L160 621.41L160 620.88L160.6 620.88L160.6 620.54L161.2 620.54L161.2 620.58L161.8 620.58L161.8 621.06L162.4 621.06L162.4 621.64L163 621.64L163 622.7L163.6 622.7L163.6 623.26L164.2 623.26L164.2 623.22L164.8 623.22L164.8 623.91L165.4 623.91L165.4 624.46L166 624.46L166 625.26L166.6 625.26L166.6 625.73L167.2 625.73L167.2 625.79L167.8 625.79L167.8 625.99L168.4 625.99L168.4 625.84L169 625.84L169 625.57L169.6 625.57L169.6 625.22L170.2 625.22L170.2 625.42L170.8 625.42L170.8 625.51L171.4 625.51L171.4 625.74L172 625.74L172 626.08L172.6 626.08L172.6 626.11L173.2 626.11L173.2 626.56L173.8 626.56L173.8 626.64L174.4 626.64L174.4 626.44L175 626.44L175 625.95L175.6 625.95L175.6 625.39L176.2 625.39L176.2 624.66L176.8 624.66L176.8 624.11L177.4 624.11L177.4 623.91L178 623.91L178 623.44L178.6 623.44L178.6 622.91L179.2 622.91L179.2 621.75L179.8 621.75L179.8 619.84L180.4 619.84L180.4 618.19L181 618.19L181 617.11L181.6 617.11L181.6 617.58L182.2 617.58L182.2 618.96L182.8 618.96L182.8 620.71L183.4 620.71L183.4 621.62L184 621.62L184 621.73L184.6 621.73L184.6 622.36L185.2 622.36L185.2 623.54L185.8 623.54L185.8 624.89L186.4 624.89L186.4 626.23L187 626.23L187 626.85L187.6 626.85L187.6 627.1L188.2 627.1L188.2 627.04L188.8 627.04L188.8 627.2L189.4 627.2L189.4 627.08L190 627.08L190 627.04L190.6 627.04L190.6 627.2L191.2 627.2L191.2 627.01L191.8 627.01L191.8 627.2L192.4 627.2L192.4 627.2L193 627.2L193 627.2L193.6 627.2L193.6 627.2L194.2 627.2L194.2 627.03L194.8 627.03L194.8 627.2L195.4 627.2L195.4 627.19L196 627.19L196 626.95L196.6 626.95L196.6 627.12L197.2 627.12L197.2 626.74L197.8 626.74L197.8 626.77L198.4 626.77L198.4 626.5L199 626.5L199 625.97L199.6 625.97L199.6 625.54L200.2 625.54L200.2 624.88L200.8 624.88L200.8 624.79L201.4 624.79L201.4 624.75L202 624.75L202 625.16L202.6 625.16L202.6 625.75L203.2 625.75L203.2 626.22L203.8 626.22L203.8 626.58L204.4 626.58L204.4 626.87L205 626.87L205 626.92L205.6 626.92L205.6 627.04L206.2 627.04L206.2 627.18L206.8 627.18L206.8 627.19L207.4 627.19L207.4 627.14L208 627.14L208 627.2L208.6 627.2L208.6 627.14L209.2 627.14L209.2 627.2L209.8 627.2L209.8 626.99L210.4 626.99L210.4 627.2L211 627.2L211 627.2L211.6 627.2L211.6 627.2L212.2 627.2L212.2 627.2L212.8 627.2L212.8 627.2L213.4 627.2L213.4 627.2L214 627.2L214 627.2L214.6 627.2L214.6 627.09L215.2 627.09L215.2 627.2L215.8 627.2L215.8 627.04L216.4 627.04L216.4 627.2L217 627.2L217 627.2L217.6 627.2L217.6 626.94L218.2 626.94L218.2 626.95L218.8 626.95L218.8 627.11L219.4 627.11L219.4 627.2L220 627.2L220 627.2L220.6 627.2L220.6 627.15L221.2 627.15L221.2 627.2L221.8 627.2L221.8 627.2L222.4 627.2L222.4 627.2L223 627.2L223 627.2L223.6 627.2L223.6 627.09L224.2 627.09L224.2 627.2L224.8 627.2L224.8 627.2L225.4 627.2L225.4 627.2L226 627.2L226 626.91L226.6 626.91L225.7 627.2 Z" fill="#000"/>
<line x1="120.8" y1="641.9" x2="225.7" y2="641.9" stroke="#ec4048" stroke-width="0.5" stroke-dasharray="1.0 2.0"/>
<path d="M120.8 642.2L121 642.19L121.6 642.19L121.6 641.99L122.2 641.99L122.2 642.19L122.8 642.19L122.8 642.19L123.4 642.19L123.4 641.94L124 641.94L124 641.96L124.6 641.96L124.6 642.17L125.2 642.17L125.2 642.17L125.8 642.17L125.8 642.16L126.4 642.16L126.4 641.96L127 641.96L127 642.14L127.6 642.14L127.6 642.14L128.2 642.14L128.2 642.13L128.8 642.13L128.8 642.12L129.4 642.12L129.4 642.1L130 642.1L130 642.09L130.6 642.09L130.6 642.08L131.2 642.08L131.2 642L131.8 642L131.8 641.93L132.4 641.93L132.4 642.03L133 642.03L133 642.02L133.6 642.02L133.6 642.01L134.2 642.01L134.2 641.99L134.8 641.99L134.8 641.98L135.4 641.98L135.4 641.77L136 641.77L136 641.94L136.6 641.94L136.6 641.87L137.2 641.87L137.2 641.9L137.8 641.9L137.8 641.76L138.4 641.76L138.4 641.9L139 641.9L139 641.91L139.6 641.91L139.6 641.73L140.2 641.73L140.2 641.91L140.8 641.91L140.8 641.92L141.4 641.92L141.4 641.91L142 641.91L142 641.91L142.6 641.91L142.6 641.93L143.2 641.93L143.2 641.92L143.8 641.92L143.8 641.82L144.4 641.82L144.4 641.96L145 641.96L145 641.97L145.6 641.97L145.6 641.98L146.2 641.98L146.2 642.01L146.8 642.01L146.8 642.01L147.4 642.01L147.4 641.9L148 641.9L148 642.02L148.6 642.02L148.6 642.06L149.2 642.06L149.2 642.07L149.8 642.07L149.8 642.08L150.4 642.08L150.4 642.06L151 642.06L151 642L151.6 642L151.6 641.86L152.2 641.86L152.2 641.47L152.8 641.47L152.8 641.05L153.4 641.05L153.4 640.39L154 640.39L154 639.67L154.6 639.67L154.6 639.16L155.2 639.16L155.2 639.07L155.8 639.07L155.8 639.07L156.4 639.07L156.4 639.34L157 639.34L157 638.94L157.6 638.94L157.6 637.92L158.2 637.92L158.2 637.09L158.8 637.09L158.8 634.95L159.4 634.95L159.4 634.02L160 634.02L160 633.18L160.6 633.18L160.6 632.51L161.2 632.51L161.2 633.45L161.8 633.45L161.8 634.95L162.4 634.95L162.4 636.22L163 636.22L163 637.35L163.6 637.35L163.6 637.6L164.2 637.6L164.2 637.78L164.8 637.78L164.8 637.51L165.4 637.51L165.4 637.72L166 637.72L166 638.46L166.6 638.46L166.6 639.02L167.2 639.02L167.2 639.27L167.8 639.27L167.8 639.63L168.4 639.63L168.4 639.52L169 639.52L169 639.12L169.6 639.12L169.6 638.64L170.2 638.64L170.2 638.28L170.8 638.28L170.8 638.02L171.4 638.02L171.4 638.02L172 638.02L172 638.28L172.6 638.28L172.6 638.63L173.2 638.63L173.2 639.31L173.8 639.31L173.8 639.33L174.4 639.33L174.4 639.54L175 639.54L175 639.07L175.6 639.07L175.6 638.4L176.2 638.4L176.2 637.44L176.8 637.44L176.8 636.99L177.4 636.99L177.4 637.26L178 637.26L178 637.17L178.6 637.17L178.6 637.26L179.2 637.26L179.2 636.99L179.8 636.99L179.8 636L180.4 636L180.4 635.07L181 635.07L181 634.79L181.6 634.79L181.6 634.32L182.2 634.32L182.2 635.25L182.8 635.25L182.8 636.37L183.4 636.37L183.4 636.75L184 636.75L184 637.38L184.6 637.38L184.6 637.4L185.2 637.4L185.2 637.63L185.8 637.63L185.8 638.86L186.4 638.86L186.4 640.25L187 640.25L187 641.37L187.6 641.37L187.6 641.9L188.2 641.9L188.2 642.13L188.8 642.13L188.8 642.19L189.4 642.19L189.4 642.2L190 642.2L190 642.2L190.6 642.2L190.6 642.2L191.2 642.2L191.2 642.2L191.8 642.2L191.8 642.19L192.4 642.19L192.4 642.2L193 642.2L193 642.04L193.6 642.04L193.6 641.96L194.2 641.96L194.2 642.2L194.8 642.2L194.8 642.2L195.4 642.2L195.4 642.1L196 642.1L196 642.2L196.6 642.2L196.6 642.19L197.2 642.19L197.2 642.18L197.8 642.18L197.8 642.14L198.4 642.14L198.4 642.06L199 642.06L199 641.68L199.6 641.68L199.6 641.52L200.2 641.52L200.2 641.19L200.8 641.19L200.8 640.83L201.4 640.83L201.4 640.28L202 640.28L202 639.8L202.6 639.8L202.6 639.38L203.2 639.38L203.2 639.05L203.8 639.05L203.8 639.35L204.4 639.35L204.4 639.61L205 639.61L205 639.87L205.6 639.87L205.6 640.49L206.2 640.49L206.2 641.23L206.8 641.23L206.8 641.59L207.4 641.59L207.4 641.85L208 641.85L208 642.02L208.6 642.02L208.6 642.05L209.2 642.05L209.2 642.1L209.8 642.1L209.8 642.19L210.4 642.19L210.4 642.2L211 642.2L211 642.19L211.6 642.19L211.6 642.2L212.2 642.2L212.2 642.1L212.8 642.1L212.8 642.2L213.4 642.2L213.4 642.2L214 642.2L214 642.2L214.6 642.2L214.6 642.2L215.2 642.2L215.2 642.2L215.8 642.2L215.8 642.2L216.4 642.2L216.4 642.2L217 642.2L217 642.13L217.6 642.13L217.6 642.2L218.2 642.2L218.2 642.07L218.8 642.07L218.8 642.17L219.4 642.17L219.4 642.2L220 642.2L220 642.2L220.6 642.2L220.6 642.2L221.2 642.2L221.2 642.2L221.8 642.2L221.8 642.2L222.4 642.2L222.4 642.2L223 642.2L223 642.12L223.6 642.12L223.6 642.2L224.2 642.2L224.2 642.2L224.8 642.2L224.8 642.13L225.4 642.13L225.4 642.04L226 642.04L226 642.2L226.6 642.2L225.7 642.2 Z" fill="#e8141e"/>
<text x="223.4" y="622.6" font-size="8" text-anchor="end" fill="#222" textLength="23.6" lengthAdjust="spacingAndGlyphs">DMSO</text>
<text x="223.8" y="635.8" font-size="8" text-anchor="end" fill="#e8141e" textLength="35.4" lengthAdjust="spacingAndGlyphs">VTP50469</text>
<line x1="121" y1="651.8" x2="200.5" y2="651.8" stroke="#3b3bb0" stroke-width="0.9"/><path d="M133.7 651.8 L135.9 650.6 L135.9 653 Z" fill="#3b3bb0"/><path d="M143.7 651.8 L145.9 650.6 L145.9 653 Z" fill="#3b3bb0"/><path d="M153.7 651.8 L155.9 650.6 L155.9 653 Z" fill="#3b3bb0"/><path d="M163.7 651.8 L165.9 650.6 L165.9 653 Z" fill="#3b3bb0"/><path d="M189.7 651.8 L191.9 650.6 L191.9 653 Z" fill="#3b3bb0"/><rect x="172.5" y="649.8" width="1" height="4" fill="#3b3bb0"/><rect x="200" y="649.8" width="1" height="4" fill="#3b3bb0"/><rect x="120.9" y="649.7" width="6.3" height="4.2" rx="0.6" fill="#3b3bb0"/><rect x="178.7" y="650.1" width="5.6" height="3.4" rx="0.6" fill="#3b3bb0"/>
<text x="173.9" y="674.2" font-size="9.8" text-anchor="middle" fill="#222" font-style="italic">Gapdh</text>
<text x="237" y="528.9" font-size="10.4" font-weight="bold" fill="#000">G</text>
<text x="383" y="527.7" font-size="9.1" text-anchor="middle" font-weight="bold" textLength="66.1" lengthAdjust="spacingAndGlyphs">NUP98-HOXA9</text>
<line x1="273.9" y1="590.8" x2="371.3" y2="590.8" stroke="#9a9a9a" stroke-width="0.9" stroke-dasharray="4.2 2.8"/>
<line x1="305.5" y1="607" x2="305.5" y2="626.2" stroke="#3a3a3a" stroke-width="0.8"/>
<path d="M305.5 588 L304.7 588.6 L303.7 589.1 L302.5 589.7 L301.6 590.3 L300.9 591 L300.2 591.8 L299.6 592.6 L298.9 593.3 L297.7 593.9 L295.7 594.6 L293.3 595.4 L290.9 596.4 L292.9 597.1 L295.6 597.9 L297.7 598.6 L299.4 599.2 L301.5 600.1 L302.9 601 L303.2 602 L302.9 602.8 L302.2 603.7 L301.8 604.6 L302.3 605.3 L303 605.8 L304.1 606.5 L305.1 607.2 L305.9 607.2 L306.9 606.5 L308 605.8 L308.7 605.3 L309.2 604.6 L308.8 603.7 L308.1 602.8 L307.8 602 L308.1 601 L309.5 600.1 L311.6 599.2 L313.3 598.6 L315.4 597.9 L318.1 597.1 L320.1 596.4 L317.7 595.4 L315.3 594.6 L313.3 593.9 L312.1 593.3 L311.4 592.6 L310.8 591.8 L310.1 591 L309.4 590.3 L308.5 589.7 L307.3 589.1 L306.3 588.6 L305.5 588Z" fill="#d41c30" stroke="#2b1a1c" stroke-width="0.6" stroke-linejoin="round"/>
<path d="M305.2 620.4 L303.3 621.5 L301.6 622.8 L303.3 624.2 L305.3 626.2 L305.7 626.2 L307.7 624.2 L309.4 622.8 L307.7 621.5 L305.8 620.4Z" fill="#d41c30" stroke="#2b1a1c" stroke-width="0.6" stroke-linejoin="round"/>
<line x1="293.62" y1="595.6" x2="317.38" y2="595.6" stroke="#a5101f" stroke-width="0.6"/>
<line x1="293.41" y1="597" x2="317.59" y2="597" stroke="#a5101f" stroke-width="0.6"/>
<line x1="297.9" y1="598.4" x2="313.1" y2="598.4" stroke="#b3121f" stroke-width="0.6"/>
<line x1="349.5" y1="584.6" x2="349.5" y2="624" stroke="#3a3a3a" stroke-width="0.8"/>
<path d="M349 587.6 L347.9 588.1 L344.7 588.5 L338.8 589.2 L335.2 589.8 L338.2 590.8 L342.8 591.8 L345.1 593.1 L346.4 594.7 L347.7 596.4 L348.7 598.3 L349.2 599.6 L349.8 599.6 L350.3 598.3 L351.3 596.4 L352.6 594.7 L353.9 593.1 L356.2 591.8 L360.8 590.8 L363.8 589.8 L360.2 589.2 L354.3 588.5 L351.1 588.1 L350 587.6Z" fill="#eea0ab" stroke="#2b1a1c" stroke-width="0.6" stroke-linejoin="round"/>
<line x1="337.2" y1="589.6" x2="361.8" y2="589.6" stroke="#d48a95" stroke-width="0.6"/>
<line x1="339.92" y1="591" x2="359.08" y2="591" stroke="#d48a95" stroke-width="0.6"/>
<line x1="345.02" y1="592.6" x2="353.98" y2="592.6" stroke="#d48a95" stroke-width="0.6"/>
<line x1="276.5" y1="575" x2="276.5" y2="638.9" stroke="#231f20" stroke-width="1.1"/>
<line x1="276" y1="638.4" x2="371.3" y2="638.4" stroke="#231f20" stroke-width="1.1"/>
<line x1="273.9" y1="575" x2="276.5" y2="575" stroke="#231f20" stroke-width="0.9"/>
<text x="270.9" y="577.9" font-size="8.2" text-anchor="end" fill="#333">5</text>
<line x1="273.9" y1="590.8" x2="276.5" y2="590.8" stroke="#231f20" stroke-width="0.9"/>
<text x="270.9" y="593.7" font-size="8.2" text-anchor="end" fill="#333">0</text>
<line x1="273.9" y1="606.7" x2="276.5" y2="606.7" stroke="#231f20" stroke-width="0.9"/>
<text x="270.9" y="609.6" font-size="8.2" text-anchor="end" fill="#333">−5</text>
<line x1="273.9" y1="622.6" x2="276.5" y2="622.6" stroke="#231f20" stroke-width="0.9"/>
<text x="270.9" y="625.5" font-size="8.2" text-anchor="end" fill="#333">−10</text>
<line x1="273.9" y1="638.4" x2="276.5" y2="638.4" stroke="#231f20" stroke-width="0.9"/>
<text x="270.9" y="641.3" font-size="8.2" text-anchor="end" fill="#333">−15</text>
<line x1="305.4" y1="638.4" x2="305.4" y2="640.9" stroke="#231f20" stroke-width="0.9"/>
<line x1="349.5" y1="638.4" x2="349.5" y2="640.9" stroke="#231f20" stroke-width="0.9"/>
<text x="325" y="560.8" font-size="10.8" text-anchor="middle" fill="#222" textLength="24.6" lengthAdjust="spacingAndGlyphs">Day 3</text>
<text x="324.7" y="574.4" font-size="9.2" text-anchor="middle" fill="#222" textLength="36.9" lengthAdjust="spacingAndGlyphs">*p=0.0101</text>
<path d="M305.4 580.7 V578.2 H349.5 V580.7" fill="none" stroke="#231f20" stroke-width="0.9"/>
<text x="305.8" y="651.4" font-size="8.3" text-anchor="middle" fill="#333" textLength="24.5" lengthAdjust="spacingAndGlyphs">ΔGene</text>
<text x="305.6" y="660.9" font-size="8.3" text-anchor="middle" fill="#333" textLength="38.8" lengthAdjust="spacingAndGlyphs">expression</text>
<text x="305.6" y="670.4" font-size="8.3" text-anchor="middle" fill="#333" textLength="39.8" lengthAdjust="spacingAndGlyphs">&gt;Log1.5FC</text>
<text x="349.6" y="651.4" font-size="8.3" text-anchor="middle" fill="#333" textLength="33.3" lengthAdjust="spacingAndGlyphs">All genes</text>
<text x="243.8" y="606.6" font-size="8.4" text-anchor="middle" fill="#333" textLength="66.6" lengthAdjust="spacingAndGlyphs" transform="rotate(-90 243.8 606.6)">Log2 fold change in</text>
<text x="255.6" y="607" font-size="8.4" text-anchor="middle" fill="#333" textLength="89.4" lengthAdjust="spacingAndGlyphs" transform="rotate(-90 255.6 607)">MLL1 chromatin occupancy</text>
<line x1="415.9" y1="590.8" x2="513.3" y2="590.8" stroke="#555" stroke-width="0.9" stroke-dasharray="4.2 2.8"/>
<line x1="447.5" y1="602" x2="447.5" y2="626.3" stroke="#3a3a3a" stroke-width="0.8"/>
<path d="M447.5 585.1 L446.7 586.2 L445.6 587.2 L443.3 588 L441.1 588.6 L438.3 590 L437.9 591 L438.9 591.6 L438.6 592.4 L436.3 593.2 L434.8 593.8 L433.4 594.8 L435.5 595.9 L437.7 596.8 L440 597.6 L442 598.5 L443.8 599.3 L445 600.2 L445.9 601 L446.4 602 L446.7 602.8 L448.3 602.8 L448.6 602 L449.1 601 L450 600.2 L451.2 599.3 L453 598.5 L455 597.6 L457.3 596.8 L459.5 595.9 L461.6 594.8 L460.2 593.8 L458.7 593.2 L456.4 592.4 L456.1 591.6 L457.1 591 L456.7 590 L453.9 588.6 L451.7 588 L449.4 587.2 L448.3 586.2 L447.5 585.1Z" fill="#d41c30" stroke="#2b1a1c" stroke-width="0.6" stroke-linejoin="round"/>
<path d="M447 603.2 L446 604.2 L445.3 605.5 L446.5 606.8 L447.2 607.4 L447.8 607.4 L448.5 606.8 L449.7 605.5 L449 604.2 L448 603.2Z" fill="#d41c30" stroke="#2b1a1c" stroke-width="0.6" stroke-linejoin="round"/>
<path d="M447.2 621.8 L446.4 622.4 L445.3 623.4 L446.2 624.6 L447.3 626.3 L447.7 626.3 L448.8 624.6 L449.7 623.4 L448.6 622.4 L447.8 621.8Z" fill="#d41c30" stroke="#2b1a1c" stroke-width="0.6" stroke-linejoin="round"/>
<line x1="439.2" y1="591.3" x2="455.8" y2="591.3" stroke="#a5101f" stroke-width="0.6"/>
<line x1="436.35" y1="593.5" x2="458.65" y2="593.5" stroke="#a5101f" stroke-width="0.6"/>
<line x1="435.73" y1="595.6" x2="459.27" y2="595.6" stroke="#a5101f" stroke-width="0.6"/>
<line x1="439.65" y1="597.2" x2="455.35" y2="597.2" stroke="#b3121f" stroke-width="0.6"/>
<line x1="491.3" y1="585.2" x2="491.3" y2="624.2" stroke="#3a3a3a" stroke-width="0.8"/>
<path d="M490.8 588 L489.7 588.3 L487.1 588.7 L479.5 589.7 L476.4 590.7 L481.6 591.8 L486.1 593.2 L487.8 594.9 L489.6 597 L490.6 599 L491 600 L491.6 600 L492 599 L493 597 L494.8 594.9 L496.5 593.2 L501 591.8 L506.2 590.7 L503.1 589.7 L495.5 588.7 L492.9 588.3 L491.8 588Z" fill="#eea0ab" stroke="#2b1a1c" stroke-width="0.6" stroke-linejoin="round"/>
<line x1="478.75" y1="590.2" x2="503.85" y2="590.2" stroke="#d48a95" stroke-width="0.6"/>
<line x1="481.45" y1="591.6" x2="501.15" y2="591.6" stroke="#d48a95" stroke-width="0.6"/>
<line x1="486.9" y1="593.2" x2="495.7" y2="593.2" stroke="#d48a95" stroke-width="0.6"/>
<line x1="418.5" y1="575" x2="418.5" y2="638.9" stroke="#231f20" stroke-width="1.1"/>
<line x1="418" y1="638.4" x2="513.3" y2="638.4" stroke="#231f20" stroke-width="1.1"/>
<line x1="415.9" y1="575" x2="418.5" y2="575" stroke="#231f20" stroke-width="0.9"/>
<text x="412.9" y="577.9" font-size="8.2" text-anchor="end" fill="#333">5</text>
<line x1="415.9" y1="590.8" x2="418.5" y2="590.8" stroke="#231f20" stroke-width="0.9"/>
<text x="412.9" y="593.7" font-size="8.2" text-anchor="end" fill="#333">0</text>
<line x1="415.9" y1="606.7" x2="418.5" y2="606.7" stroke="#231f20" stroke-width="0.9"/>
<text x="412.9" y="609.6" font-size="8.2" text-anchor="end" fill="#333">−5</text>
<line x1="415.9" y1="622.6" x2="418.5" y2="622.6" stroke="#231f20" stroke-width="0.9"/>
<text x="412.9" y="625.5" font-size="8.2" text-anchor="end" fill="#333">−10</text>
<line x1="415.9" y1="638.4" x2="418.5" y2="638.4" stroke="#231f20" stroke-width="0.9"/>
<text x="412.9" y="641.3" font-size="8.2" text-anchor="end" fill="#333">−15</text>
<line x1="447.4" y1="638.4" x2="447.4" y2="640.9" stroke="#231f20" stroke-width="0.9"/>
<line x1="491.5" y1="638.4" x2="491.5" y2="640.9" stroke="#231f20" stroke-width="0.9"/>
<text x="467" y="560.8" font-size="10.8" text-anchor="middle" fill="#222" textLength="24.6" lengthAdjust="spacingAndGlyphs">Day 6</text>
<text x="469.5" y="574.4" font-size="9.2" text-anchor="middle" fill="#222" textLength="47.5" lengthAdjust="spacingAndGlyphs">****p&lt;0.0001</text>
<path d="M447.4 580.7 V578.2 H491.5 V580.7" fill="none" stroke="#231f20" stroke-width="0.9"/>
<text x="447.8" y="651.4" font-size="8.3" text-anchor="middle" fill="#333" textLength="24.5" lengthAdjust="spacingAndGlyphs">ΔGene</text>
<text x="447.6" y="660.9" font-size="8.3" text-anchor="middle" fill="#333" textLength="38.8" lengthAdjust="spacingAndGlyphs">expression</text>
<text x="447.6" y="670.4" font-size="8.3" text-anchor="middle" fill="#333" textLength="39.8" lengthAdjust="spacingAndGlyphs">&gt;Log1.5FC</text>
<text x="491.6" y="651.4" font-size="8.3" text-anchor="middle" fill="#333" textLength="33.3" lengthAdjust="spacingAndGlyphs">All genes</text>
<text x="385.8" y="606.6" font-size="8.4" text-anchor="middle" fill="#333" textLength="66.6" lengthAdjust="spacingAndGlyphs" transform="rotate(-90 385.8 606.6)">Log2 fold change in</text>
<text x="397.6" y="607" font-size="8.4" text-anchor="middle" fill="#333" textLength="89.4" lengthAdjust="spacingAndGlyphs" transform="rotate(-90 397.6 607)">MLL1 chromatin occupancy</text></svg>
</body></html>
